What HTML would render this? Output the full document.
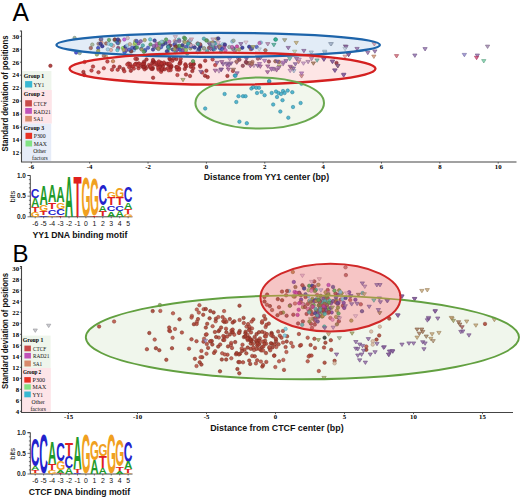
<!DOCTYPE html>
<html><head><meta charset="utf-8"><style>html,body{margin:0;padding:0;background:#fff;overflow:hidden}svg{display:block}</style></head>
<body><svg width="520" height="498" viewBox="0 0 520 498">
<rect x="0" y="0" width="520" height="498" fill="#fff"/>
<text transform="translate(12.6,20.6) scale(0.95,1)" font-family="'Liberation Sans', sans-serif" font-size="26" fill="#000">A</text>
<text x="12.4" y="262.2" font-family="'Liberation Sans', sans-serif" font-size="24" fill="#000">B</text>
<ellipse cx="218.15" cy="44.9" rx="161.75" ry="12.1" fill="#e2ecf7"/>
<ellipse cx="222.5" cy="68.7" rx="153" ry="16" fill="#fde0e0" fill-opacity="0.85"/>
<ellipse cx="259.7" cy="103" rx="64.3" ry="25.6" fill="#f0f6ea" fill-opacity="0.85"/>
<ellipse cx="302.4" cy="337.3" rx="216.6" ry="42" fill="#f0f6ec"/>
<ellipse cx="330.5" cy="297.6" rx="70" ry="33.8" fill="#f8cccc" fill-opacity="0.94"/>
<circle cx="84.6" cy="62.0" r="1.75" fill="#c03a3a" fill-opacity="0.85" stroke="#902b2b" stroke-width="0.5"/>
<circle cx="83.4" cy="72.0" r="1.75" fill="#a82a2a" fill-opacity="0.85" stroke="#7e1f1f" stroke-width="0.5"/>
<circle cx="84.3" cy="75.0" r="1.75" fill="#a42626" fill-opacity="0.85" stroke="#7b1c1c" stroke-width="0.5"/>
<circle cx="93.0" cy="66.6" r="1.75" fill="#b83232" fill-opacity="0.85" stroke="#8a2525" stroke-width="0.5"/>
<circle cx="91.5" cy="70.5" r="1.75" fill="#b83232" fill-opacity="0.85" stroke="#8a2525" stroke-width="0.5"/>
<circle cx="98.5" cy="72.3" r="1.75" fill="#b83232" fill-opacity="0.85" stroke="#8a2525" stroke-width="0.5"/>
<circle cx="103.8" cy="68.2" r="1.75" fill="#c03a3a" fill-opacity="0.85" stroke="#902b2b" stroke-width="0.5"/>
<circle cx="107.4" cy="61.5" r="1.75" fill="#b83232" fill-opacity="0.85" stroke="#8a2525" stroke-width="0.5"/>
<circle cx="113.8" cy="66.6" r="1.75" fill="#a82a2a" fill-opacity="0.85" stroke="#7e1f1f" stroke-width="0.5"/>
<circle cx="112.0" cy="69.7" r="1.75" fill="#b83232" fill-opacity="0.85" stroke="#8a2525" stroke-width="0.5"/>
<circle cx="117.7" cy="69.7" r="1.75" fill="#b83232" fill-opacity="0.85" stroke="#8a2525" stroke-width="0.5"/>
<circle cx="119.7" cy="67.0" r="1.75" fill="#a42626" fill-opacity="0.85" stroke="#7b1c1c" stroke-width="0.5"/>
<circle cx="123.4" cy="69.0" r="1.75" fill="#a42626" fill-opacity="0.85" stroke="#7b1c1c" stroke-width="0.5"/>
<circle cx="124.3" cy="71.2" r="1.75" fill="#b83232" fill-opacity="0.85" stroke="#8a2525" stroke-width="0.5"/>
<circle cx="128.5" cy="63.5" r="1.75" fill="#a82a2a" fill-opacity="0.85" stroke="#7e1f1f" stroke-width="0.5"/>
<circle cx="130.0" cy="64.0" r="1.75" fill="#b83232" fill-opacity="0.85" stroke="#8a2525" stroke-width="0.5"/>
<circle cx="130.8" cy="70.8" r="1.75" fill="#a42626" fill-opacity="0.85" stroke="#7b1c1c" stroke-width="0.5"/>
<circle cx="133.8" cy="68.6" r="1.75" fill="#b83232" fill-opacity="0.85" stroke="#8a2525" stroke-width="0.5"/>
<circle cx="135.4" cy="64.3" r="1.75" fill="#b83232" fill-opacity="0.85" stroke="#8a2525" stroke-width="0.5"/>
<circle cx="137.0" cy="59.0" r="1.75" fill="#a82a2a" fill-opacity="0.85" stroke="#7e1f1f" stroke-width="0.5"/>
<circle cx="138.5" cy="68.2" r="1.75" fill="#b83232" fill-opacity="0.85" stroke="#8a2525" stroke-width="0.5"/>
<circle cx="50.4" cy="65.8" r="1.75" fill="#a42626" fill-opacity="0.85" stroke="#7b1c1c" stroke-width="0.5"/>
<circle cx="135.4" cy="58.8" r="1.75" fill="#b83232" fill-opacity="0.85" stroke="#8a2525" stroke-width="0.5"/>
<circle cx="113.0" cy="61.2" r="1.75" fill="#c88050" fill-opacity="0.85" stroke="#96603c" stroke-width="0.5"/>
<circle cx="106.0" cy="56.6" r="1.75" fill="#c0a070" fill-opacity="0.85" stroke="#907854" stroke-width="0.5"/>
<circle cx="103.8" cy="55.7" r="1.75" fill="#a07060" fill-opacity="0.85" stroke="#785448" stroke-width="0.5"/>
<circle cx="169.4" cy="65.6" r="1.75" fill="#a82a2a" fill-opacity="0.85" stroke="#7e1f1f" stroke-width="0.5"/>
<circle cx="160.1" cy="67.9" r="1.75" fill="#b83232" fill-opacity="0.85" stroke="#8a2525" stroke-width="0.5"/>
<circle cx="138.7" cy="63.6" r="1.75" fill="#a82a2a" fill-opacity="0.85" stroke="#7e1f1f" stroke-width="0.5"/>
<circle cx="184.8" cy="68.9" r="1.75" fill="#a82a2a" fill-opacity="0.85" stroke="#7e1f1f" stroke-width="0.5"/>
<circle cx="144.6" cy="69.3" r="1.75" fill="#b83232" fill-opacity="0.85" stroke="#8a2525" stroke-width="0.5"/>
<circle cx="136.2" cy="63.7" r="1.75" fill="#a42626" fill-opacity="0.85" stroke="#7b1c1c" stroke-width="0.5"/>
<circle cx="153.6" cy="62.1" r="1.75" fill="#c03a3a" fill-opacity="0.85" stroke="#902b2b" stroke-width="0.5"/>
<circle cx="152.8" cy="68.1" r="1.75" fill="#a82a2a" fill-opacity="0.85" stroke="#7e1f1f" stroke-width="0.5"/>
<circle cx="158.1" cy="63.0" r="1.75" fill="#c03a3a" fill-opacity="0.85" stroke="#902b2b" stroke-width="0.5"/>
<circle cx="160.8" cy="62.6" r="1.75" fill="#b83232" fill-opacity="0.85" stroke="#8a2525" stroke-width="0.5"/>
<circle cx="179.1" cy="68.5" r="1.75" fill="#c03a3a" fill-opacity="0.85" stroke="#902b2b" stroke-width="0.5"/>
<circle cx="177.1" cy="69.5" r="1.75" fill="#b83232" fill-opacity="0.85" stroke="#8a2525" stroke-width="0.5"/>
<circle cx="171.2" cy="65.4" r="1.75" fill="#c03a3a" fill-opacity="0.85" stroke="#902b2b" stroke-width="0.5"/>
<circle cx="152.5" cy="68.9" r="1.75" fill="#a42626" fill-opacity="0.85" stroke="#7b1c1c" stroke-width="0.5"/>
<circle cx="142.7" cy="63.7" r="1.75" fill="#b83232" fill-opacity="0.85" stroke="#8a2525" stroke-width="0.5"/>
<circle cx="185.4" cy="64.3" r="1.75" fill="#b83232" fill-opacity="0.85" stroke="#8a2525" stroke-width="0.5"/>
<circle cx="193.3" cy="68.1" r="1.75" fill="#a42626" fill-opacity="0.85" stroke="#7b1c1c" stroke-width="0.5"/>
<circle cx="158.5" cy="69.6" r="1.75" fill="#c03a3a" fill-opacity="0.85" stroke="#902b2b" stroke-width="0.5"/>
<circle cx="186.1" cy="66.4" r="1.75" fill="#a82a2a" fill-opacity="0.85" stroke="#7e1f1f" stroke-width="0.5"/>
<circle cx="144.2" cy="62.9" r="1.75" fill="#a82a2a" fill-opacity="0.85" stroke="#7e1f1f" stroke-width="0.5"/>
<circle cx="164.3" cy="63.8" r="1.75" fill="#a82a2a" fill-opacity="0.85" stroke="#7e1f1f" stroke-width="0.5"/>
<circle cx="150.3" cy="65.9" r="1.75" fill="#a42626" fill-opacity="0.85" stroke="#7b1c1c" stroke-width="0.5"/>
<circle cx="180.7" cy="58.7" r="1.75" fill="#c03a3a" fill-opacity="0.85" stroke="#902b2b" stroke-width="0.5"/>
<circle cx="154.6" cy="62.3" r="1.75" fill="#a82a2a" fill-opacity="0.85" stroke="#7e1f1f" stroke-width="0.5"/>
<circle cx="170.6" cy="67.8" r="1.75" fill="#a82a2a" fill-opacity="0.85" stroke="#7e1f1f" stroke-width="0.5"/>
<circle cx="161.2" cy="65.3" r="1.75" fill="#a82a2a" fill-opacity="0.85" stroke="#7e1f1f" stroke-width="0.5"/>
<circle cx="162.8" cy="66.2" r="1.75" fill="#a42626" fill-opacity="0.85" stroke="#7b1c1c" stroke-width="0.5"/>
<circle cx="134.9" cy="64.6" r="1.75" fill="#c03a3a" fill-opacity="0.85" stroke="#902b2b" stroke-width="0.5"/>
<circle cx="193.8" cy="64.1" r="1.75" fill="#b83232" fill-opacity="0.85" stroke="#8a2525" stroke-width="0.5"/>
<circle cx="193.3" cy="64.0" r="1.75" fill="#a42626" fill-opacity="0.85" stroke="#7b1c1c" stroke-width="0.5"/>
<circle cx="146.1" cy="68.1" r="1.75" fill="#a42626" fill-opacity="0.85" stroke="#7b1c1c" stroke-width="0.5"/>
<circle cx="158.0" cy="64.8" r="1.75" fill="#b83232" fill-opacity="0.85" stroke="#8a2525" stroke-width="0.5"/>
<circle cx="185.5" cy="65.4" r="1.75" fill="#b83232" fill-opacity="0.85" stroke="#8a2525" stroke-width="0.5"/>
<circle cx="159.3" cy="66.9" r="1.75" fill="#b83232" fill-opacity="0.85" stroke="#8a2525" stroke-width="0.5"/>
<circle cx="139.2" cy="63.8" r="1.75" fill="#c03a3a" fill-opacity="0.85" stroke="#902b2b" stroke-width="0.5"/>
<circle cx="156.9" cy="64.8" r="1.75" fill="#a82a2a" fill-opacity="0.85" stroke="#7e1f1f" stroke-width="0.5"/>
<circle cx="154.0" cy="64.3" r="1.75" fill="#c03a3a" fill-opacity="0.85" stroke="#902b2b" stroke-width="0.5"/>
<circle cx="190.4" cy="64.3" r="1.75" fill="#a42626" fill-opacity="0.85" stroke="#7b1c1c" stroke-width="0.5"/>
<circle cx="192.3" cy="71.1" r="1.75" fill="#a42626" fill-opacity="0.85" stroke="#7b1c1c" stroke-width="0.5"/>
<circle cx="145.0" cy="66.2" r="1.75" fill="#a82a2a" fill-opacity="0.85" stroke="#7e1f1f" stroke-width="0.5"/>
<circle cx="178.4" cy="67.9" r="1.75" fill="#c03a3a" fill-opacity="0.85" stroke="#902b2b" stroke-width="0.5"/>
<circle cx="131.1" cy="66.6" r="1.75" fill="#b83232" fill-opacity="0.85" stroke="#8a2525" stroke-width="0.5"/>
<circle cx="177.4" cy="75.0" r="1.75" fill="#c03a3a" fill-opacity="0.85" stroke="#902b2b" stroke-width="0.5"/>
<circle cx="178.9" cy="69.7" r="1.75" fill="#b83232" fill-opacity="0.85" stroke="#8a2525" stroke-width="0.5"/>
<circle cx="163.9" cy="62.5" r="1.75" fill="#b83232" fill-opacity="0.85" stroke="#8a2525" stroke-width="0.5"/>
<circle cx="157.6" cy="62.9" r="1.75" fill="#c03a3a" fill-opacity="0.85" stroke="#902b2b" stroke-width="0.5"/>
<circle cx="179.5" cy="63.8" r="1.75" fill="#a82a2a" fill-opacity="0.85" stroke="#7e1f1f" stroke-width="0.5"/>
<circle cx="127.3" cy="64.4" r="1.75" fill="#c03a3a" fill-opacity="0.85" stroke="#902b2b" stroke-width="0.5"/>
<circle cx="144.1" cy="61.7" r="1.75" fill="#a82a2a" fill-opacity="0.85" stroke="#7e1f1f" stroke-width="0.5"/>
<circle cx="176.4" cy="59.0" r="1.75" fill="#a82a2a" fill-opacity="0.85" stroke="#7e1f1f" stroke-width="0.5"/>
<circle cx="170.6" cy="70.1" r="1.75" fill="#b83232" fill-opacity="0.85" stroke="#8a2525" stroke-width="0.5"/>
<circle cx="200.0" cy="65.4" r="1.75" fill="#a42626" fill-opacity="0.85" stroke="#7b1c1c" stroke-width="0.5"/>
<circle cx="161.1" cy="71.8" r="1.75" fill="#c03a3a" fill-opacity="0.85" stroke="#902b2b" stroke-width="0.5"/>
<circle cx="215.2" cy="65.1" r="1.75" fill="#c03a3a" fill-opacity="0.85" stroke="#902b2b" stroke-width="0.5"/>
<circle cx="171.5" cy="66.7" r="1.75" fill="#a42626" fill-opacity="0.85" stroke="#7b1c1c" stroke-width="0.5"/>
<circle cx="167.7" cy="68.3" r="1.75" fill="#b83232" fill-opacity="0.85" stroke="#8a2525" stroke-width="0.5"/>
<circle cx="132.7" cy="66.5" r="1.75" fill="#b83232" fill-opacity="0.85" stroke="#8a2525" stroke-width="0.5"/>
<circle cx="168.4" cy="64.1" r="1.75" fill="#a42626" fill-opacity="0.85" stroke="#7b1c1c" stroke-width="0.5"/>
<circle cx="170.0" cy="59.4" r="1.75" fill="#a42626" fill-opacity="0.85" stroke="#7b1c1c" stroke-width="0.5"/>
<circle cx="180.2" cy="63.1" r="1.75" fill="#c03a3a" fill-opacity="0.85" stroke="#902b2b" stroke-width="0.5"/>
<circle cx="206.4" cy="70.7" r="1.75" fill="#a42626" fill-opacity="0.85" stroke="#7b1c1c" stroke-width="0.5"/>
<circle cx="129.3" cy="67.3" r="1.75" fill="#b83232" fill-opacity="0.85" stroke="#8a2525" stroke-width="0.5"/>
<circle cx="161.0" cy="63.4" r="1.75" fill="#a82a2a" fill-opacity="0.85" stroke="#7e1f1f" stroke-width="0.5"/>
<circle cx="190.7" cy="66.7" r="1.75" fill="#a42626" fill-opacity="0.85" stroke="#7b1c1c" stroke-width="0.5"/>
<circle cx="167.1" cy="63.7" r="1.75" fill="#a42626" fill-opacity="0.85" stroke="#7b1c1c" stroke-width="0.5"/>
<circle cx="152.3" cy="62.8" r="1.75" fill="#a82a2a" fill-opacity="0.85" stroke="#7e1f1f" stroke-width="0.5"/>
<circle cx="200.3" cy="66.7" r="1.75" fill="#b83232" fill-opacity="0.85" stroke="#8a2525" stroke-width="0.5"/>
<circle cx="169.7" cy="63.4" r="1.75" fill="#c03a3a" fill-opacity="0.85" stroke="#902b2b" stroke-width="0.5"/>
<circle cx="168.7" cy="70.3" r="1.75" fill="#c03a3a" fill-opacity="0.85" stroke="#902b2b" stroke-width="0.5"/>
<circle cx="161.7" cy="69.9" r="1.75" fill="#a82a2a" fill-opacity="0.85" stroke="#7e1f1f" stroke-width="0.5"/>
<circle cx="176.3" cy="67.1" r="1.75" fill="#a42626" fill-opacity="0.85" stroke="#7b1c1c" stroke-width="0.5"/>
<circle cx="146.5" cy="59.5" r="1.75" fill="#a42626" fill-opacity="0.85" stroke="#7b1c1c" stroke-width="0.5"/>
<circle cx="169.5" cy="58.6" r="1.75" fill="#a82a2a" fill-opacity="0.85" stroke="#7e1f1f" stroke-width="0.5"/>
<circle cx="143.7" cy="64.2" r="1.75" fill="#b83232" fill-opacity="0.85" stroke="#8a2525" stroke-width="0.5"/>
<circle cx="172.5" cy="60.7" r="1.75" fill="#b83232" fill-opacity="0.85" stroke="#8a2525" stroke-width="0.5"/>
<circle cx="159.1" cy="63.0" r="1.75" fill="#a82a2a" fill-opacity="0.85" stroke="#7e1f1f" stroke-width="0.5"/>
<circle cx="139.0" cy="65.9" r="1.75" fill="#b83232" fill-opacity="0.85" stroke="#8a2525" stroke-width="0.5"/>
<circle cx="151.3" cy="68.8" r="1.75" fill="#a42626" fill-opacity="0.85" stroke="#7b1c1c" stroke-width="0.5"/>
<circle cx="159.2" cy="63.4" r="1.75" fill="#b83232" fill-opacity="0.85" stroke="#8a2525" stroke-width="0.5"/>
<circle cx="158.1" cy="67.8" r="1.75" fill="#b83232" fill-opacity="0.85" stroke="#8a2525" stroke-width="0.5"/>
<circle cx="142.6" cy="64.8" r="1.75" fill="#b83232" fill-opacity="0.85" stroke="#8a2525" stroke-width="0.5"/>
<circle cx="142.5" cy="66.7" r="1.75" fill="#a82a2a" fill-opacity="0.85" stroke="#7e1f1f" stroke-width="0.5"/>
<circle cx="153.4" cy="61.4" r="1.75" fill="#a42626" fill-opacity="0.85" stroke="#7b1c1c" stroke-width="0.5"/>
<circle cx="149.0" cy="64.9" r="1.75" fill="#c03a3a" fill-opacity="0.85" stroke="#902b2b" stroke-width="0.5"/>
<circle cx="180.4" cy="61.6" r="1.75" fill="#a82a2a" fill-opacity="0.85" stroke="#7e1f1f" stroke-width="0.5"/>
<circle cx="161.5" cy="63.4" r="1.75" fill="#b83232" fill-opacity="0.85" stroke="#8a2525" stroke-width="0.5"/>
<circle cx="149.8" cy="66.9" r="1.75" fill="#a82a2a" fill-opacity="0.85" stroke="#7e1f1f" stroke-width="0.5"/>
<circle cx="150.5" cy="66.1" r="1.75" fill="#c03a3a" fill-opacity="0.85" stroke="#902b2b" stroke-width="0.5"/>
<circle cx="227.4" cy="75.9" r="1.75" fill="#a82a2a" fill-opacity="0.85" stroke="#7e1f1f" stroke-width="0.5"/>
<circle cx="232.9" cy="70.9" r="1.75" fill="#c03a3a" fill-opacity="0.85" stroke="#902b2b" stroke-width="0.5"/>
<circle cx="205.0" cy="75.7" r="1.75" fill="#a42626" fill-opacity="0.85" stroke="#7b1c1c" stroke-width="0.5"/>
<circle cx="207.7" cy="77.1" r="1.75" fill="#a42626" fill-opacity="0.85" stroke="#7b1c1c" stroke-width="0.5"/>
<circle cx="205.2" cy="60.7" r="1.75" fill="#a82a2a" fill-opacity="0.85" stroke="#7e1f1f" stroke-width="0.5"/>
<circle cx="143.7" cy="66.9" r="1.75" fill="#a42626" fill-opacity="0.85" stroke="#7b1c1c" stroke-width="0.5"/>
<circle cx="158.8" cy="61.5" r="1.75" fill="#c03a3a" fill-opacity="0.85" stroke="#902b2b" stroke-width="0.5"/>
<circle cx="137.8" cy="65.4" r="1.75" fill="#c03a3a" fill-opacity="0.85" stroke="#902b2b" stroke-width="0.5"/>
<circle cx="177.1" cy="67.1" r="1.75" fill="#b83232" fill-opacity="0.85" stroke="#8a2525" stroke-width="0.5"/>
<circle cx="162.7" cy="68.9" r="1.75" fill="#c03a3a" fill-opacity="0.85" stroke="#902b2b" stroke-width="0.5"/>
<circle cx="173.5" cy="58.5" r="1.75" fill="#a82a2a" fill-opacity="0.85" stroke="#7e1f1f" stroke-width="0.5"/>
<circle cx="212.6" cy="59.4" r="1.75" fill="#c03a3a" fill-opacity="0.85" stroke="#902b2b" stroke-width="0.5"/>
<circle cx="153.1" cy="77.8" r="1.75" fill="#a82a2a" fill-opacity="0.85" stroke="#7e1f1f" stroke-width="0.5"/>
<circle cx="153.0" cy="60.0" r="1.75" fill="#a42626" fill-opacity="0.85" stroke="#7b1c1c" stroke-width="0.5"/>
<circle cx="202.2" cy="72.5" r="1.75" fill="#c03a3a" fill-opacity="0.85" stroke="#902b2b" stroke-width="0.5"/>
<circle cx="164.5" cy="69.3" r="1.75" fill="#a42626" fill-opacity="0.85" stroke="#7b1c1c" stroke-width="0.5"/>
<circle cx="193.0" cy="61.2" r="1.75" fill="#58a058" fill-opacity="0.85" stroke="#427842" stroke-width="0.5"/>
<circle cx="186.0" cy="74.6" r="1.75" fill="#b03030" fill-opacity="0.85" stroke="#842424" stroke-width="0.5"/>
<circle cx="190.0" cy="76.0" r="1.75" fill="#b03030" fill-opacity="0.85" stroke="#842424" stroke-width="0.5"/>
<circle cx="336.5" cy="63.0" r="1.75" fill="#902838" fill-opacity="0.85" stroke="#6c1e2a" stroke-width="0.5"/>
<circle cx="275.4" cy="61.2" r="1.75" fill="#a06050" fill-opacity="0.85" stroke="#78483c" stroke-width="0.5"/>
<circle cx="279.0" cy="62.0" r="1.75" fill="#a06050" fill-opacity="0.85" stroke="#78483c" stroke-width="0.5"/>
<path d="M180.8,78.4h4.3l-2.1,3.4z" fill="#a0a060" fill-opacity="0.75" stroke="#80804c" stroke-width="0.6"/>
<path d="M198.7,70.4h4.3l-2.1,3.4z" fill="#8a62a2" fill-opacity="0.75" stroke="#6e4e81" stroke-width="0.6"/>
<path d="M270.9,67.4h4.3l-2.1,3.4z" fill="#8a62a2" fill-opacity="0.75" stroke="#6e4e81" stroke-width="0.6"/>
<path d="M277.1,65.0h4.3l-2.1,3.4z" fill="#a0a060" fill-opacity="0.75" stroke="#80804c" stroke-width="0.6"/>
<path d="M280.9,62.7h4.3l-2.1,3.4z" fill="#b080b0" fill-opacity="0.75" stroke="#8c668c" stroke-width="0.6"/>
<path d="M283.9,59.6h4.3l-2.1,3.4z" fill="#8a62a2" fill-opacity="0.75" stroke="#6e4e81" stroke-width="0.6"/>
<path d="M287.6,57.4h4.3l-2.1,3.4z" fill="#60b0a0" fill-opacity="0.75" stroke="#4c8c80" stroke-width="0.6"/>
<path d="M289.4,66.6h4.3l-2.1,3.4z" fill="#c0a070" fill-opacity="0.75" stroke="#998059" stroke-width="0.6"/>
<path d="M291.7,69.6h4.3l-2.1,3.4z" fill="#a8bcd4" fill-opacity="0.75" stroke="#8696a9" stroke-width="0.6"/>
<path d="M293.2,62.7h4.3l-2.1,3.4z" fill="#8a62a2" fill-opacity="0.75" stroke="#6e4e81" stroke-width="0.6"/>
<path d="M296.4,60.4h4.3l-2.1,3.4z" fill="#d08080" fill-opacity="0.75" stroke="#a66666" stroke-width="0.6"/>
<path d="M294.4,57.4h4.3l-2.1,3.4z" fill="#8a62a2" fill-opacity="0.75" stroke="#6e4e81" stroke-width="0.6"/>
<path d="M299.4,74.7h4.3l-2.1,3.4z" fill="#d08080" fill-opacity="0.75" stroke="#a66666" stroke-width="0.6"/>
<path d="M305.9,60.4h4.3l-2.1,3.4z" fill="#b080b0" fill-opacity="0.75" stroke="#8c668c" stroke-width="0.6"/>
<path d="M309.4,57.4h4.3l-2.1,3.4z" fill="#b080b0" fill-opacity="0.75" stroke="#8c668c" stroke-width="0.6"/>
<path d="M311.2,61.9h4.3l-2.1,3.4z" fill="#a07050" fill-opacity="0.75" stroke="#805940" stroke-width="0.6"/>
<path d="M314.9,58.9h4.3l-2.1,3.4z" fill="#60b0a0" fill-opacity="0.75" stroke="#4c8c80" stroke-width="0.6"/>
<path d="M321.7,58.1h4.3l-2.1,3.4z" fill="#8a62a2" fill-opacity="0.75" stroke="#6e4e81" stroke-width="0.6"/>
<path d="M330.2,60.4h4.3l-2.1,3.4z" fill="#8a62a2" fill-opacity="0.75" stroke="#6e4e81" stroke-width="0.6"/>
<path d="M335.6,64.6h4.3l-2.1,3.4z" fill="#a07050" fill-opacity="0.75" stroke="#805940" stroke-width="0.6"/>
<path d="M332.5,68.9h4.3l-2.1,3.4z" fill="#8a62a2" fill-opacity="0.75" stroke="#6e4e81" stroke-width="0.6"/>
<path d="M341.7,73.2h4.3l-2.1,3.4z" fill="#8a62a2" fill-opacity="0.75" stroke="#6e4e81" stroke-width="0.6"/>
<path d="M321.7,57.6h4.3l-2.1,3.4z" fill="#8a62a2" fill-opacity="0.75" stroke="#6e4e81" stroke-width="0.6"/>
<path d="M330.4,59.9h4.3l-2.1,3.4z" fill="#8a62a2" fill-opacity="0.75" stroke="#6e4e81" stroke-width="0.6"/>
<path d="M335.6,64.4h4.3l-2.1,3.4z" fill="#8a62a2" fill-opacity="0.75" stroke="#6e4e81" stroke-width="0.6"/>
<path d="M332.9,69.0h4.3l-2.1,3.4z" fill="#8a62a2" fill-opacity="0.75" stroke="#6e4e81" stroke-width="0.6"/>
<path d="M341.4,73.8h4.3l-2.1,3.4z" fill="#8a62a2" fill-opacity="0.75" stroke="#6e4e81" stroke-width="0.6"/>
<path d="M281.2,61.0h4.3l-2.1,3.4z" fill="#b070b8" fill-opacity="0.75" stroke="#8c5993" stroke-width="0.6"/>
<path d="M228.9,61.9h4.3l-2.1,3.4z" fill="#8a62a2" fill-opacity="0.75" stroke="#6e4e81" stroke-width="0.6"/>
<path d="M235.4,56.6h4.3l-2.1,3.4z" fill="#a05a98" fill-opacity="0.75" stroke="#804879" stroke-width="0.6"/>
<path d="M262.4,59.4h4.3l-2.1,3.4z" fill="#b070b8" fill-opacity="0.75" stroke="#8c5993" stroke-width="0.6"/>
<path d="M297.0,58.1h4.3l-2.1,3.4z" fill="#c090c0" fill-opacity="0.75" stroke="#997399" stroke-width="0.6"/>
<path d="M251.7,64.3h4.3l-2.1,3.4z" fill="#c090c0" fill-opacity="0.75" stroke="#997399" stroke-width="0.6"/>
<path d="M248.2,64.5h4.3l-2.1,3.4z" fill="#a05a98" fill-opacity="0.75" stroke="#804879" stroke-width="0.6"/>
<path d="M301.3,61.9h4.3l-2.1,3.4z" fill="#c090c0" fill-opacity="0.75" stroke="#997399" stroke-width="0.6"/>
<path d="M276.5,66.6h4.3l-2.1,3.4z" fill="#b070b8" fill-opacity="0.75" stroke="#8c5993" stroke-width="0.6"/>
<path d="M244.1,57.3h4.3l-2.1,3.4z" fill="#8a62a2" fill-opacity="0.75" stroke="#6e4e81" stroke-width="0.6"/>
<path d="M219.2,68.2h4.3l-2.1,3.4z" fill="#8a62a2" fill-opacity="0.75" stroke="#6e4e81" stroke-width="0.6"/>
<path d="M227.5,57.7h4.3l-2.1,3.4z" fill="#c090c0" fill-opacity="0.75" stroke="#997399" stroke-width="0.6"/>
<path d="M291.2,67.1h4.3l-2.1,3.4z" fill="#8a62a2" fill-opacity="0.75" stroke="#6e4e81" stroke-width="0.6"/>
<path d="M234.6,61.1h4.3l-2.1,3.4z" fill="#b070b8" fill-opacity="0.75" stroke="#8c5993" stroke-width="0.6"/>
<path d="M227.0,63.5h4.3l-2.1,3.4z" fill="#8a62a2" fill-opacity="0.75" stroke="#6e4e81" stroke-width="0.6"/>
<path d="M299.4,71.9h4.3l-2.1,3.4z" fill="#b070b8" fill-opacity="0.75" stroke="#8c5993" stroke-width="0.6"/>
<path d="M234.9,71.8h4.3l-2.1,3.4z" fill="#8a62a2" fill-opacity="0.75" stroke="#6e4e81" stroke-width="0.6"/>
<path d="M244.9,56.4h4.3l-2.1,3.4z" fill="#8a62a2" fill-opacity="0.75" stroke="#6e4e81" stroke-width="0.6"/>
<path d="M255.6,64.4h4.3l-2.1,3.4z" fill="#8a62a2" fill-opacity="0.75" stroke="#6e4e81" stroke-width="0.6"/>
<path d="M258.3,56.5h4.3l-2.1,3.4z" fill="#8a62a2" fill-opacity="0.75" stroke="#6e4e81" stroke-width="0.6"/>
<path d="M220.9,62.8h4.3l-2.1,3.4z" fill="#8a62a2" fill-opacity="0.75" stroke="#6e4e81" stroke-width="0.6"/>
<path d="M214.9,61.3h4.3l-2.1,3.4z" fill="#8a62a2" fill-opacity="0.75" stroke="#6e4e81" stroke-width="0.6"/>
<path d="M265.6,64.9h4.3l-2.1,3.4z" fill="#a05a98" fill-opacity="0.75" stroke="#804879" stroke-width="0.6"/>
<path d="M272.0,67.8h4.3l-2.1,3.4z" fill="#c090c0" fill-opacity="0.75" stroke="#997399" stroke-width="0.6"/>
<path d="M247.9,61.6h4.3l-2.1,3.4z" fill="#a07060" fill-opacity="0.75" stroke="#80594c" stroke-width="0.6"/>
<path d="M226.3,68.0h4.3l-2.1,3.4z" fill="#a05a98" fill-opacity="0.75" stroke="#804879" stroke-width="0.6"/>
<path d="M216.8,69.8h4.3l-2.1,3.4z" fill="#c090c0" fill-opacity="0.75" stroke="#997399" stroke-width="0.6"/>
<path d="M269.3,68.1h4.3l-2.1,3.4z" fill="#c090c0" fill-opacity="0.75" stroke="#997399" stroke-width="0.6"/>
<path d="M225.4,64.8h4.3l-2.1,3.4z" fill="#b070b8" fill-opacity="0.75" stroke="#8c5993" stroke-width="0.6"/>
<path d="M288.0,69.3h4.3l-2.1,3.4z" fill="#c090c0" fill-opacity="0.75" stroke="#997399" stroke-width="0.6"/>
<path d="M265.4,70.7h4.3l-2.1,3.4z" fill="#a05a98" fill-opacity="0.75" stroke="#804879" stroke-width="0.6"/>
<path d="M275.2,60.1h4.3l-2.1,3.4z" fill="#8a62a2" fill-opacity="0.75" stroke="#6e4e81" stroke-width="0.6"/>
<path d="M224.8,62.2h4.3l-2.1,3.4z" fill="#8a62a2" fill-opacity="0.75" stroke="#6e4e81" stroke-width="0.6"/>
<path d="M288.1,65.3h4.3l-2.1,3.4z" fill="#a05a98" fill-opacity="0.75" stroke="#804879" stroke-width="0.6"/>
<path d="M269.2,67.3h4.3l-2.1,3.4z" fill="#b070b8" fill-opacity="0.75" stroke="#8c5993" stroke-width="0.6"/>
<path d="M213.1,69.2h4.3l-2.1,3.4z" fill="#a05a98" fill-opacity="0.75" stroke="#804879" stroke-width="0.6"/>
<path d="M258.1,65.0h4.3l-2.1,3.4z" fill="#a05a98" fill-opacity="0.75" stroke="#804879" stroke-width="0.6"/>
<path d="M218.8,68.2h4.3l-2.1,3.4z" fill="#8a62a2" fill-opacity="0.75" stroke="#6e4e81" stroke-width="0.6"/>
<path d="M219.6,60.6h4.3l-2.1,3.4z" fill="#a05a98" fill-opacity="0.75" stroke="#804879" stroke-width="0.6"/>
<path d="M231.3,68.2h4.3l-2.1,3.4z" fill="#a07060" fill-opacity="0.75" stroke="#80594c" stroke-width="0.6"/>
<path d="M257.3,62.5h4.3l-2.1,3.4z" fill="#b070b8" fill-opacity="0.75" stroke="#8c5993" stroke-width="0.6"/>
<path d="M274.4,68.7h4.3l-2.1,3.4z" fill="#a05a98" fill-opacity="0.75" stroke="#804879" stroke-width="0.6"/>
<circle cx="257.9" cy="58.6" r="1.75" fill="#a05060" fill-opacity="0.85" stroke="#783c48" stroke-width="0.5"/>
<circle cx="247.3" cy="63.2" r="1.75" fill="#b07060" fill-opacity="0.85" stroke="#845448" stroke-width="0.5"/>
<circle cx="246.4" cy="62.5" r="1.75" fill="#a05060" fill-opacity="0.85" stroke="#783c48" stroke-width="0.5"/>
<circle cx="252.4" cy="61.9" r="1.75" fill="#b07060" fill-opacity="0.85" stroke="#845448" stroke-width="0.5"/>
<circle cx="239.4" cy="59.7" r="1.75" fill="#904050" fill-opacity="0.85" stroke="#6c303c" stroke-width="0.5"/>
<circle cx="245.9" cy="62.1" r="1.75" fill="#904050" fill-opacity="0.85" stroke="#6c303c" stroke-width="0.5"/>
<circle cx="251.8" cy="64.1" r="1.75" fill="#b07060" fill-opacity="0.85" stroke="#845448" stroke-width="0.5"/>
<circle cx="242.8" cy="65.8" r="1.75" fill="#904050" fill-opacity="0.85" stroke="#6c303c" stroke-width="0.5"/>
<circle cx="236.6" cy="61.7" r="1.75" fill="#b07060" fill-opacity="0.85" stroke="#845448" stroke-width="0.5"/>
<circle cx="268.9" cy="61.6" r="1.75" fill="#904050" fill-opacity="0.85" stroke="#6c303c" stroke-width="0.5"/>
<circle cx="74.6" cy="38.0" r="1.75" fill="#90a890" fill-opacity="0.85" stroke="#6c7e6c" stroke-width="0.5"/>
<circle cx="76.2" cy="52.6" r="1.75" fill="#3038c8" fill-opacity="0.85" stroke="#242a96" stroke-width="0.5"/>
<circle cx="79.7" cy="53.0" r="1.75" fill="#90a890" fill-opacity="0.85" stroke="#6c7e6c" stroke-width="0.5"/>
<circle cx="90.8" cy="48.0" r="1.75" fill="#a05a50" fill-opacity="0.85" stroke="#78433c" stroke-width="0.5"/>
<circle cx="92.3" cy="44.6" r="1.75" fill="#a0b090" fill-opacity="0.85" stroke="#78846c" stroke-width="0.5"/>
<circle cx="98.2" cy="48.0" r="1.75" fill="#3040c0" fill-opacity="0.85" stroke="#243090" stroke-width="0.5"/>
<circle cx="98.2" cy="51.0" r="1.75" fill="#a0a050" fill-opacity="0.85" stroke="#78783c" stroke-width="0.5"/>
<circle cx="96.9" cy="54.5" r="1.75" fill="#90a060" fill-opacity="0.85" stroke="#6c7848" stroke-width="0.5"/>
<circle cx="98.5" cy="43.8" r="1.75" fill="#a08080" fill-opacity="0.85" stroke="#786060" stroke-width="0.5"/>
<circle cx="100.8" cy="39.5" r="1.75" fill="#a05050" fill-opacity="0.85" stroke="#783c3c" stroke-width="0.5"/>
<circle cx="101.5" cy="42.6" r="1.75" fill="#e0a090" fill-opacity="0.85" stroke="#a8786c" stroke-width="0.5"/>
<circle cx="102.3" cy="46.2" r="1.75" fill="#2a2a90" fill-opacity="0.85" stroke="#1f1f6c" stroke-width="0.5"/>
<circle cx="106.2" cy="43.4" r="1.75" fill="#a06050" fill-opacity="0.85" stroke="#78483c" stroke-width="0.5"/>
<circle cx="113.0" cy="45.7" r="1.75" fill="#e0a0a0" fill-opacity="0.85" stroke="#a87878" stroke-width="0.5"/>
<circle cx="114.6" cy="40.0" r="1.75" fill="#90a080" fill-opacity="0.85" stroke="#6c7860" stroke-width="0.5"/>
<circle cx="119.2" cy="41.0" r="1.75" fill="#a05050" fill-opacity="0.85" stroke="#783c3c" stroke-width="0.5"/>
<circle cx="118.2" cy="48.0" r="1.75" fill="#8a4070" fill-opacity="0.85" stroke="#673054" stroke-width="0.5"/>
<circle cx="124.3" cy="39.5" r="1.75" fill="#c050d8" fill-opacity="0.85" stroke="#903ca2" stroke-width="0.5"/>
<circle cx="127.7" cy="38.0" r="1.75" fill="#d0b0b8" fill-opacity="0.85" stroke="#9c848a" stroke-width="0.5"/>
<circle cx="123.0" cy="48.0" r="1.75" fill="#88e048" fill-opacity="0.85" stroke="#66a836" stroke-width="0.5"/>
<circle cx="125.4" cy="46.8" r="1.75" fill="#2a2a90" fill-opacity="0.85" stroke="#1f1f6c" stroke-width="0.5"/>
<circle cx="126.2" cy="50.3" r="1.75" fill="#8090b8" fill-opacity="0.85" stroke="#606c8a" stroke-width="0.5"/>
<circle cx="124.6" cy="52.3" r="1.75" fill="#3050d0" fill-opacity="0.85" stroke="#243c9c" stroke-width="0.5"/>
<circle cx="130.8" cy="51.0" r="1.75" fill="#40a8a8" fill-opacity="0.85" stroke="#307e7e" stroke-width="0.5"/>
<circle cx="135.4" cy="41.0" r="1.75" fill="#b0a060" fill-opacity="0.85" stroke="#847848" stroke-width="0.5"/>
<circle cx="134.6" cy="44.2" r="1.75" fill="#c8d060" fill-opacity="0.85" stroke="#969c48" stroke-width="0.5"/>
<circle cx="136.0" cy="47.2" r="1.75" fill="#40b0b0" fill-opacity="0.85" stroke="#308484" stroke-width="0.5"/>
<circle cx="138.5" cy="43.4" r="1.75" fill="#8a44a8" fill-opacity="0.85" stroke="#67337e" stroke-width="0.5"/>
<circle cx="133.8" cy="50.3" r="1.75" fill="#88c4e4" fill-opacity="0.85" stroke="#6693ab" stroke-width="0.5"/>
<circle cx="206.9" cy="40.3" r="1.75" fill="#90a890" fill-opacity="0.85" stroke="#6c7e6c" stroke-width="0.5"/>
<circle cx="217.0" cy="38.8" r="1.75" fill="#c0a070" fill-opacity="0.85" stroke="#907854" stroke-width="0.5"/>
<circle cx="232.3" cy="41.5" r="1.75" fill="#88c4e4" fill-opacity="0.85" stroke="#6693ab" stroke-width="0.5"/>
<circle cx="237.0" cy="46.5" r="1.75" fill="#c83898" fill-opacity="0.85" stroke="#962a72" stroke-width="0.5"/>
<circle cx="242.3" cy="47.7" r="1.75" fill="#2a2a90" fill-opacity="0.85" stroke="#1f1f6c" stroke-width="0.5"/>
<circle cx="249.2" cy="46.8" r="1.75" fill="#2a2a90" fill-opacity="0.85" stroke="#1f1f6c" stroke-width="0.5"/>
<circle cx="260.8" cy="42.6" r="1.75" fill="#88c4e4" fill-opacity="0.85" stroke="#6693ab" stroke-width="0.5"/>
<circle cx="275.4" cy="39.5" r="1.75" fill="#30b090" fill-opacity="0.85" stroke="#24846c" stroke-width="0.5"/>
<circle cx="275.8" cy="39.5" r="1.75" fill="#30b090" fill-opacity="0.85" stroke="#24846c" stroke-width="0.5"/>
<circle cx="265.4" cy="50.3" r="1.75" fill="#a06050" fill-opacity="0.85" stroke="#78483c" stroke-width="0.5"/>
<circle cx="131.3" cy="51.3" r="1.75" fill="#883838" fill-opacity="0.85" stroke="#662a2a" stroke-width="0.5"/>
<circle cx="193.6" cy="46.3" r="1.75" fill="#e0b0c0" fill-opacity="0.85" stroke="#a88490" stroke-width="0.5"/>
<circle cx="179.9" cy="49.3" r="1.75" fill="#58c0d0" fill-opacity="0.85" stroke="#42909c" stroke-width="0.5"/>
<circle cx="165.6" cy="43.1" r="1.75" fill="#3a3a90" fill-opacity="0.85" stroke="#2b2b6c" stroke-width="0.5"/>
<circle cx="158.7" cy="49.0" r="1.75" fill="#98a898" fill-opacity="0.85" stroke="#727e72" stroke-width="0.5"/>
<circle cx="168.1" cy="47.0" r="1.75" fill="#7a7ab0" fill-opacity="0.85" stroke="#5b5b84" stroke-width="0.5"/>
<circle cx="169.3" cy="41.8" r="1.75" fill="#c060b0" fill-opacity="0.85" stroke="#904884" stroke-width="0.5"/>
<circle cx="156.8" cy="47.5" r="1.75" fill="#3a3a90" fill-opacity="0.85" stroke="#2b2b6c" stroke-width="0.5"/>
<circle cx="169.0" cy="48.6" r="1.75" fill="#58a058" fill-opacity="0.85" stroke="#427842" stroke-width="0.5"/>
<circle cx="183.5" cy="46.1" r="1.75" fill="#e0b0c0" fill-opacity="0.85" stroke="#a88490" stroke-width="0.5"/>
<circle cx="181.8" cy="47.0" r="1.75" fill="#98d068" fill-opacity="0.85" stroke="#729c4e" stroke-width="0.5"/>
<circle cx="190.2" cy="44.3" r="1.75" fill="#883838" fill-opacity="0.85" stroke="#662a2a" stroke-width="0.5"/>
<circle cx="184.1" cy="37.7" r="1.75" fill="#58a058" fill-opacity="0.85" stroke="#427842" stroke-width="0.5"/>
<circle cx="223.9" cy="47.4" r="1.75" fill="#8a5aa8" fill-opacity="0.85" stroke="#67437e" stroke-width="0.5"/>
<circle cx="157.9" cy="46.9" r="1.75" fill="#e0a090" fill-opacity="0.85" stroke="#a8786c" stroke-width="0.5"/>
<circle cx="188.9" cy="41.4" r="1.75" fill="#a85a58" fill-opacity="0.85" stroke="#7e4342" stroke-width="0.5"/>
<circle cx="184.2" cy="41.5" r="1.75" fill="#98a898" fill-opacity="0.85" stroke="#727e72" stroke-width="0.5"/>
<circle cx="162.9" cy="44.6" r="1.75" fill="#3a3a90" fill-opacity="0.85" stroke="#2b2b6c" stroke-width="0.5"/>
<circle cx="210.2" cy="43.8" r="1.75" fill="#58c0d0" fill-opacity="0.85" stroke="#42909c" stroke-width="0.5"/>
<circle cx="221.0" cy="51.7" r="1.75" fill="#48a8a8" fill-opacity="0.85" stroke="#367e7e" stroke-width="0.5"/>
<circle cx="214.3" cy="42.8" r="1.75" fill="#4a58c0" fill-opacity="0.85" stroke="#374290" stroke-width="0.5"/>
<circle cx="161.0" cy="47.2" r="1.75" fill="#4a58c0" fill-opacity="0.85" stroke="#374290" stroke-width="0.5"/>
<circle cx="178.9" cy="39.7" r="1.75" fill="#48a8a8" fill-opacity="0.85" stroke="#367e7e" stroke-width="0.5"/>
<circle cx="184.5" cy="50.1" r="1.75" fill="#8a5aa8" fill-opacity="0.85" stroke="#67437e" stroke-width="0.5"/>
<circle cx="213.4" cy="49.4" r="1.75" fill="#3a3a90" fill-opacity="0.85" stroke="#2b2b6c" stroke-width="0.5"/>
<circle cx="127.2" cy="45.5" r="1.75" fill="#98c8e0" fill-opacity="0.85" stroke="#7296a8" stroke-width="0.5"/>
<circle cx="156.2" cy="46.5" r="1.75" fill="#e0b0c0" fill-opacity="0.85" stroke="#a88490" stroke-width="0.5"/>
<circle cx="148.1" cy="47.7" r="1.75" fill="#4a58c0" fill-opacity="0.85" stroke="#374290" stroke-width="0.5"/>
<circle cx="199.4" cy="50.0" r="1.75" fill="#58a058" fill-opacity="0.85" stroke="#427842" stroke-width="0.5"/>
<circle cx="145.0" cy="50.9" r="1.75" fill="#4a58c0" fill-opacity="0.85" stroke="#374290" stroke-width="0.5"/>
<circle cx="145.2" cy="49.9" r="1.75" fill="#4a58c0" fill-opacity="0.85" stroke="#374290" stroke-width="0.5"/>
<circle cx="175.6" cy="52.1" r="1.75" fill="#48a8a8" fill-opacity="0.85" stroke="#367e7e" stroke-width="0.5"/>
<circle cx="156.7" cy="43.8" r="1.75" fill="#c060b0" fill-opacity="0.85" stroke="#904884" stroke-width="0.5"/>
<circle cx="129.9" cy="44.2" r="1.75" fill="#c0a888" fill-opacity="0.85" stroke="#907e66" stroke-width="0.5"/>
<circle cx="235.4" cy="50.2" r="1.75" fill="#98d068" fill-opacity="0.85" stroke="#729c4e" stroke-width="0.5"/>
<circle cx="162.6" cy="42.1" r="1.75" fill="#58a058" fill-opacity="0.85" stroke="#427842" stroke-width="0.5"/>
<circle cx="204.0" cy="48.5" r="1.75" fill="#e0a090" fill-opacity="0.85" stroke="#a8786c" stroke-width="0.5"/>
<circle cx="170.3" cy="45.6" r="1.75" fill="#883838" fill-opacity="0.85" stroke="#662a2a" stroke-width="0.5"/>
<circle cx="215.1" cy="43.4" r="1.75" fill="#48a8a8" fill-opacity="0.85" stroke="#367e7e" stroke-width="0.5"/>
<circle cx="132.2" cy="47.7" r="1.75" fill="#4a58c0" fill-opacity="0.85" stroke="#374290" stroke-width="0.5"/>
<circle cx="225.4" cy="50.2" r="1.75" fill="#c060b0" fill-opacity="0.85" stroke="#904884" stroke-width="0.5"/>
<circle cx="218.3" cy="38.5" r="1.75" fill="#3a3a90" fill-opacity="0.85" stroke="#2b2b6c" stroke-width="0.5"/>
<circle cx="182.3" cy="45.3" r="1.75" fill="#3a3a90" fill-opacity="0.85" stroke="#2b2b6c" stroke-width="0.5"/>
<circle cx="174.5" cy="45.0" r="1.75" fill="#c060b0" fill-opacity="0.85" stroke="#904884" stroke-width="0.5"/>
<circle cx="222.9" cy="44.2" r="1.75" fill="#98c8e0" fill-opacity="0.85" stroke="#7296a8" stroke-width="0.5"/>
<circle cx="134.9" cy="48.1" r="1.75" fill="#3a3a90" fill-opacity="0.85" stroke="#2b2b6c" stroke-width="0.5"/>
<circle cx="190.4" cy="48.4" r="1.75" fill="#a8a060" fill-opacity="0.85" stroke="#7e7848" stroke-width="0.5"/>
<circle cx="219.3" cy="45.5" r="1.75" fill="#7a7ab0" fill-opacity="0.85" stroke="#5b5b84" stroke-width="0.5"/>
<circle cx="177.3" cy="48.9" r="1.75" fill="#a8a060" fill-opacity="0.85" stroke="#7e7848" stroke-width="0.5"/>
<circle cx="183.8" cy="50.4" r="1.75" fill="#98c8e0" fill-opacity="0.85" stroke="#7296a8" stroke-width="0.5"/>
<circle cx="212.4" cy="46.3" r="1.75" fill="#8a5aa8" fill-opacity="0.85" stroke="#67437e" stroke-width="0.5"/>
<circle cx="200.5" cy="46.4" r="1.75" fill="#98a898" fill-opacity="0.85" stroke="#727e72" stroke-width="0.5"/>
<circle cx="174.6" cy="44.2" r="1.75" fill="#4a58c0" fill-opacity="0.85" stroke="#374290" stroke-width="0.5"/>
<circle cx="156.4" cy="47.3" r="1.75" fill="#48a8a8" fill-opacity="0.85" stroke="#367e7e" stroke-width="0.5"/>
<circle cx="166.1" cy="39.5" r="1.75" fill="#58a058" fill-opacity="0.85" stroke="#427842" stroke-width="0.5"/>
<circle cx="179.2" cy="45.8" r="1.75" fill="#58a058" fill-opacity="0.85" stroke="#427842" stroke-width="0.5"/>
<circle cx="188.3" cy="44.3" r="1.75" fill="#48a8a8" fill-opacity="0.85" stroke="#367e7e" stroke-width="0.5"/>
<circle cx="197.7" cy="52.0" r="1.75" fill="#4a58c0" fill-opacity="0.85" stroke="#374290" stroke-width="0.5"/>
<circle cx="159.0" cy="46.2" r="1.75" fill="#98a898" fill-opacity="0.85" stroke="#727e72" stroke-width="0.5"/>
<circle cx="214.5" cy="49.0" r="1.75" fill="#58c0d0" fill-opacity="0.85" stroke="#42909c" stroke-width="0.5"/>
<circle cx="209.5" cy="42.7" r="1.75" fill="#98a898" fill-opacity="0.85" stroke="#727e72" stroke-width="0.5"/>
<circle cx="219.8" cy="47.4" r="1.75" fill="#883838" fill-opacity="0.85" stroke="#662a2a" stroke-width="0.5"/>
<circle cx="188.2" cy="45.8" r="1.75" fill="#58c0d0" fill-opacity="0.85" stroke="#42909c" stroke-width="0.5"/>
<circle cx="141.3" cy="48.7" r="1.75" fill="#4a58c0" fill-opacity="0.85" stroke="#374290" stroke-width="0.5"/>
<circle cx="137.0" cy="47.5" r="1.75" fill="#58a058" fill-opacity="0.85" stroke="#427842" stroke-width="0.5"/>
<circle cx="191.2" cy="46.6" r="1.75" fill="#4a58c0" fill-opacity="0.85" stroke="#374290" stroke-width="0.5"/>
<circle cx="197.9" cy="50.9" r="1.75" fill="#98c8e0" fill-opacity="0.85" stroke="#7296a8" stroke-width="0.5"/>
<circle cx="156.6" cy="46.2" r="1.75" fill="#c060b0" fill-opacity="0.85" stroke="#904884" stroke-width="0.5"/>
<circle cx="168.5" cy="46.2" r="1.75" fill="#3a3a90" fill-opacity="0.85" stroke="#2b2b6c" stroke-width="0.5"/>
<circle cx="209.4" cy="47.5" r="1.75" fill="#98a898" fill-opacity="0.85" stroke="#727e72" stroke-width="0.5"/>
<circle cx="135.1" cy="43.0" r="1.75" fill="#98d068" fill-opacity="0.85" stroke="#729c4e" stroke-width="0.5"/>
<circle cx="185.0" cy="42.1" r="1.75" fill="#a8a060" fill-opacity="0.85" stroke="#7e7848" stroke-width="0.5"/>
<circle cx="221.9" cy="48.8" r="1.75" fill="#4a58c0" fill-opacity="0.85" stroke="#374290" stroke-width="0.5"/>
<circle cx="150.5" cy="44.4" r="1.75" fill="#58a058" fill-opacity="0.85" stroke="#427842" stroke-width="0.5"/>
<circle cx="179.3" cy="41.0" r="1.75" fill="#8a5aa8" fill-opacity="0.85" stroke="#67437e" stroke-width="0.5"/>
<circle cx="182.5" cy="51.1" r="1.75" fill="#48a8a8" fill-opacity="0.85" stroke="#367e7e" stroke-width="0.5"/>
<circle cx="158.2" cy="48.6" r="1.75" fill="#a8a060" fill-opacity="0.85" stroke="#7e7848" stroke-width="0.5"/>
<circle cx="200.3" cy="46.5" r="1.75" fill="#3a3a90" fill-opacity="0.85" stroke="#2b2b6c" stroke-width="0.5"/>
<circle cx="159.6" cy="43.2" r="1.75" fill="#58a058" fill-opacity="0.85" stroke="#427842" stroke-width="0.5"/>
<circle cx="190.6" cy="45.2" r="1.75" fill="#e0b0c0" fill-opacity="0.85" stroke="#a88490" stroke-width="0.5"/>
<circle cx="167.9" cy="51.6" r="1.75" fill="#58c0d0" fill-opacity="0.85" stroke="#42909c" stroke-width="0.5"/>
<circle cx="233.4" cy="48.5" r="1.75" fill="#3a3a90" fill-opacity="0.85" stroke="#2b2b6c" stroke-width="0.5"/>
<circle cx="174.8" cy="41.1" r="1.75" fill="#e0a090" fill-opacity="0.85" stroke="#a8786c" stroke-width="0.5"/>
<circle cx="188.3" cy="43.5" r="1.75" fill="#48a8a8" fill-opacity="0.85" stroke="#367e7e" stroke-width="0.5"/>
<circle cx="166.9" cy="51.3" r="1.75" fill="#3a3a90" fill-opacity="0.85" stroke="#2b2b6c" stroke-width="0.5"/>
<circle cx="187.2" cy="53.4" r="1.75" fill="#48a8a8" fill-opacity="0.85" stroke="#367e7e" stroke-width="0.5"/>
<circle cx="190.5" cy="40.2" r="1.75" fill="#98c8e0" fill-opacity="0.85" stroke="#7296a8" stroke-width="0.5"/>
<circle cx="168.2" cy="47.0" r="1.75" fill="#48a8a8" fill-opacity="0.85" stroke="#367e7e" stroke-width="0.5"/>
<circle cx="161.7" cy="41.8" r="1.75" fill="#98c8e0" fill-opacity="0.85" stroke="#7296a8" stroke-width="0.5"/>
<circle cx="198.8" cy="49.1" r="1.75" fill="#3a3a90" fill-opacity="0.85" stroke="#2b2b6c" stroke-width="0.5"/>
<circle cx="219.8" cy="48.0" r="1.75" fill="#4a58c0" fill-opacity="0.85" stroke="#374290" stroke-width="0.5"/>
<circle cx="200.2" cy="45.1" r="1.75" fill="#3a3a90" fill-opacity="0.85" stroke="#2b2b6c" stroke-width="0.5"/>
<circle cx="185.5" cy="50.5" r="1.75" fill="#e0a090" fill-opacity="0.85" stroke="#a8786c" stroke-width="0.5"/>
<circle cx="185.1" cy="38.6" r="1.75" fill="#58a058" fill-opacity="0.85" stroke="#427842" stroke-width="0.5"/>
<circle cx="177.7" cy="48.6" r="1.75" fill="#4a58c0" fill-opacity="0.85" stroke="#374290" stroke-width="0.5"/>
<circle cx="179.9" cy="49.8" r="1.75" fill="#4a58c0" fill-opacity="0.85" stroke="#374290" stroke-width="0.5"/>
<circle cx="184.2" cy="48.7" r="1.75" fill="#98a898" fill-opacity="0.85" stroke="#727e72" stroke-width="0.5"/>
<circle cx="186.2" cy="46.9" r="1.75" fill="#4a58c0" fill-opacity="0.85" stroke="#374290" stroke-width="0.5"/>
<circle cx="182.9" cy="50.4" r="1.75" fill="#8a5aa8" fill-opacity="0.85" stroke="#67437e" stroke-width="0.5"/>
<circle cx="209.0" cy="48.1" r="1.75" fill="#a85a58" fill-opacity="0.85" stroke="#7e4342" stroke-width="0.5"/>
<circle cx="185.9" cy="49.8" r="1.75" fill="#98d068" fill-opacity="0.85" stroke="#729c4e" stroke-width="0.5"/>
<circle cx="197.6" cy="43.5" r="1.75" fill="#a85a58" fill-opacity="0.85" stroke="#7e4342" stroke-width="0.5"/>
<circle cx="136.6" cy="41.1" r="1.75" fill="#4a58c0" fill-opacity="0.85" stroke="#374290" stroke-width="0.5"/>
<circle cx="214.0" cy="47.7" r="1.75" fill="#4a58c0" fill-opacity="0.85" stroke="#374290" stroke-width="0.5"/>
<circle cx="140.7" cy="41.3" r="1.75" fill="#8a5aa8" fill-opacity="0.85" stroke="#67437e" stroke-width="0.5"/>
<circle cx="224.7" cy="45.7" r="1.75" fill="#c060b0" fill-opacity="0.85" stroke="#904884" stroke-width="0.5"/>
<circle cx="177.1" cy="46.4" r="1.75" fill="#58a058" fill-opacity="0.85" stroke="#427842" stroke-width="0.5"/>
<circle cx="229.3" cy="47.0" r="1.75" fill="#98a898" fill-opacity="0.85" stroke="#727e72" stroke-width="0.5"/>
<circle cx="203.9" cy="38.7" r="1.75" fill="#48a8a8" fill-opacity="0.85" stroke="#367e7e" stroke-width="0.5"/>
<circle cx="153.0" cy="49.5" r="1.75" fill="#3a3a90" fill-opacity="0.85" stroke="#2b2b6c" stroke-width="0.5"/>
<circle cx="142.8" cy="45.4" r="1.75" fill="#48a8a8" fill-opacity="0.85" stroke="#367e7e" stroke-width="0.5"/>
<circle cx="176.7" cy="49.9" r="1.75" fill="#8a5aa8" fill-opacity="0.85" stroke="#67437e" stroke-width="0.5"/>
<circle cx="153.9" cy="46.0" r="1.75" fill="#8a5aa8" fill-opacity="0.85" stroke="#67437e" stroke-width="0.5"/>
<circle cx="175.8" cy="42.1" r="1.75" fill="#7a7ab0" fill-opacity="0.85" stroke="#5b5b84" stroke-width="0.5"/>
<circle cx="200.1" cy="44.3" r="1.75" fill="#a85a58" fill-opacity="0.85" stroke="#7e4342" stroke-width="0.5"/>
<circle cx="207.1" cy="51.3" r="1.75" fill="#48a8a8" fill-opacity="0.85" stroke="#367e7e" stroke-width="0.5"/>
<circle cx="141.6" cy="49.5" r="1.75" fill="#a8a060" fill-opacity="0.85" stroke="#7e7848" stroke-width="0.5"/>
<circle cx="198.0" cy="43.9" r="1.75" fill="#48a8a8" fill-opacity="0.85" stroke="#367e7e" stroke-width="0.5"/>
<circle cx="224.8" cy="44.5" r="1.75" fill="#3a3a90" fill-opacity="0.85" stroke="#2b2b6c" stroke-width="0.5"/>
<circle cx="150.2" cy="39.4" r="1.75" fill="#58c0d0" fill-opacity="0.85" stroke="#42909c" stroke-width="0.5"/>
<circle cx="172.8" cy="49.6" r="1.75" fill="#3a3a90" fill-opacity="0.85" stroke="#2b2b6c" stroke-width="0.5"/>
<circle cx="144.7" cy="40.1" r="1.75" fill="#a8a060" fill-opacity="0.85" stroke="#7e7848" stroke-width="0.5"/>
<circle cx="175.7" cy="46.6" r="1.75" fill="#883838" fill-opacity="0.85" stroke="#662a2a" stroke-width="0.5"/>
<circle cx="206.4" cy="40.6" r="1.75" fill="#58a058" fill-opacity="0.85" stroke="#427842" stroke-width="0.5"/>
<circle cx="154.6" cy="40.6" r="1.75" fill="#3a3a90" fill-opacity="0.85" stroke="#2b2b6c" stroke-width="0.5"/>
<circle cx="174.5" cy="49.3" r="1.75" fill="#a8a060" fill-opacity="0.85" stroke="#7e7848" stroke-width="0.5"/>
<circle cx="212.4" cy="42.5" r="1.75" fill="#a8a060" fill-opacity="0.85" stroke="#7e7848" stroke-width="0.5"/>
<circle cx="143.9" cy="51.7" r="1.75" fill="#58a058" fill-opacity="0.85" stroke="#427842" stroke-width="0.5"/>
<circle cx="194.7" cy="47.5" r="1.75" fill="#3a3a90" fill-opacity="0.85" stroke="#2b2b6c" stroke-width="0.5"/>
<circle cx="204.1" cy="48.3" r="1.75" fill="#98a898" fill-opacity="0.85" stroke="#727e72" stroke-width="0.5"/>
<circle cx="117.4" cy="50.1" r="1.75" fill="#58c0d0" fill-opacity="0.85" stroke="#42909c" stroke-width="0.5"/>
<circle cx="116.5" cy="41.5" r="1.75" fill="#48a8a8" fill-opacity="0.85" stroke="#367e7e" stroke-width="0.5"/>
<circle cx="114.8" cy="39.5" r="1.75" fill="#883838" fill-opacity="0.85" stroke="#662a2a" stroke-width="0.5"/>
<circle cx="100.5" cy="43.7" r="1.75" fill="#3a3a90" fill-opacity="0.85" stroke="#2b2b6c" stroke-width="0.5"/>
<circle cx="129.0" cy="49.6" r="1.75" fill="#4a58c0" fill-opacity="0.85" stroke="#374290" stroke-width="0.5"/>
<circle cx="125.9" cy="50.0" r="1.75" fill="#8a5aa8" fill-opacity="0.85" stroke="#67437e" stroke-width="0.5"/>
<circle cx="118.4" cy="43.2" r="1.75" fill="#98d068" fill-opacity="0.85" stroke="#729c4e" stroke-width="0.5"/>
<circle cx="111.0" cy="50.0" r="1.75" fill="#e0a090" fill-opacity="0.85" stroke="#a8786c" stroke-width="0.5"/>
<circle cx="117.7" cy="43.0" r="1.75" fill="#4a58c0" fill-opacity="0.85" stroke="#374290" stroke-width="0.5"/>
<circle cx="108.6" cy="43.8" r="1.75" fill="#98c8e0" fill-opacity="0.85" stroke="#7296a8" stroke-width="0.5"/>
<circle cx="101.3" cy="39.0" r="1.75" fill="#7a7ab0" fill-opacity="0.85" stroke="#5b5b84" stroke-width="0.5"/>
<circle cx="111.3" cy="44.8" r="1.75" fill="#58c0d0" fill-opacity="0.85" stroke="#42909c" stroke-width="0.5"/>
<circle cx="123.7" cy="49.9" r="1.75" fill="#a8a060" fill-opacity="0.85" stroke="#7e7848" stroke-width="0.5"/>
<circle cx="109.0" cy="39.9" r="1.75" fill="#58a058" fill-opacity="0.85" stroke="#427842" stroke-width="0.5"/>
<circle cx="107.8" cy="49.4" r="1.75" fill="#98c8e0" fill-opacity="0.85" stroke="#7296a8" stroke-width="0.5"/>
<circle cx="118.0" cy="39.5" r="1.75" fill="#3a3a90" fill-opacity="0.85" stroke="#2b2b6c" stroke-width="0.5"/>
<circle cx="259.5" cy="43.1" r="1.75" fill="#c060b0" fill-opacity="0.85" stroke="#904884" stroke-width="0.5"/>
<circle cx="232.6" cy="48.8" r="1.75" fill="#98a898" fill-opacity="0.85" stroke="#727e72" stroke-width="0.5"/>
<circle cx="250.9" cy="49.2" r="1.75" fill="#a85a58" fill-opacity="0.85" stroke="#7e4342" stroke-width="0.5"/>
<circle cx="232.1" cy="47.0" r="1.75" fill="#c060b0" fill-opacity="0.85" stroke="#904884" stroke-width="0.5"/>
<circle cx="233.5" cy="40.7" r="1.75" fill="#98a898" fill-opacity="0.85" stroke="#727e72" stroke-width="0.5"/>
<circle cx="239.2" cy="49.5" r="1.75" fill="#a8a060" fill-opacity="0.85" stroke="#7e7848" stroke-width="0.5"/>
<circle cx="252.0" cy="48.4" r="1.75" fill="#4a58c0" fill-opacity="0.85" stroke="#374290" stroke-width="0.5"/>
<circle cx="256.7" cy="46.9" r="1.75" fill="#4a58c0" fill-opacity="0.85" stroke="#374290" stroke-width="0.5"/>
<path d="M173.2,35.6h4.3l-2.1,3.4z" fill="#d0b0c0" fill-opacity="0.75" stroke="#a68c99" stroke-width="0.6"/>
<path d="M189.3,37.9h4.3l-2.1,3.4z" fill="#e0a0b0" fill-opacity="0.75" stroke="#b3808c" stroke-width="0.6"/>
<path d="M210.8,37.9h4.3l-2.1,3.4z" fill="#d0a0b0" fill-opacity="0.75" stroke="#a6808c" stroke-width="0.6"/>
<path d="M238.7,42.6h4.3l-2.1,3.4z" fill="#8a62a2" fill-opacity="0.75" stroke="#6e4e81" stroke-width="0.6"/>
<path d="M243.8,41.0h4.3l-2.1,3.4z" fill="#e0c0d0" fill-opacity="0.75" stroke="#b399a6" stroke-width="0.6"/>
<path d="M250.8,45.6h4.3l-2.1,3.4z" fill="#a0a060" fill-opacity="0.75" stroke="#80804c" stroke-width="0.6"/>
<path d="M257.1,47.9h4.3l-2.1,3.4z" fill="#c8d8e0" fill-opacity="0.75" stroke="#a0acb3" stroke-width="0.6"/>
<path d="M265.6,42.6h4.3l-2.1,3.4z" fill="#b080a8" fill-opacity="0.75" stroke="#8c6686" stroke-width="0.6"/>
<path d="M271.7,43.4h4.3l-2.1,3.4z" fill="#40a890" fill-opacity="0.75" stroke="#338673" stroke-width="0.6"/>
<path d="M282.5,38.7h4.3l-2.1,3.4z" fill="#a0a080" fill-opacity="0.75" stroke="#808066" stroke-width="0.6"/>
<path d="M286.1,46.4h4.3l-2.1,3.4z" fill="#8a62a2" fill-opacity="0.75" stroke="#6e4e81" stroke-width="0.6"/>
<path d="M294.1,41.4h4.3l-2.1,3.4z" fill="#c0a870" fill-opacity="0.75" stroke="#998659" stroke-width="0.6"/>
<path d="M292.5,50.2h4.3l-2.1,3.4z" fill="#b8d0a8" fill-opacity="0.75" stroke="#93a686" stroke-width="0.6"/>
<path d="M301.7,49.4h4.3l-2.1,3.4z" fill="#8a62a2" fill-opacity="0.75" stroke="#6e4e81" stroke-width="0.6"/>
<path d="M309.1,51.0h4.3l-2.1,3.4z" fill="#a8c0d8" fill-opacity="0.75" stroke="#8699ac" stroke-width="0.6"/>
<path d="M322.5,50.2h4.3l-2.1,3.4z" fill="#a8c8d8" fill-opacity="0.75" stroke="#86a0ac" stroke-width="0.6"/>
<path d="M329.1,42.6h4.3l-2.1,3.4z" fill="#a8b8d0" fill-opacity="0.75" stroke="#8693a6" stroke-width="0.6"/>
<path d="M343.2,44.9h4.3l-2.1,3.4z" fill="#9a80a8" fill-opacity="0.75" stroke="#7b6686" stroke-width="0.6"/>
<path d="M346.4,53.4h4.3l-2.1,3.4z" fill="#8a62a2" fill-opacity="0.75" stroke="#6e4e81" stroke-width="0.6"/>
<path d="M328.5,42.6h4.3l-2.1,3.4z" fill="#a8b8d0" fill-opacity="0.75" stroke="#8693a6" stroke-width="0.6"/>
<path d="M343.9,45.5h4.3l-2.1,3.4z" fill="#8a62a2" fill-opacity="0.75" stroke="#6e4e81" stroke-width="0.6"/>
<path d="M342.9,47.4h4.3l-2.1,3.4z" fill="#c0d0e0" fill-opacity="0.75" stroke="#99a6b3" stroke-width="0.6"/>
<path d="M354.9,47.4h4.3l-2.1,3.4z" fill="#8a62a2" fill-opacity="0.75" stroke="#6e4e81" stroke-width="0.6"/>
<path d="M365.6,51.3h4.3l-2.1,3.4z" fill="#8a62a2" fill-opacity="0.75" stroke="#6e4e81" stroke-width="0.6"/>
<path d="M372.1,42.6h4.3l-2.1,3.4z" fill="#d090a0" fill-opacity="0.75" stroke="#a67380" stroke-width="0.6"/>
<path d="M372.7,49.9h4.3l-2.1,3.4z" fill="#8a62a2" fill-opacity="0.75" stroke="#6e4e81" stroke-width="0.6"/>
<path d="M371.7,55.1h4.3l-2.1,3.4z" fill="#d09070" fill-opacity="0.75" stroke="#a67359" stroke-width="0.6"/>
<path d="M346.4,53.2h4.3l-2.1,3.4z" fill="#8a62a2" fill-opacity="0.75" stroke="#6e4e81" stroke-width="0.6"/>
<path d="M342.9,55.1h4.3l-2.1,3.4z" fill="#e0a0a0" fill-opacity="0.75" stroke="#b38080" stroke-width="0.6"/>
<path d="M322.7,51.3h4.3l-2.1,3.4z" fill="#a8c8e0" fill-opacity="0.75" stroke="#86a0b3" stroke-width="0.6"/>
<path d="M394.4,54.6h4.3l-2.1,3.4z" fill="#d06070" fill-opacity="0.75" stroke="#a64c59" stroke-width="0.6"/>
<path d="M412.7,54.0h4.3l-2.1,3.4z" fill="#8a68a8" fill-opacity="0.75" stroke="#6e5386" stroke-width="0.6"/>
<path d="M422.9,47.6h4.3l-2.1,3.4z" fill="#8a68a8" fill-opacity="0.75" stroke="#6e5386" stroke-width="0.6"/>
<path d="M462.2,53.4h4.3l-2.1,3.4z" fill="#8a80c8" fill-opacity="0.75" stroke="#6e66a0" stroke-width="0.6"/>
<path d="M475.2,54.0h4.3l-2.1,3.4z" fill="#8a68a8" fill-opacity="0.75" stroke="#6e5386" stroke-width="0.6"/>
<path d="M474.4,56.3h4.3l-2.1,3.4z" fill="#d04070" fill-opacity="0.75" stroke="#a63359" stroke-width="0.6"/>
<path d="M481.6,59.6h4.3l-2.1,3.4z" fill="#70c8a0" fill-opacity="0.75" stroke="#59a080" stroke-width="0.6"/>
<path d="M485.4,45.1h4.3l-2.1,3.4z" fill="#9a80a8" fill-opacity="0.75" stroke="#7b6686" stroke-width="0.6"/>
<path d="M210.8,45.7h4.3l-2.1,3.4z" fill="#60b0a0" fill-opacity="0.75" stroke="#4c8c80" stroke-width="0.6"/>
<path d="M216.1,41.4h4.3l-2.1,3.4z" fill="#e0b0c8" fill-opacity="0.75" stroke="#b38ca0" stroke-width="0.6"/>
<path d="M217.1,45.5h4.3l-2.1,3.4z" fill="#c0a070" fill-opacity="0.75" stroke="#998059" stroke-width="0.6"/>
<path d="M207.3,42.9h4.3l-2.1,3.4z" fill="#8a62a2" fill-opacity="0.75" stroke="#6e4e81" stroke-width="0.6"/>
<path d="M214.0,46.0h4.3l-2.1,3.4z" fill="#8a62a2" fill-opacity="0.75" stroke="#6e4e81" stroke-width="0.6"/>
<path d="M211.0,42.9h4.3l-2.1,3.4z" fill="#a8bcd4" fill-opacity="0.75" stroke="#8696a9" stroke-width="0.6"/>
<path d="M208.4,47.6h4.3l-2.1,3.4z" fill="#8a62a2" fill-opacity="0.75" stroke="#6e4e81" stroke-width="0.6"/>
<path d="M232.2,50.0h4.3l-2.1,3.4z" fill="#b080b0" fill-opacity="0.75" stroke="#8c668c" stroke-width="0.6"/>
<circle cx="224.6" cy="94.0" r="1.75" fill="#38aac8" fill-opacity="0.85" stroke="#2a7f96" stroke-width="0.5"/>
<circle cx="238.5" cy="96.2" r="1.75" fill="#38aac8" fill-opacity="0.85" stroke="#2a7f96" stroke-width="0.5"/>
<circle cx="243.0" cy="96.2" r="1.75" fill="#38aac8" fill-opacity="0.85" stroke="#2a7f96" stroke-width="0.5"/>
<circle cx="245.5" cy="96.2" r="1.75" fill="#38aac8" fill-opacity="0.85" stroke="#2a7f96" stroke-width="0.5"/>
<circle cx="236.3" cy="102.0" r="1.75" fill="#38aac8" fill-opacity="0.85" stroke="#2a7f96" stroke-width="0.5"/>
<circle cx="205.2" cy="108.5" r="1.75" fill="#38aac8" fill-opacity="0.85" stroke="#2a7f96" stroke-width="0.5"/>
<circle cx="251.4" cy="88.5" r="1.75" fill="#38aac8" fill-opacity="0.85" stroke="#2a7f96" stroke-width="0.5"/>
<circle cx="253.2" cy="87.0" r="1.75" fill="#38aac8" fill-opacity="0.85" stroke="#2a7f96" stroke-width="0.5"/>
<circle cx="256.3" cy="87.8" r="1.75" fill="#38aac8" fill-opacity="0.85" stroke="#2a7f96" stroke-width="0.5"/>
<circle cx="259.0" cy="87.8" r="1.75" fill="#38aac8" fill-opacity="0.85" stroke="#2a7f96" stroke-width="0.5"/>
<circle cx="257.0" cy="93.0" r="1.75" fill="#38aac8" fill-opacity="0.85" stroke="#2a7f96" stroke-width="0.5"/>
<circle cx="261.5" cy="92.0" r="1.75" fill="#38aac8" fill-opacity="0.85" stroke="#2a7f96" stroke-width="0.5"/>
<circle cx="264.6" cy="95.2" r="1.75" fill="#38aac8" fill-opacity="0.85" stroke="#2a7f96" stroke-width="0.5"/>
<circle cx="269.2" cy="81.7" r="1.75" fill="#38aac8" fill-opacity="0.85" stroke="#2a7f96" stroke-width="0.5"/>
<circle cx="271.7" cy="93.0" r="1.75" fill="#38aac8" fill-opacity="0.85" stroke="#2a7f96" stroke-width="0.5"/>
<circle cx="276.0" cy="91.5" r="1.75" fill="#38aac8" fill-opacity="0.85" stroke="#2a7f96" stroke-width="0.5"/>
<circle cx="278.5" cy="93.0" r="1.75" fill="#38aac8" fill-opacity="0.85" stroke="#2a7f96" stroke-width="0.5"/>
<circle cx="281.0" cy="94.0" r="1.75" fill="#38aac8" fill-opacity="0.85" stroke="#2a7f96" stroke-width="0.5"/>
<circle cx="283.0" cy="91.0" r="1.75" fill="#38aac8" fill-opacity="0.85" stroke="#2a7f96" stroke-width="0.5"/>
<circle cx="284.6" cy="93.0" r="1.75" fill="#38aac8" fill-opacity="0.85" stroke="#2a7f96" stroke-width="0.5"/>
<circle cx="277.0" cy="97.0" r="1.75" fill="#38aac8" fill-opacity="0.85" stroke="#2a7f96" stroke-width="0.5"/>
<circle cx="287.7" cy="90.6" r="1.75" fill="#38aac8" fill-opacity="0.85" stroke="#2a7f96" stroke-width="0.5"/>
<circle cx="292.3" cy="92.2" r="1.75" fill="#38aac8" fill-opacity="0.85" stroke="#2a7f96" stroke-width="0.5"/>
<circle cx="282.5" cy="100.2" r="1.75" fill="#38aac8" fill-opacity="0.85" stroke="#2a7f96" stroke-width="0.5"/>
<circle cx="273.2" cy="104.5" r="1.75" fill="#38aac8" fill-opacity="0.85" stroke="#2a7f96" stroke-width="0.5"/>
<circle cx="300.6" cy="103.0" r="1.75" fill="#38aac8" fill-opacity="0.85" stroke="#2a7f96" stroke-width="0.5"/>
<circle cx="293.0" cy="107.0" r="1.75" fill="#38aac8" fill-opacity="0.85" stroke="#2a7f96" stroke-width="0.5"/>
<circle cx="280.3" cy="111.5" r="1.75" fill="#38aac8" fill-opacity="0.85" stroke="#2a7f96" stroke-width="0.5"/>
<circle cx="288.3" cy="117.7" r="1.75" fill="#38aac8" fill-opacity="0.85" stroke="#2a7f96" stroke-width="0.5"/>
<circle cx="239.4" cy="121.7" r="1.75" fill="#38aac8" fill-opacity="0.85" stroke="#2a7f96" stroke-width="0.5"/>
<circle cx="246.8" cy="123.2" r="1.75" fill="#38aac8" fill-opacity="0.85" stroke="#2a7f96" stroke-width="0.5"/>
<circle cx="301.5" cy="83.8" r="1.75" fill="#38aac8" fill-opacity="0.85" stroke="#2a7f96" stroke-width="0.5"/>
<circle cx="234.8" cy="75.5" r="1.75" fill="#38aac8" fill-opacity="0.85" stroke="#2a7f96" stroke-width="0.5"/>
<circle cx="235.4" cy="75.8" r="1.75" fill="#38aac8" fill-opacity="0.85" stroke="#2a7f96" stroke-width="0.5"/>
<circle cx="269.2" cy="81.0" r="1.75" fill="#38aac8" fill-opacity="0.85" stroke="#2a7f96" stroke-width="0.5"/>
<circle cx="99.1" cy="326.5" r="1.75" fill="#b04436" fill-opacity="0.85" stroke="#843328" stroke-width="0.5"/>
<circle cx="114.1" cy="321.5" r="1.75" fill="#b85042" fill-opacity="0.85" stroke="#8a3c31" stroke-width="0.5"/>
<circle cx="152.7" cy="311.1" r="1.75" fill="#a0382a" fill-opacity="0.85" stroke="#782a1f" stroke-width="0.5"/>
<circle cx="160.3" cy="310.9" r="1.75" fill="#b85042" fill-opacity="0.85" stroke="#8a3c31" stroke-width="0.5"/>
<circle cx="173.0" cy="313.3" r="1.75" fill="#b85042" fill-opacity="0.85" stroke="#8a3c31" stroke-width="0.5"/>
<circle cx="149.3" cy="333.0" r="1.75" fill="#a0382a" fill-opacity="0.85" stroke="#782a1f" stroke-width="0.5"/>
<circle cx="154.7" cy="339.6" r="1.75" fill="#b85042" fill-opacity="0.85" stroke="#8a3c31" stroke-width="0.5"/>
<circle cx="169.2" cy="327.5" r="1.75" fill="#a83e2e" fill-opacity="0.85" stroke="#7e2e22" stroke-width="0.5"/>
<circle cx="169.2" cy="330.6" r="1.75" fill="#b85042" fill-opacity="0.85" stroke="#8a3c31" stroke-width="0.5"/>
<circle cx="172.6" cy="337.8" r="1.75" fill="#b85042" fill-opacity="0.85" stroke="#8a3c31" stroke-width="0.5"/>
<circle cx="146.9" cy="349.2" r="1.75" fill="#b04436" fill-opacity="0.85" stroke="#843328" stroke-width="0.5"/>
<circle cx="155.9" cy="348.2" r="1.75" fill="#a0382a" fill-opacity="0.85" stroke="#782a1f" stroke-width="0.5"/>
<circle cx="159.3" cy="350.2" r="1.75" fill="#a83e2e" fill-opacity="0.85" stroke="#7e2e22" stroke-width="0.5"/>
<circle cx="172.0" cy="348.2" r="1.75" fill="#a83e2e" fill-opacity="0.85" stroke="#7e2e22" stroke-width="0.5"/>
<circle cx="281.5" cy="337.7" r="1.75" fill="#b04436" fill-opacity="0.85" stroke="#843328" stroke-width="0.5"/>
<circle cx="283.0" cy="342.5" r="1.75" fill="#b85042" fill-opacity="0.85" stroke="#8a3c31" stroke-width="0.5"/>
<circle cx="286.4" cy="352.0" r="1.75" fill="#b85042" fill-opacity="0.85" stroke="#8a3c31" stroke-width="0.5"/>
<circle cx="291.2" cy="343.0" r="1.75" fill="#b85042" fill-opacity="0.85" stroke="#8a3c31" stroke-width="0.5"/>
<circle cx="292.8" cy="346.5" r="1.75" fill="#b85042" fill-opacity="0.85" stroke="#8a3c31" stroke-width="0.5"/>
<circle cx="298.9" cy="334.0" r="1.75" fill="#b04436" fill-opacity="0.85" stroke="#843328" stroke-width="0.5"/>
<circle cx="300.0" cy="345.7" r="1.75" fill="#b04436" fill-opacity="0.85" stroke="#843328" stroke-width="0.5"/>
<circle cx="274.3" cy="355.4" r="1.75" fill="#a83e2e" fill-opacity="0.85" stroke="#7e2e22" stroke-width="0.5"/>
<circle cx="262.3" cy="366.6" r="1.75" fill="#a83e2e" fill-opacity="0.85" stroke="#7e2e22" stroke-width="0.5"/>
<circle cx="255.9" cy="363.4" r="1.75" fill="#b85042" fill-opacity="0.85" stroke="#8a3c31" stroke-width="0.5"/>
<circle cx="250.2" cy="363.9" r="1.75" fill="#a0382a" fill-opacity="0.85" stroke="#782a1f" stroke-width="0.5"/>
<circle cx="237.4" cy="369.0" r="1.75" fill="#a0382a" fill-opacity="0.85" stroke="#782a1f" stroke-width="0.5"/>
<circle cx="307.7" cy="337.7" r="1.75" fill="#b85042" fill-opacity="0.85" stroke="#8a3c31" stroke-width="0.5"/>
<circle cx="314.4" cy="338.8" r="1.75" fill="#b04436" fill-opacity="0.85" stroke="#843328" stroke-width="0.5"/>
<circle cx="330.8" cy="340.2" r="1.75" fill="#a83e2e" fill-opacity="0.85" stroke="#7e2e22" stroke-width="0.5"/>
<circle cx="325.4" cy="342.7" r="1.75" fill="#a0382a" fill-opacity="0.85" stroke="#782a1f" stroke-width="0.5"/>
<circle cx="310.6" cy="345.0" r="1.75" fill="#a83e2e" fill-opacity="0.85" stroke="#7e2e22" stroke-width="0.5"/>
<circle cx="315.0" cy="347.9" r="1.75" fill="#b04436" fill-opacity="0.85" stroke="#843328" stroke-width="0.5"/>
<circle cx="324.0" cy="347.5" r="1.75" fill="#b04436" fill-opacity="0.85" stroke="#843328" stroke-width="0.5"/>
<circle cx="331.2" cy="349.8" r="1.75" fill="#b04436" fill-opacity="0.85" stroke="#843328" stroke-width="0.5"/>
<circle cx="301.0" cy="345.0" r="1.75" fill="#b04436" fill-opacity="0.85" stroke="#843328" stroke-width="0.5"/>
<circle cx="309.6" cy="355.6" r="1.75" fill="#b85042" fill-opacity="0.85" stroke="#8a3c31" stroke-width="0.5"/>
<circle cx="308.7" cy="356.5" r="1.75" fill="#b85042" fill-opacity="0.85" stroke="#8a3c31" stroke-width="0.5"/>
<circle cx="311.5" cy="355.6" r="1.75" fill="#b04436" fill-opacity="0.85" stroke="#843328" stroke-width="0.5"/>
<circle cx="307.7" cy="361.3" r="1.75" fill="#b85042" fill-opacity="0.85" stroke="#8a3c31" stroke-width="0.5"/>
<circle cx="324.6" cy="362.7" r="1.75" fill="#a83e2e" fill-opacity="0.85" stroke="#7e2e22" stroke-width="0.5"/>
<circle cx="334.6" cy="360.8" r="1.75" fill="#a0382a" fill-opacity="0.85" stroke="#782a1f" stroke-width="0.5"/>
<circle cx="318.8" cy="371.0" r="1.75" fill="#b85042" fill-opacity="0.85" stroke="#8a3c31" stroke-width="0.5"/>
<circle cx="379.2" cy="335.4" r="1.75" fill="#a83e2e" fill-opacity="0.85" stroke="#7e2e22" stroke-width="0.5"/>
<circle cx="376.5" cy="339.6" r="1.75" fill="#a83e2e" fill-opacity="0.85" stroke="#7e2e22" stroke-width="0.5"/>
<circle cx="366.3" cy="346.5" r="1.75" fill="#b85042" fill-opacity="0.85" stroke="#8a3c31" stroke-width="0.5"/>
<circle cx="366.3" cy="349.8" r="1.75" fill="#a0382a" fill-opacity="0.85" stroke="#782a1f" stroke-width="0.5"/>
<circle cx="389.2" cy="318.6" r="1.75" fill="#a83e2e" fill-opacity="0.85" stroke="#7e2e22" stroke-width="0.5"/>
<circle cx="485.0" cy="323.9" r="1.75" fill="#a83e2e" fill-opacity="0.85" stroke="#7e2e22" stroke-width="0.5"/>
<circle cx="159.9" cy="305.0" r="1.75" fill="#90a060" fill-opacity="0.85" stroke="#6c7848" stroke-width="0.5"/>
<circle cx="324.6" cy="337.7" r="1.75" fill="#283028" fill-opacity="0.85" stroke="#1e241e" stroke-width="0.5"/>
<circle cx="371.2" cy="331.5" r="1.75" fill="#d8b8a0" fill-opacity="0.85" stroke="#a28a78" stroke-width="0.5"/>
<circle cx="379.8" cy="326.7" r="1.75" fill="#d8b8a0" fill-opacity="0.85" stroke="#a28a78" stroke-width="0.5"/>
<circle cx="372.7" cy="341.2" r="1.75" fill="#d8b8a0" fill-opacity="0.85" stroke="#a28a78" stroke-width="0.5"/>
<circle cx="372.7" cy="344.6" r="1.75" fill="#d8b8a0" fill-opacity="0.85" stroke="#a28a78" stroke-width="0.5"/>
<circle cx="334.6" cy="363.3" r="1.75" fill="#d8b8a0" fill-opacity="0.85" stroke="#a28a78" stroke-width="0.5"/>
<circle cx="278.5" cy="344.3" r="1.75" fill="#a83e2e" fill-opacity="0.85" stroke="#7e2e22" stroke-width="0.5"/>
<circle cx="252.9" cy="343.9" r="1.75" fill="#a83e2e" fill-opacity="0.85" stroke="#7e2e22" stroke-width="0.5"/>
<circle cx="271.5" cy="332.9" r="1.75" fill="#a0382a" fill-opacity="0.85" stroke="#782a1f" stroke-width="0.5"/>
<circle cx="268.8" cy="323.6" r="1.75" fill="#b04436" fill-opacity="0.85" stroke="#843328" stroke-width="0.5"/>
<circle cx="247.5" cy="334.9" r="1.75" fill="#b85042" fill-opacity="0.85" stroke="#8a3c31" stroke-width="0.5"/>
<circle cx="243.9" cy="337.1" r="1.75" fill="#a0382a" fill-opacity="0.85" stroke="#782a1f" stroke-width="0.5"/>
<circle cx="257.2" cy="360.3" r="1.75" fill="#b04436" fill-opacity="0.85" stroke="#843328" stroke-width="0.5"/>
<circle cx="259.5" cy="343.7" r="1.75" fill="#a83e2e" fill-opacity="0.85" stroke="#7e2e22" stroke-width="0.5"/>
<circle cx="257.3" cy="345.8" r="1.75" fill="#b04436" fill-opacity="0.85" stroke="#843328" stroke-width="0.5"/>
<circle cx="272.1" cy="343.8" r="1.75" fill="#a83e2e" fill-opacity="0.85" stroke="#7e2e22" stroke-width="0.5"/>
<circle cx="262.0" cy="347.2" r="1.75" fill="#a0382a" fill-opacity="0.85" stroke="#782a1f" stroke-width="0.5"/>
<circle cx="259.9" cy="338.4" r="1.75" fill="#b85042" fill-opacity="0.85" stroke="#8a3c31" stroke-width="0.5"/>
<circle cx="272.5" cy="347.4" r="1.75" fill="#a0382a" fill-opacity="0.85" stroke="#782a1f" stroke-width="0.5"/>
<circle cx="256.7" cy="342.1" r="1.75" fill="#a0382a" fill-opacity="0.85" stroke="#782a1f" stroke-width="0.5"/>
<circle cx="256.6" cy="334.1" r="1.75" fill="#a0382a" fill-opacity="0.85" stroke="#782a1f" stroke-width="0.5"/>
<circle cx="275.3" cy="367.1" r="1.75" fill="#b85042" fill-opacity="0.85" stroke="#8a3c31" stroke-width="0.5"/>
<circle cx="257.4" cy="345.2" r="1.75" fill="#b85042" fill-opacity="0.85" stroke="#8a3c31" stroke-width="0.5"/>
<circle cx="278.2" cy="331.5" r="1.75" fill="#b85042" fill-opacity="0.85" stroke="#8a3c31" stroke-width="0.5"/>
<circle cx="254.7" cy="336.9" r="1.75" fill="#a0382a" fill-opacity="0.85" stroke="#782a1f" stroke-width="0.5"/>
<circle cx="246.5" cy="326.6" r="1.75" fill="#b85042" fill-opacity="0.85" stroke="#8a3c31" stroke-width="0.5"/>
<circle cx="249.2" cy="360.6" r="1.75" fill="#a83e2e" fill-opacity="0.85" stroke="#7e2e22" stroke-width="0.5"/>
<circle cx="269.3" cy="347.9" r="1.75" fill="#a83e2e" fill-opacity="0.85" stroke="#7e2e22" stroke-width="0.5"/>
<circle cx="256.4" cy="348.9" r="1.75" fill="#a83e2e" fill-opacity="0.85" stroke="#7e2e22" stroke-width="0.5"/>
<circle cx="275.7" cy="338.5" r="1.75" fill="#b85042" fill-opacity="0.85" stroke="#8a3c31" stroke-width="0.5"/>
<circle cx="261.2" cy="350.4" r="1.75" fill="#a83e2e" fill-opacity="0.85" stroke="#7e2e22" stroke-width="0.5"/>
<circle cx="240.0" cy="353.7" r="1.75" fill="#a0382a" fill-opacity="0.85" stroke="#782a1f" stroke-width="0.5"/>
<circle cx="242.5" cy="344.7" r="1.75" fill="#b04436" fill-opacity="0.85" stroke="#843328" stroke-width="0.5"/>
<circle cx="265.0" cy="336.3" r="1.75" fill="#a83e2e" fill-opacity="0.85" stroke="#7e2e22" stroke-width="0.5"/>
<circle cx="247.7" cy="340.1" r="1.75" fill="#a83e2e" fill-opacity="0.85" stroke="#7e2e22" stroke-width="0.5"/>
<circle cx="244.6" cy="349.7" r="1.75" fill="#a83e2e" fill-opacity="0.85" stroke="#7e2e22" stroke-width="0.5"/>
<circle cx="258.7" cy="344.5" r="1.75" fill="#b04436" fill-opacity="0.85" stroke="#843328" stroke-width="0.5"/>
<circle cx="251.9" cy="339.7" r="1.75" fill="#a83e2e" fill-opacity="0.85" stroke="#7e2e22" stroke-width="0.5"/>
<circle cx="256.1" cy="341.1" r="1.75" fill="#a83e2e" fill-opacity="0.85" stroke="#7e2e22" stroke-width="0.5"/>
<circle cx="251.0" cy="332.4" r="1.75" fill="#b04436" fill-opacity="0.85" stroke="#843328" stroke-width="0.5"/>
<circle cx="256.6" cy="340.1" r="1.75" fill="#b85042" fill-opacity="0.85" stroke="#8a3c31" stroke-width="0.5"/>
<circle cx="266.3" cy="361.9" r="1.75" fill="#b04436" fill-opacity="0.85" stroke="#843328" stroke-width="0.5"/>
<circle cx="271.7" cy="333.8" r="1.75" fill="#a0382a" fill-opacity="0.85" stroke="#782a1f" stroke-width="0.5"/>
<circle cx="263.4" cy="346.4" r="1.75" fill="#b04436" fill-opacity="0.85" stroke="#843328" stroke-width="0.5"/>
<circle cx="285.6" cy="347.1" r="1.75" fill="#b04436" fill-opacity="0.85" stroke="#843328" stroke-width="0.5"/>
<circle cx="264.7" cy="332.9" r="1.75" fill="#b85042" fill-opacity="0.85" stroke="#8a3c31" stroke-width="0.5"/>
<circle cx="250.7" cy="343.6" r="1.75" fill="#a83e2e" fill-opacity="0.85" stroke="#7e2e22" stroke-width="0.5"/>
<circle cx="254.0" cy="350.0" r="1.75" fill="#b85042" fill-opacity="0.85" stroke="#8a3c31" stroke-width="0.5"/>
<circle cx="266.2" cy="343.8" r="1.75" fill="#b85042" fill-opacity="0.85" stroke="#8a3c31" stroke-width="0.5"/>
<circle cx="276.3" cy="347.0" r="1.75" fill="#b85042" fill-opacity="0.85" stroke="#8a3c31" stroke-width="0.5"/>
<circle cx="259.0" cy="332.2" r="1.75" fill="#a0382a" fill-opacity="0.85" stroke="#782a1f" stroke-width="0.5"/>
<circle cx="266.9" cy="334.1" r="1.75" fill="#b04436" fill-opacity="0.85" stroke="#843328" stroke-width="0.5"/>
<circle cx="257.7" cy="341.0" r="1.75" fill="#b04436" fill-opacity="0.85" stroke="#843328" stroke-width="0.5"/>
<circle cx="246.3" cy="353.3" r="1.75" fill="#a83e2e" fill-opacity="0.85" stroke="#7e2e22" stroke-width="0.5"/>
<circle cx="252.0" cy="328.4" r="1.75" fill="#b85042" fill-opacity="0.85" stroke="#8a3c31" stroke-width="0.5"/>
<circle cx="257.3" cy="343.4" r="1.75" fill="#a83e2e" fill-opacity="0.85" stroke="#7e2e22" stroke-width="0.5"/>
<circle cx="252.2" cy="355.9" r="1.75" fill="#b04436" fill-opacity="0.85" stroke="#843328" stroke-width="0.5"/>
<circle cx="270.9" cy="343.3" r="1.75" fill="#a0382a" fill-opacity="0.85" stroke="#782a1f" stroke-width="0.5"/>
<circle cx="249.4" cy="328.9" r="1.75" fill="#a0382a" fill-opacity="0.85" stroke="#782a1f" stroke-width="0.5"/>
<circle cx="231.8" cy="332.0" r="1.75" fill="#b85042" fill-opacity="0.85" stroke="#8a3c31" stroke-width="0.5"/>
<circle cx="250.8" cy="340.8" r="1.75" fill="#a83e2e" fill-opacity="0.85" stroke="#7e2e22" stroke-width="0.5"/>
<circle cx="265.1" cy="340.8" r="1.75" fill="#a83e2e" fill-opacity="0.85" stroke="#7e2e22" stroke-width="0.5"/>
<circle cx="270.2" cy="350.3" r="1.75" fill="#b04436" fill-opacity="0.85" stroke="#843328" stroke-width="0.5"/>
<circle cx="220.2" cy="344.5" r="1.75" fill="#b04436" fill-opacity="0.85" stroke="#843328" stroke-width="0.5"/>
<circle cx="249.2" cy="337.6" r="1.75" fill="#a0382a" fill-opacity="0.85" stroke="#782a1f" stroke-width="0.5"/>
<circle cx="279.8" cy="335.7" r="1.75" fill="#b04436" fill-opacity="0.85" stroke="#843328" stroke-width="0.5"/>
<circle cx="241.7" cy="348.4" r="1.75" fill="#b85042" fill-opacity="0.85" stroke="#8a3c31" stroke-width="0.5"/>
<circle cx="259.6" cy="349.0" r="1.75" fill="#a83e2e" fill-opacity="0.85" stroke="#7e2e22" stroke-width="0.5"/>
<circle cx="238.9" cy="354.4" r="1.75" fill="#a83e2e" fill-opacity="0.85" stroke="#7e2e22" stroke-width="0.5"/>
<circle cx="262.9" cy="341.6" r="1.75" fill="#b04436" fill-opacity="0.85" stroke="#843328" stroke-width="0.5"/>
<circle cx="250.8" cy="348.8" r="1.75" fill="#a83e2e" fill-opacity="0.85" stroke="#7e2e22" stroke-width="0.5"/>
<circle cx="265.9" cy="336.5" r="1.75" fill="#b85042" fill-opacity="0.85" stroke="#8a3c31" stroke-width="0.5"/>
<circle cx="263.2" cy="350.5" r="1.75" fill="#b85042" fill-opacity="0.85" stroke="#8a3c31" stroke-width="0.5"/>
<circle cx="251.5" cy="341.0" r="1.75" fill="#a0382a" fill-opacity="0.85" stroke="#782a1f" stroke-width="0.5"/>
<circle cx="245.4" cy="333.3" r="1.75" fill="#a83e2e" fill-opacity="0.85" stroke="#7e2e22" stroke-width="0.5"/>
<circle cx="254.8" cy="356.3" r="1.75" fill="#a83e2e" fill-opacity="0.85" stroke="#7e2e22" stroke-width="0.5"/>
<circle cx="251.6" cy="321.6" r="1.75" fill="#b85042" fill-opacity="0.85" stroke="#8a3c31" stroke-width="0.5"/>
<circle cx="248.1" cy="338.5" r="1.75" fill="#a83e2e" fill-opacity="0.85" stroke="#7e2e22" stroke-width="0.5"/>
<circle cx="253.3" cy="347.6" r="1.75" fill="#b04436" fill-opacity="0.85" stroke="#843328" stroke-width="0.5"/>
<circle cx="266.0" cy="353.1" r="1.75" fill="#a83e2e" fill-opacity="0.85" stroke="#7e2e22" stroke-width="0.5"/>
<circle cx="231.3" cy="358.3" r="1.75" fill="#b85042" fill-opacity="0.85" stroke="#8a3c31" stroke-width="0.5"/>
<circle cx="224.6" cy="322.0" r="1.75" fill="#a83e2e" fill-opacity="0.85" stroke="#7e2e22" stroke-width="0.5"/>
<circle cx="279.1" cy="361.3" r="1.75" fill="#b85042" fill-opacity="0.85" stroke="#8a3c31" stroke-width="0.5"/>
<circle cx="236.0" cy="354.3" r="1.75" fill="#b04436" fill-opacity="0.85" stroke="#843328" stroke-width="0.5"/>
<circle cx="286.7" cy="341.5" r="1.75" fill="#a0382a" fill-opacity="0.85" stroke="#782a1f" stroke-width="0.5"/>
<circle cx="215.7" cy="321.3" r="1.75" fill="#b85042" fill-opacity="0.85" stroke="#8a3c31" stroke-width="0.5"/>
<circle cx="211.8" cy="341.0" r="1.75" fill="#a0382a" fill-opacity="0.85" stroke="#782a1f" stroke-width="0.5"/>
<circle cx="250.3" cy="339.4" r="1.75" fill="#a0382a" fill-opacity="0.85" stroke="#782a1f" stroke-width="0.5"/>
<circle cx="215.9" cy="318.7" r="1.75" fill="#a0382a" fill-opacity="0.85" stroke="#782a1f" stroke-width="0.5"/>
<circle cx="253.3" cy="319.4" r="1.75" fill="#a83e2e" fill-opacity="0.85" stroke="#7e2e22" stroke-width="0.5"/>
<circle cx="209.6" cy="318.3" r="1.75" fill="#a0382a" fill-opacity="0.85" stroke="#782a1f" stroke-width="0.5"/>
<circle cx="206.8" cy="344.1" r="1.75" fill="#b04436" fill-opacity="0.85" stroke="#843328" stroke-width="0.5"/>
<circle cx="245.6" cy="331.7" r="1.75" fill="#a0382a" fill-opacity="0.85" stroke="#782a1f" stroke-width="0.5"/>
<circle cx="218.3" cy="317.1" r="1.75" fill="#b85042" fill-opacity="0.85" stroke="#8a3c31" stroke-width="0.5"/>
<circle cx="248.1" cy="324.1" r="1.75" fill="#b04436" fill-opacity="0.85" stroke="#843328" stroke-width="0.5"/>
<circle cx="205.8" cy="327.6" r="1.75" fill="#a83e2e" fill-opacity="0.85" stroke="#7e2e22" stroke-width="0.5"/>
<circle cx="249.1" cy="330.2" r="1.75" fill="#b04436" fill-opacity="0.85" stroke="#843328" stroke-width="0.5"/>
<circle cx="201.4" cy="350.9" r="1.75" fill="#b04436" fill-opacity="0.85" stroke="#843328" stroke-width="0.5"/>
<circle cx="264.5" cy="343.8" r="1.75" fill="#a83e2e" fill-opacity="0.85" stroke="#7e2e22" stroke-width="0.5"/>
<circle cx="236.6" cy="353.1" r="1.75" fill="#a0382a" fill-opacity="0.85" stroke="#782a1f" stroke-width="0.5"/>
<circle cx="181.9" cy="332.5" r="1.75" fill="#b04436" fill-opacity="0.85" stroke="#843328" stroke-width="0.5"/>
<circle cx="191.9" cy="315.9" r="1.75" fill="#b85042" fill-opacity="0.85" stroke="#8a3c31" stroke-width="0.5"/>
<circle cx="166.3" cy="359.8" r="1.75" fill="#a83e2e" fill-opacity="0.85" stroke="#7e2e22" stroke-width="0.5"/>
<circle cx="247.1" cy="338.4" r="1.75" fill="#b04436" fill-opacity="0.85" stroke="#843328" stroke-width="0.5"/>
<circle cx="222.6" cy="317.1" r="1.75" fill="#b04436" fill-opacity="0.85" stroke="#843328" stroke-width="0.5"/>
<circle cx="227.5" cy="354.7" r="1.75" fill="#b04436" fill-opacity="0.85" stroke="#843328" stroke-width="0.5"/>
<circle cx="259.1" cy="340.4" r="1.75" fill="#a0382a" fill-opacity="0.85" stroke="#782a1f" stroke-width="0.5"/>
<circle cx="196.9" cy="321.7" r="1.75" fill="#b85042" fill-opacity="0.85" stroke="#8a3c31" stroke-width="0.5"/>
<circle cx="247.7" cy="347.6" r="1.75" fill="#a0382a" fill-opacity="0.85" stroke="#782a1f" stroke-width="0.5"/>
<circle cx="262.1" cy="331.8" r="1.75" fill="#a83e2e" fill-opacity="0.85" stroke="#7e2e22" stroke-width="0.5"/>
<circle cx="210.5" cy="341.3" r="1.75" fill="#b04436" fill-opacity="0.85" stroke="#843328" stroke-width="0.5"/>
<circle cx="243.6" cy="317.9" r="1.75" fill="#a0382a" fill-opacity="0.85" stroke="#782a1f" stroke-width="0.5"/>
<circle cx="198.0" cy="319.1" r="1.75" fill="#a83e2e" fill-opacity="0.85" stroke="#7e2e22" stroke-width="0.5"/>
<circle cx="202.2" cy="357.2" r="1.75" fill="#a0382a" fill-opacity="0.85" stroke="#782a1f" stroke-width="0.5"/>
<circle cx="203.5" cy="341.7" r="1.75" fill="#a83e2e" fill-opacity="0.85" stroke="#7e2e22" stroke-width="0.5"/>
<circle cx="234.3" cy="321.3" r="1.75" fill="#a83e2e" fill-opacity="0.85" stroke="#7e2e22" stroke-width="0.5"/>
<circle cx="224.8" cy="354.4" r="1.75" fill="#b85042" fill-opacity="0.85" stroke="#8a3c31" stroke-width="0.5"/>
<circle cx="273.0" cy="336.4" r="1.75" fill="#a0382a" fill-opacity="0.85" stroke="#782a1f" stroke-width="0.5"/>
<circle cx="276.0" cy="339.4" r="1.75" fill="#b85042" fill-opacity="0.85" stroke="#8a3c31" stroke-width="0.5"/>
<circle cx="200.6" cy="357.2" r="1.75" fill="#b85042" fill-opacity="0.85" stroke="#8a3c31" stroke-width="0.5"/>
<circle cx="196.5" cy="341.2" r="1.75" fill="#b04436" fill-opacity="0.85" stroke="#843328" stroke-width="0.5"/>
<circle cx="212.6" cy="326.2" r="1.75" fill="#b85042" fill-opacity="0.85" stroke="#8a3c31" stroke-width="0.5"/>
<circle cx="234.3" cy="334.7" r="1.75" fill="#b85042" fill-opacity="0.85" stroke="#8a3c31" stroke-width="0.5"/>
<circle cx="231.5" cy="330.4" r="1.75" fill="#b85042" fill-opacity="0.85" stroke="#8a3c31" stroke-width="0.5"/>
<circle cx="224.5" cy="336.9" r="1.75" fill="#b04436" fill-opacity="0.85" stroke="#843328" stroke-width="0.5"/>
<circle cx="230.9" cy="345.0" r="1.75" fill="#b85042" fill-opacity="0.85" stroke="#8a3c31" stroke-width="0.5"/>
<circle cx="228.0" cy="346.4" r="1.75" fill="#a83e2e" fill-opacity="0.85" stroke="#7e2e22" stroke-width="0.5"/>
<circle cx="239.7" cy="330.9" r="1.75" fill="#a0382a" fill-opacity="0.85" stroke="#782a1f" stroke-width="0.5"/>
<circle cx="218.2" cy="346.6" r="1.75" fill="#a0382a" fill-opacity="0.85" stroke="#782a1f" stroke-width="0.5"/>
<circle cx="232.7" cy="329.6" r="1.75" fill="#b04436" fill-opacity="0.85" stroke="#843328" stroke-width="0.5"/>
<circle cx="196.8" cy="309.5" r="1.75" fill="#b85042" fill-opacity="0.85" stroke="#8a3c31" stroke-width="0.5"/>
<circle cx="243.0" cy="362.3" r="1.75" fill="#b04436" fill-opacity="0.85" stroke="#843328" stroke-width="0.5"/>
<circle cx="226.4" cy="321.8" r="1.75" fill="#b04436" fill-opacity="0.85" stroke="#843328" stroke-width="0.5"/>
<circle cx="205.9" cy="334.7" r="1.75" fill="#a83e2e" fill-opacity="0.85" stroke="#7e2e22" stroke-width="0.5"/>
<circle cx="243.8" cy="323.0" r="1.75" fill="#b04436" fill-opacity="0.85" stroke="#843328" stroke-width="0.5"/>
<circle cx="221.1" cy="327.5" r="1.75" fill="#a83e2e" fill-opacity="0.85" stroke="#7e2e22" stroke-width="0.5"/>
<circle cx="170.0" cy="331.2" r="1.75" fill="#b04436" fill-opacity="0.85" stroke="#843328" stroke-width="0.5"/>
<circle cx="242.1" cy="350.9" r="1.75" fill="#a0382a" fill-opacity="0.85" stroke="#782a1f" stroke-width="0.5"/>
<circle cx="198.8" cy="312.6" r="1.75" fill="#b85042" fill-opacity="0.85" stroke="#8a3c31" stroke-width="0.5"/>
<circle cx="219.5" cy="330.0" r="1.75" fill="#b85042" fill-opacity="0.85" stroke="#8a3c31" stroke-width="0.5"/>
<circle cx="223.3" cy="336.1" r="1.75" fill="#b04436" fill-opacity="0.85" stroke="#843328" stroke-width="0.5"/>
<circle cx="199.4" cy="305.2" r="1.75" fill="#b85042" fill-opacity="0.85" stroke="#8a3c31" stroke-width="0.5"/>
<circle cx="232.8" cy="332.4" r="1.75" fill="#a0382a" fill-opacity="0.85" stroke="#782a1f" stroke-width="0.5"/>
<circle cx="274.7" cy="344.4" r="1.75" fill="#a83e2e" fill-opacity="0.85" stroke="#7e2e22" stroke-width="0.5"/>
<circle cx="196.5" cy="366.0" r="1.75" fill="#b85042" fill-opacity="0.85" stroke="#8a3c31" stroke-width="0.5"/>
<circle cx="199.7" cy="362.3" r="1.75" fill="#a83e2e" fill-opacity="0.85" stroke="#7e2e22" stroke-width="0.5"/>
<circle cx="222.2" cy="353.3" r="1.75" fill="#b85042" fill-opacity="0.85" stroke="#8a3c31" stroke-width="0.5"/>
<circle cx="175.0" cy="329.0" r="1.75" fill="#b85042" fill-opacity="0.85" stroke="#8a3c31" stroke-width="0.5"/>
<circle cx="206.5" cy="353.7" r="1.75" fill="#b85042" fill-opacity="0.85" stroke="#8a3c31" stroke-width="0.5"/>
<circle cx="204.1" cy="338.7" r="1.75" fill="#b85042" fill-opacity="0.85" stroke="#8a3c31" stroke-width="0.5"/>
<circle cx="271.2" cy="335.3" r="1.75" fill="#b04436" fill-opacity="0.85" stroke="#843328" stroke-width="0.5"/>
<circle cx="215.2" cy="351.2" r="1.75" fill="#b85042" fill-opacity="0.85" stroke="#8a3c31" stroke-width="0.5"/>
<circle cx="284.0" cy="369.9" r="1.75" fill="#b04436" fill-opacity="0.85" stroke="#843328" stroke-width="0.5"/>
<circle cx="229.8" cy="334.5" r="1.75" fill="#a0382a" fill-opacity="0.85" stroke="#782a1f" stroke-width="0.5"/>
<circle cx="218.8" cy="337.6" r="1.75" fill="#b85042" fill-opacity="0.85" stroke="#8a3c31" stroke-width="0.5"/>
<circle cx="235.2" cy="342.1" r="1.75" fill="#a0382a" fill-opacity="0.85" stroke="#782a1f" stroke-width="0.5"/>
<circle cx="193.9" cy="324.2" r="1.75" fill="#a0382a" fill-opacity="0.85" stroke="#782a1f" stroke-width="0.5"/>
<circle cx="196.7" cy="324.0" r="1.75" fill="#b04436" fill-opacity="0.85" stroke="#843328" stroke-width="0.5"/>
<circle cx="238.4" cy="362.1" r="1.75" fill="#a0382a" fill-opacity="0.85" stroke="#782a1f" stroke-width="0.5"/>
<circle cx="214.9" cy="332.0" r="1.75" fill="#a83e2e" fill-opacity="0.85" stroke="#7e2e22" stroke-width="0.5"/>
<circle cx="249.4" cy="326.7" r="1.75" fill="#b04436" fill-opacity="0.85" stroke="#843328" stroke-width="0.5"/>
<circle cx="265.6" cy="327.0" r="1.75" fill="#b85042" fill-opacity="0.85" stroke="#8a3c31" stroke-width="0.5"/>
<circle cx="239.4" cy="332.7" r="1.75" fill="#b85042" fill-opacity="0.85" stroke="#8a3c31" stroke-width="0.5"/>
<circle cx="206.6" cy="334.3" r="1.75" fill="#b85042" fill-opacity="0.85" stroke="#8a3c31" stroke-width="0.5"/>
<circle cx="231.2" cy="342.9" r="1.75" fill="#b04436" fill-opacity="0.85" stroke="#843328" stroke-width="0.5"/>
<circle cx="189.0" cy="348.7" r="1.75" fill="#b04436" fill-opacity="0.85" stroke="#843328" stroke-width="0.5"/>
<circle cx="191.5" cy="339.3" r="1.75" fill="#b04436" fill-opacity="0.85" stroke="#843328" stroke-width="0.5"/>
<circle cx="232.7" cy="322.5" r="1.75" fill="#a0382a" fill-opacity="0.85" stroke="#782a1f" stroke-width="0.5"/>
<circle cx="223.2" cy="339.9" r="1.75" fill="#a0382a" fill-opacity="0.85" stroke="#782a1f" stroke-width="0.5"/>
<circle cx="218.6" cy="331.2" r="1.75" fill="#a0382a" fill-opacity="0.85" stroke="#782a1f" stroke-width="0.5"/>
<circle cx="216.1" cy="337.0" r="1.75" fill="#a0382a" fill-opacity="0.85" stroke="#782a1f" stroke-width="0.5"/>
<circle cx="232.0" cy="347.9" r="1.75" fill="#b04436" fill-opacity="0.85" stroke="#843328" stroke-width="0.5"/>
<circle cx="224.3" cy="340.0" r="1.75" fill="#b04436" fill-opacity="0.85" stroke="#843328" stroke-width="0.5"/>
<circle cx="287.1" cy="336.3" r="1.75" fill="#a83e2e" fill-opacity="0.85" stroke="#7e2e22" stroke-width="0.5"/>
<circle cx="238.8" cy="332.9" r="1.75" fill="#b04436" fill-opacity="0.85" stroke="#843328" stroke-width="0.5"/>
<circle cx="221.8" cy="359.5" r="1.75" fill="#a0382a" fill-opacity="0.85" stroke="#782a1f" stroke-width="0.5"/>
<circle cx="226.0" cy="328.7" r="1.75" fill="#b04436" fill-opacity="0.85" stroke="#843328" stroke-width="0.5"/>
<circle cx="194.9" cy="358.8" r="1.75" fill="#a83e2e" fill-opacity="0.85" stroke="#7e2e22" stroke-width="0.5"/>
<circle cx="226.4" cy="332.3" r="1.75" fill="#a0382a" fill-opacity="0.85" stroke="#782a1f" stroke-width="0.5"/>
<circle cx="227.1" cy="336.6" r="1.75" fill="#b04436" fill-opacity="0.85" stroke="#843328" stroke-width="0.5"/>
<circle cx="262.0" cy="322.7" r="1.75" fill="#b04436" fill-opacity="0.85" stroke="#843328" stroke-width="0.5"/>
<circle cx="208.1" cy="347.9" r="1.75" fill="#a83e2e" fill-opacity="0.85" stroke="#7e2e22" stroke-width="0.5"/>
<circle cx="282.9" cy="331.0" r="1.75" fill="#b04436" fill-opacity="0.85" stroke="#843328" stroke-width="0.5"/>
<circle cx="223.3" cy="321.2" r="1.75" fill="#a83e2e" fill-opacity="0.85" stroke="#7e2e22" stroke-width="0.5"/>
<circle cx="260.9" cy="361.6" r="1.75" fill="#b85042" fill-opacity="0.85" stroke="#8a3c31" stroke-width="0.5"/>
<circle cx="245.2" cy="336.3" r="1.75" fill="#a0382a" fill-opacity="0.85" stroke="#782a1f" stroke-width="0.5"/>
<circle cx="226.2" cy="359.5" r="1.75" fill="#a0382a" fill-opacity="0.85" stroke="#782a1f" stroke-width="0.5"/>
<circle cx="283.3" cy="359.9" r="1.75" fill="#b85042" fill-opacity="0.85" stroke="#8a3c31" stroke-width="0.5"/>
<circle cx="203.7" cy="309.2" r="1.75" fill="#b85042" fill-opacity="0.85" stroke="#8a3c31" stroke-width="0.5"/>
<circle cx="274.1" cy="355.8" r="1.75" fill="#b04436" fill-opacity="0.85" stroke="#843328" stroke-width="0.5"/>
<circle cx="269.4" cy="347.1" r="1.75" fill="#b85042" fill-opacity="0.85" stroke="#8a3c31" stroke-width="0.5"/>
<circle cx="239.3" cy="373.3" r="1.75" fill="#a83e2e" fill-opacity="0.85" stroke="#7e2e22" stroke-width="0.5"/>
<circle cx="214.0" cy="352.9" r="1.75" fill="#a83e2e" fill-opacity="0.85" stroke="#7e2e22" stroke-width="0.5"/>
<circle cx="266.5" cy="324.8" r="1.75" fill="#b04436" fill-opacity="0.85" stroke="#843328" stroke-width="0.5"/>
<circle cx="207.2" cy="323.8" r="1.75" fill="#a83e2e" fill-opacity="0.85" stroke="#7e2e22" stroke-width="0.5"/>
<circle cx="239.6" cy="362.1" r="1.75" fill="#b04436" fill-opacity="0.85" stroke="#843328" stroke-width="0.5"/>
<circle cx="203.2" cy="314.8" r="1.75" fill="#a83e2e" fill-opacity="0.85" stroke="#7e2e22" stroke-width="0.5"/>
<circle cx="201.4" cy="364.6" r="1.75" fill="#a0382a" fill-opacity="0.85" stroke="#782a1f" stroke-width="0.5"/>
<circle cx="210.3" cy="311.0" r="1.75" fill="#a0382a" fill-opacity="0.85" stroke="#782a1f" stroke-width="0.5"/>
<circle cx="265.3" cy="319.0" r="1.75" fill="#a83e2e" fill-opacity="0.85" stroke="#7e2e22" stroke-width="0.5"/>
<circle cx="205.8" cy="309.0" r="1.75" fill="#a0382a" fill-opacity="0.85" stroke="#782a1f" stroke-width="0.5"/>
<circle cx="224.8" cy="319.5" r="1.75" fill="#b85042" fill-opacity="0.85" stroke="#8a3c31" stroke-width="0.5"/>
<circle cx="239.5" cy="305.7" r="1.75" fill="#a0382a" fill-opacity="0.85" stroke="#782a1f" stroke-width="0.5"/>
<circle cx="224.1" cy="311.1" r="1.75" fill="#b85042" fill-opacity="0.85" stroke="#8a3c31" stroke-width="0.5"/>
<circle cx="262.2" cy="321.3" r="1.75" fill="#b85042" fill-opacity="0.85" stroke="#8a3c31" stroke-width="0.5"/>
<circle cx="276.0" cy="341.5" r="1.75" fill="#a0382a" fill-opacity="0.85" stroke="#782a1f" stroke-width="0.5"/>
<circle cx="229.8" cy="319.1" r="1.75" fill="#a83e2e" fill-opacity="0.85" stroke="#7e2e22" stroke-width="0.5"/>
<circle cx="191.5" cy="317.6" r="1.75" fill="#b85042" fill-opacity="0.85" stroke="#8a3c31" stroke-width="0.5"/>
<circle cx="212.3" cy="344.5" r="1.75" fill="#a0382a" fill-opacity="0.85" stroke="#782a1f" stroke-width="0.5"/>
<circle cx="263.1" cy="365.0" r="1.75" fill="#a83e2e" fill-opacity="0.85" stroke="#7e2e22" stroke-width="0.5"/>
<circle cx="213.6" cy="312.4" r="1.75" fill="#a0382a" fill-opacity="0.85" stroke="#782a1f" stroke-width="0.5"/>
<circle cx="264.1" cy="315.9" r="1.75" fill="#b04436" fill-opacity="0.85" stroke="#843328" stroke-width="0.5"/>
<circle cx="210.1" cy="341.4" r="1.75" fill="#b04436" fill-opacity="0.85" stroke="#843328" stroke-width="0.5"/>
<circle cx="179.5" cy="319.3" r="1.75" fill="#a0382a" fill-opacity="0.85" stroke="#782a1f" stroke-width="0.5"/>
<circle cx="239.6" cy="320.0" r="1.75" fill="#b85042" fill-opacity="0.85" stroke="#8a3c31" stroke-width="0.5"/>
<circle cx="220.0" cy="371.3" r="1.75" fill="#a83e2e" fill-opacity="0.85" stroke="#7e2e22" stroke-width="0.5"/>
<circle cx="285.6" cy="328.9" r="1.75" fill="#78c8e0" fill-opacity="0.85" stroke="#5a96a8" stroke-width="0.5"/>
<circle cx="284.8" cy="335.6" r="1.75" fill="#78c8e0" fill-opacity="0.85" stroke="#5a96a8" stroke-width="0.5"/>
<circle cx="292.8" cy="272.0" r="1.75" fill="#c07040" fill-opacity="0.85" stroke="#905430" stroke-width="0.5"/>
<circle cx="293.8" cy="282.0" r="1.75" fill="#8040a0" fill-opacity="0.85" stroke="#603078" stroke-width="0.5"/>
<circle cx="295.4" cy="287.0" r="1.75" fill="#a06040" fill-opacity="0.85" stroke="#784830" stroke-width="0.5"/>
<circle cx="303.8" cy="287.3" r="1.75" fill="#b09070" fill-opacity="0.85" stroke="#846c54" stroke-width="0.5"/>
<circle cx="309.2" cy="285.8" r="1.75" fill="#40a040" fill-opacity="0.85" stroke="#307830" stroke-width="0.5"/>
<circle cx="312.3" cy="285.8" r="1.75" fill="#2a2a90" fill-opacity="0.85" stroke="#1f1f6c" stroke-width="0.5"/>
<circle cx="317.7" cy="285.0" r="1.75" fill="#e0a0c0" fill-opacity="0.85" stroke="#a87890" stroke-width="0.5"/>
<circle cx="294.6" cy="292.0" r="1.75" fill="#c040b0" fill-opacity="0.85" stroke="#903084" stroke-width="0.5"/>
<circle cx="299.2" cy="292.7" r="1.75" fill="#8a44a8" fill-opacity="0.85" stroke="#67337e" stroke-width="0.5"/>
<circle cx="328.5" cy="285.0" r="1.75" fill="#c040b0" fill-opacity="0.85" stroke="#903084" stroke-width="0.5"/>
<circle cx="319.9" cy="308.5" r="1.75" fill="#b85050" fill-opacity="0.85" stroke="#8a3c3c" stroke-width="0.5"/>
<circle cx="321.8" cy="309.4" r="1.75" fill="#a84040" fill-opacity="0.85" stroke="#7e3030" stroke-width="0.5"/>
<circle cx="301.1" cy="299.6" r="1.75" fill="#7a3a9a" fill-opacity="0.85" stroke="#5b2b73" stroke-width="0.5"/>
<circle cx="340.7" cy="299.6" r="1.75" fill="#a84040" fill-opacity="0.85" stroke="#7e3030" stroke-width="0.5"/>
<circle cx="311.8" cy="300.8" r="1.75" fill="#a84040" fill-opacity="0.85" stroke="#7e3030" stroke-width="0.5"/>
<circle cx="327.5" cy="304.2" r="1.75" fill="#50aaaa" fill-opacity="0.85" stroke="#3c7f7f" stroke-width="0.5"/>
<circle cx="304.1" cy="288.6" r="1.75" fill="#383890" fill-opacity="0.85" stroke="#2a2a6c" stroke-width="0.5"/>
<circle cx="311.5" cy="312.1" r="1.75" fill="#b85050" fill-opacity="0.85" stroke="#8a3c3c" stroke-width="0.5"/>
<circle cx="350.2" cy="300.1" r="1.75" fill="#b85050" fill-opacity="0.85" stroke="#8a3c3c" stroke-width="0.5"/>
<circle cx="327.5" cy="307.7" r="1.75" fill="#8a8a38" fill-opacity="0.85" stroke="#67672a" stroke-width="0.5"/>
<circle cx="337.8" cy="294.8" r="1.75" fill="#6a4a8a" fill-opacity="0.85" stroke="#4f3767" stroke-width="0.5"/>
<circle cx="336.8" cy="310.6" r="1.75" fill="#b08a48" fill-opacity="0.85" stroke="#846736" stroke-width="0.5"/>
<circle cx="302.4" cy="285.2" r="1.75" fill="#a84040" fill-opacity="0.85" stroke="#7e3030" stroke-width="0.5"/>
<circle cx="330.3" cy="317.9" r="1.75" fill="#c86060" fill-opacity="0.85" stroke="#964848" stroke-width="0.5"/>
<circle cx="316.3" cy="299.2" r="1.75" fill="#50aaaa" fill-opacity="0.85" stroke="#3c7f7f" stroke-width="0.5"/>
<circle cx="320.2" cy="301.8" r="1.75" fill="#8a8a38" fill-opacity="0.85" stroke="#67672a" stroke-width="0.5"/>
<circle cx="319.8" cy="310.6" r="1.75" fill="#7a3a9a" fill-opacity="0.85" stroke="#5b2b73" stroke-width="0.5"/>
<circle cx="323.6" cy="311.8" r="1.75" fill="#b85050" fill-opacity="0.85" stroke="#8a3c3c" stroke-width="0.5"/>
<circle cx="319.3" cy="304.7" r="1.75" fill="#b08a48" fill-opacity="0.85" stroke="#846736" stroke-width="0.5"/>
<circle cx="320.9" cy="308.3" r="1.75" fill="#c86060" fill-opacity="0.85" stroke="#964848" stroke-width="0.5"/>
<circle cx="324.3" cy="326.6" r="1.75" fill="#40b8a8" fill-opacity="0.85" stroke="#308a7e" stroke-width="0.5"/>
<circle cx="324.2" cy="302.8" r="1.75" fill="#50a850" fill-opacity="0.85" stroke="#3c7e3c" stroke-width="0.5"/>
<circle cx="338.8" cy="317.8" r="1.75" fill="#6a4a8a" fill-opacity="0.85" stroke="#4f3767" stroke-width="0.5"/>
<circle cx="312.4" cy="298.9" r="1.75" fill="#8a8a38" fill-opacity="0.85" stroke="#67672a" stroke-width="0.5"/>
<circle cx="325.0" cy="296.8" r="1.75" fill="#e080b0" fill-opacity="0.85" stroke="#a86084" stroke-width="0.5"/>
<circle cx="324.4" cy="311.0" r="1.75" fill="#a84040" fill-opacity="0.85" stroke="#7e3030" stroke-width="0.5"/>
<circle cx="317.1" cy="294.9" r="1.75" fill="#b85050" fill-opacity="0.85" stroke="#8a3c3c" stroke-width="0.5"/>
<circle cx="325.4" cy="300.9" r="1.75" fill="#50a850" fill-opacity="0.85" stroke="#3c7e3c" stroke-width="0.5"/>
<circle cx="324.4" cy="311.9" r="1.75" fill="#6a4a8a" fill-opacity="0.85" stroke="#4f3767" stroke-width="0.5"/>
<circle cx="316.9" cy="310.7" r="1.75" fill="#7a3a9a" fill-opacity="0.85" stroke="#5b2b73" stroke-width="0.5"/>
<circle cx="311.0" cy="323.7" r="1.75" fill="#a84040" fill-opacity="0.85" stroke="#7e3030" stroke-width="0.5"/>
<circle cx="323.4" cy="305.6" r="1.75" fill="#c86060" fill-opacity="0.85" stroke="#964848" stroke-width="0.5"/>
<circle cx="316.6" cy="300.6" r="1.75" fill="#7a3a9a" fill-opacity="0.85" stroke="#5b2b73" stroke-width="0.5"/>
<circle cx="318.3" cy="312.8" r="1.75" fill="#b85050" fill-opacity="0.85" stroke="#8a3c3c" stroke-width="0.5"/>
<circle cx="342.8" cy="305.8" r="1.75" fill="#a84040" fill-opacity="0.85" stroke="#7e3030" stroke-width="0.5"/>
<circle cx="314.8" cy="324.6" r="1.75" fill="#a84040" fill-opacity="0.85" stroke="#7e3030" stroke-width="0.5"/>
<circle cx="318.8" cy="298.6" r="1.75" fill="#a0c060" fill-opacity="0.85" stroke="#789048" stroke-width="0.5"/>
<circle cx="338.0" cy="307.6" r="1.75" fill="#8a8a38" fill-opacity="0.85" stroke="#67672a" stroke-width="0.5"/>
<circle cx="320.4" cy="306.4" r="1.75" fill="#6a4a8a" fill-opacity="0.85" stroke="#4f3767" stroke-width="0.5"/>
<circle cx="313.7" cy="305.0" r="1.75" fill="#50a850" fill-opacity="0.85" stroke="#3c7e3c" stroke-width="0.5"/>
<circle cx="326.0" cy="302.7" r="1.75" fill="#50aaaa" fill-opacity="0.85" stroke="#3c7f7f" stroke-width="0.5"/>
<circle cx="324.1" cy="310.3" r="1.75" fill="#907040" fill-opacity="0.85" stroke="#6c5430" stroke-width="0.5"/>
<circle cx="318.4" cy="300.2" r="1.75" fill="#a84040" fill-opacity="0.85" stroke="#7e3030" stroke-width="0.5"/>
<circle cx="331.7" cy="312.4" r="1.75" fill="#7a3a9a" fill-opacity="0.85" stroke="#5b2b73" stroke-width="0.5"/>
<circle cx="319.0" cy="312.0" r="1.75" fill="#e080b0" fill-opacity="0.85" stroke="#a86084" stroke-width="0.5"/>
<circle cx="315.2" cy="290.1" r="1.75" fill="#50aaaa" fill-opacity="0.85" stroke="#3c7f7f" stroke-width="0.5"/>
<circle cx="321.1" cy="309.2" r="1.75" fill="#b08a48" fill-opacity="0.85" stroke="#846736" stroke-width="0.5"/>
<circle cx="306.6" cy="313.9" r="1.75" fill="#a84040" fill-opacity="0.85" stroke="#7e3030" stroke-width="0.5"/>
<circle cx="323.4" cy="298.5" r="1.75" fill="#6a4a8a" fill-opacity="0.85" stroke="#4f3767" stroke-width="0.5"/>
<circle cx="327.7" cy="298.1" r="1.75" fill="#a84040" fill-opacity="0.85" stroke="#7e3030" stroke-width="0.5"/>
<circle cx="329.6" cy="300.5" r="1.75" fill="#40b8a8" fill-opacity="0.85" stroke="#308a7e" stroke-width="0.5"/>
<circle cx="319.3" cy="311.7" r="1.75" fill="#6a4a8a" fill-opacity="0.85" stroke="#4f3767" stroke-width="0.5"/>
<circle cx="316.0" cy="310.0" r="1.75" fill="#8a8a38" fill-opacity="0.85" stroke="#67672a" stroke-width="0.5"/>
<circle cx="319.2" cy="305.5" r="1.75" fill="#7a3a9a" fill-opacity="0.85" stroke="#5b2b73" stroke-width="0.5"/>
<circle cx="308.7" cy="309.6" r="1.75" fill="#a84040" fill-opacity="0.85" stroke="#7e3030" stroke-width="0.5"/>
<circle cx="315.9" cy="289.8" r="1.75" fill="#40b8a8" fill-opacity="0.85" stroke="#308a7e" stroke-width="0.5"/>
<circle cx="313.2" cy="318.8" r="1.75" fill="#8a8a38" fill-opacity="0.85" stroke="#67672a" stroke-width="0.5"/>
<circle cx="320.0" cy="302.8" r="1.75" fill="#40b8a8" fill-opacity="0.85" stroke="#308a7e" stroke-width="0.5"/>
<circle cx="331.2" cy="303.0" r="1.75" fill="#7a3a9a" fill-opacity="0.85" stroke="#5b2b73" stroke-width="0.5"/>
<circle cx="307.8" cy="303.9" r="1.75" fill="#a84040" fill-opacity="0.85" stroke="#7e3030" stroke-width="0.5"/>
<circle cx="327.0" cy="304.7" r="1.75" fill="#b85050" fill-opacity="0.85" stroke="#8a3c3c" stroke-width="0.5"/>
<circle cx="326.1" cy="310.1" r="1.75" fill="#6a4a8a" fill-opacity="0.85" stroke="#4f3767" stroke-width="0.5"/>
<circle cx="324.4" cy="306.8" r="1.75" fill="#b08a48" fill-opacity="0.85" stroke="#846736" stroke-width="0.5"/>
<circle cx="320.6" cy="307.6" r="1.75" fill="#50aaaa" fill-opacity="0.85" stroke="#3c7f7f" stroke-width="0.5"/>
<circle cx="309.2" cy="300.9" r="1.75" fill="#b08a48" fill-opacity="0.85" stroke="#846736" stroke-width="0.5"/>
<circle cx="336.1" cy="316.9" r="1.75" fill="#b08a48" fill-opacity="0.85" stroke="#846736" stroke-width="0.5"/>
<circle cx="324.9" cy="307.3" r="1.75" fill="#7a3a9a" fill-opacity="0.85" stroke="#5b2b73" stroke-width="0.5"/>
<circle cx="311.9" cy="306.0" r="1.75" fill="#a84040" fill-opacity="0.85" stroke="#7e3030" stroke-width="0.5"/>
<circle cx="315.5" cy="308.7" r="1.75" fill="#50aaaa" fill-opacity="0.85" stroke="#3c7f7f" stroke-width="0.5"/>
<circle cx="323.6" cy="302.1" r="1.75" fill="#50aaaa" fill-opacity="0.85" stroke="#3c7f7f" stroke-width="0.5"/>
<circle cx="319.9" cy="300.6" r="1.75" fill="#6a4a8a" fill-opacity="0.85" stroke="#4f3767" stroke-width="0.5"/>
<circle cx="329.2" cy="302.6" r="1.75" fill="#50a850" fill-opacity="0.85" stroke="#3c7e3c" stroke-width="0.5"/>
<circle cx="326.5" cy="296.7" r="1.75" fill="#8a8a38" fill-opacity="0.85" stroke="#67672a" stroke-width="0.5"/>
<circle cx="336.2" cy="300.4" r="1.75" fill="#8a8a38" fill-opacity="0.85" stroke="#67672a" stroke-width="0.5"/>
<circle cx="320.5" cy="314.1" r="1.75" fill="#50a850" fill-opacity="0.85" stroke="#3c7e3c" stroke-width="0.5"/>
<circle cx="337.9" cy="304.1" r="1.75" fill="#c86060" fill-opacity="0.85" stroke="#964848" stroke-width="0.5"/>
<circle cx="327.7" cy="290.0" r="1.75" fill="#a84040" fill-opacity="0.85" stroke="#7e3030" stroke-width="0.5"/>
<circle cx="295.0" cy="303.5" r="1.75" fill="#c86060" fill-opacity="0.85" stroke="#964848" stroke-width="0.5"/>
<circle cx="320.0" cy="315.4" r="1.75" fill="#e080b0" fill-opacity="0.85" stroke="#a86084" stroke-width="0.5"/>
<circle cx="311.9" cy="314.3" r="1.75" fill="#a84040" fill-opacity="0.85" stroke="#7e3030" stroke-width="0.5"/>
<circle cx="309.2" cy="310.4" r="1.75" fill="#a84040" fill-opacity="0.85" stroke="#7e3030" stroke-width="0.5"/>
<circle cx="336.9" cy="324.3" r="1.75" fill="#907040" fill-opacity="0.85" stroke="#6c5430" stroke-width="0.5"/>
<circle cx="333.1" cy="301.1" r="1.75" fill="#6a4a8a" fill-opacity="0.85" stroke="#4f3767" stroke-width="0.5"/>
<circle cx="335.5" cy="293.6" r="1.75" fill="#a84040" fill-opacity="0.85" stroke="#7e3030" stroke-width="0.5"/>
<circle cx="315.0" cy="300.5" r="1.75" fill="#383890" fill-opacity="0.85" stroke="#2a2a6c" stroke-width="0.5"/>
<circle cx="318.2" cy="317.1" r="1.75" fill="#c86060" fill-opacity="0.85" stroke="#964848" stroke-width="0.5"/>
<circle cx="314.5" cy="301.3" r="1.75" fill="#7a3a9a" fill-opacity="0.85" stroke="#5b2b73" stroke-width="0.5"/>
<circle cx="297.6" cy="314.9" r="1.75" fill="#c83898" fill-opacity="0.85" stroke="#962a72" stroke-width="0.5"/>
<circle cx="315.1" cy="318.2" r="1.75" fill="#a84040" fill-opacity="0.85" stroke="#7e3030" stroke-width="0.5"/>
<circle cx="299.3" cy="293.4" r="1.75" fill="#7a3a9a" fill-opacity="0.85" stroke="#5b2b73" stroke-width="0.5"/>
<circle cx="318.7" cy="316.0" r="1.75" fill="#7a3a9a" fill-opacity="0.85" stroke="#5b2b73" stroke-width="0.5"/>
<circle cx="323.1" cy="309.7" r="1.75" fill="#a84040" fill-opacity="0.85" stroke="#7e3030" stroke-width="0.5"/>
<circle cx="317.2" cy="314.9" r="1.75" fill="#c83898" fill-opacity="0.85" stroke="#962a72" stroke-width="0.5"/>
<circle cx="320.2" cy="309.9" r="1.75" fill="#50aaaa" fill-opacity="0.85" stroke="#3c7f7f" stroke-width="0.5"/>
<circle cx="327.3" cy="295.6" r="1.75" fill="#50aaaa" fill-opacity="0.85" stroke="#3c7f7f" stroke-width="0.5"/>
<circle cx="316.1" cy="301.1" r="1.75" fill="#b08a48" fill-opacity="0.85" stroke="#846736" stroke-width="0.5"/>
<circle cx="307.8" cy="308.8" r="1.75" fill="#e080b0" fill-opacity="0.85" stroke="#a86084" stroke-width="0.5"/>
<circle cx="311.5" cy="307.5" r="1.75" fill="#c83898" fill-opacity="0.85" stroke="#962a72" stroke-width="0.5"/>
<circle cx="322.1" cy="316.6" r="1.75" fill="#8a8a38" fill-opacity="0.85" stroke="#67672a" stroke-width="0.5"/>
<circle cx="318.7" cy="305.3" r="1.75" fill="#8a8a38" fill-opacity="0.85" stroke="#67672a" stroke-width="0.5"/>
<circle cx="324.8" cy="300.9" r="1.75" fill="#50aaaa" fill-opacity="0.85" stroke="#3c7f7f" stroke-width="0.5"/>
<circle cx="311.8" cy="306.4" r="1.75" fill="#a0c060" fill-opacity="0.85" stroke="#789048" stroke-width="0.5"/>
<circle cx="315.1" cy="320.9" r="1.75" fill="#b85050" fill-opacity="0.85" stroke="#8a3c3c" stroke-width="0.5"/>
<circle cx="338.5" cy="313.4" r="1.75" fill="#50a850" fill-opacity="0.85" stroke="#3c7e3c" stroke-width="0.5"/>
<circle cx="329.2" cy="309.4" r="1.75" fill="#50a850" fill-opacity="0.85" stroke="#3c7e3c" stroke-width="0.5"/>
<circle cx="319.6" cy="301.7" r="1.75" fill="#b85050" fill-opacity="0.85" stroke="#8a3c3c" stroke-width="0.5"/>
<circle cx="335.8" cy="302.3" r="1.75" fill="#b85050" fill-opacity="0.85" stroke="#8a3c3c" stroke-width="0.5"/>
<circle cx="315.2" cy="313.2" r="1.75" fill="#383890" fill-opacity="0.85" stroke="#2a2a6c" stroke-width="0.5"/>
<circle cx="305.5" cy="294.3" r="1.75" fill="#6a4a8a" fill-opacity="0.85" stroke="#4f3767" stroke-width="0.5"/>
<circle cx="303.7" cy="304.4" r="1.75" fill="#907040" fill-opacity="0.85" stroke="#6c5430" stroke-width="0.5"/>
<circle cx="320.7" cy="295.8" r="1.75" fill="#907040" fill-opacity="0.85" stroke="#6c5430" stroke-width="0.5"/>
<circle cx="314.3" cy="286.7" r="1.75" fill="#a84040" fill-opacity="0.85" stroke="#7e3030" stroke-width="0.5"/>
<circle cx="320.6" cy="305.4" r="1.75" fill="#907040" fill-opacity="0.85" stroke="#6c5430" stroke-width="0.5"/>
<circle cx="309.9" cy="300.6" r="1.75" fill="#80c0e0" fill-opacity="0.85" stroke="#6090a8" stroke-width="0.5"/>
<circle cx="310.6" cy="301.9" r="1.75" fill="#907040" fill-opacity="0.85" stroke="#6c5430" stroke-width="0.5"/>
<circle cx="339.2" cy="290.3" r="1.75" fill="#8a8a38" fill-opacity="0.85" stroke="#67672a" stroke-width="0.5"/>
<circle cx="303.0" cy="307.2" r="1.75" fill="#b08a48" fill-opacity="0.85" stroke="#846736" stroke-width="0.5"/>
<circle cx="317.2" cy="315.5" r="1.75" fill="#50aaaa" fill-opacity="0.85" stroke="#3c7f7f" stroke-width="0.5"/>
<circle cx="310.1" cy="310.6" r="1.75" fill="#907040" fill-opacity="0.85" stroke="#6c5430" stroke-width="0.5"/>
<circle cx="334.4" cy="290.6" r="1.75" fill="#50a850" fill-opacity="0.85" stroke="#3c7e3c" stroke-width="0.5"/>
<circle cx="328.2" cy="313.1" r="1.75" fill="#b85050" fill-opacity="0.85" stroke="#8a3c3c" stroke-width="0.5"/>
<circle cx="300.9" cy="295.2" r="1.75" fill="#a84040" fill-opacity="0.85" stroke="#7e3030" stroke-width="0.5"/>
<circle cx="336.0" cy="297.5" r="1.75" fill="#6a4a8a" fill-opacity="0.85" stroke="#4f3767" stroke-width="0.5"/>
<circle cx="345.9" cy="275.1" r="1.75" fill="#b85050" fill-opacity="0.85" stroke="#8a3c3c" stroke-width="0.5"/>
<circle cx="286.6" cy="315.7" r="1.75" fill="#a84040" fill-opacity="0.85" stroke="#7e3030" stroke-width="0.5"/>
<circle cx="344.2" cy="307.9" r="1.75" fill="#7a3a9a" fill-opacity="0.85" stroke="#5b2b73" stroke-width="0.5"/>
<circle cx="349.2" cy="292.2" r="1.75" fill="#7a3a9a" fill-opacity="0.85" stroke="#5b2b73" stroke-width="0.5"/>
<circle cx="343.7" cy="302.8" r="1.75" fill="#7a3a9a" fill-opacity="0.85" stroke="#5b2b73" stroke-width="0.5"/>
<circle cx="314.9" cy="291.1" r="1.75" fill="#8a8a38" fill-opacity="0.85" stroke="#67672a" stroke-width="0.5"/>
<circle cx="308.1" cy="296.2" r="1.75" fill="#80c0e0" fill-opacity="0.85" stroke="#6090a8" stroke-width="0.5"/>
<circle cx="312.2" cy="288.8" r="1.75" fill="#a84040" fill-opacity="0.85" stroke="#7e3030" stroke-width="0.5"/>
<circle cx="309.2" cy="312.3" r="1.75" fill="#50aaaa" fill-opacity="0.85" stroke="#3c7f7f" stroke-width="0.5"/>
<circle cx="288.9" cy="291.0" r="1.75" fill="#80c0e0" fill-opacity="0.85" stroke="#6090a8" stroke-width="0.5"/>
<circle cx="302.7" cy="304.2" r="1.75" fill="#e080b0" fill-opacity="0.85" stroke="#a86084" stroke-width="0.5"/>
<circle cx="338.5" cy="302.7" r="1.75" fill="#7a3a9a" fill-opacity="0.85" stroke="#5b2b73" stroke-width="0.5"/>
<circle cx="326.4" cy="295.7" r="1.75" fill="#8a8a38" fill-opacity="0.85" stroke="#67672a" stroke-width="0.5"/>
<circle cx="355.4" cy="299.7" r="1.75" fill="#7a3a9a" fill-opacity="0.85" stroke="#5b2b73" stroke-width="0.5"/>
<circle cx="351.3" cy="320.6" r="1.75" fill="#b08a48" fill-opacity="0.85" stroke="#846736" stroke-width="0.5"/>
<circle cx="345.5" cy="267.3" r="1.75" fill="#c86060" fill-opacity="0.85" stroke="#964848" stroke-width="0.5"/>
<circle cx="312.8" cy="306.6" r="1.75" fill="#c83898" fill-opacity="0.85" stroke="#962a72" stroke-width="0.5"/>
<circle cx="300.7" cy="301.9" r="1.75" fill="#b85050" fill-opacity="0.85" stroke="#8a3c3c" stroke-width="0.5"/>
<circle cx="332.5" cy="319.7" r="1.75" fill="#e080b0" fill-opacity="0.85" stroke="#a86084" stroke-width="0.5"/>
<circle cx="318.5" cy="300.1" r="1.75" fill="#50a850" fill-opacity="0.85" stroke="#3c7e3c" stroke-width="0.5"/>
<circle cx="325.6" cy="292.2" r="1.75" fill="#b08a48" fill-opacity="0.85" stroke="#846736" stroke-width="0.5"/>
<circle cx="337.3" cy="303.3" r="1.75" fill="#6a4a8a" fill-opacity="0.85" stroke="#4f3767" stroke-width="0.5"/>
<circle cx="299.1" cy="293.0" r="1.75" fill="#b85050" fill-opacity="0.85" stroke="#8a3c3c" stroke-width="0.5"/>
<circle cx="299.2" cy="303.2" r="1.75" fill="#c83898" fill-opacity="0.85" stroke="#962a72" stroke-width="0.5"/>
<circle cx="308.6" cy="290.2" r="1.75" fill="#a0c060" fill-opacity="0.85" stroke="#789048" stroke-width="0.5"/>
<circle cx="305.5" cy="297.0" r="1.75" fill="#a84040" fill-opacity="0.85" stroke="#7e3030" stroke-width="0.5"/>
<circle cx="338.8" cy="321.3" r="1.75" fill="#a84040" fill-opacity="0.85" stroke="#7e3030" stroke-width="0.5"/>
<circle cx="330.9" cy="307.7" r="1.75" fill="#7a3a9a" fill-opacity="0.85" stroke="#5b2b73" stroke-width="0.5"/>
<circle cx="333.0" cy="286.9" r="1.75" fill="#6a4a8a" fill-opacity="0.85" stroke="#4f3767" stroke-width="0.5"/>
<circle cx="324.6" cy="303.8" r="1.75" fill="#907040" fill-opacity="0.85" stroke="#6c5430" stroke-width="0.5"/>
<circle cx="309.4" cy="321.5" r="1.75" fill="#8a8a38" fill-opacity="0.85" stroke="#67672a" stroke-width="0.5"/>
<circle cx="328.9" cy="312.0" r="1.75" fill="#a84040" fill-opacity="0.85" stroke="#7e3030" stroke-width="0.5"/>
<circle cx="341.6" cy="293.2" r="1.75" fill="#8a8a38" fill-opacity="0.85" stroke="#67672a" stroke-width="0.5"/>
<circle cx="305.1" cy="307.0" r="1.75" fill="#a84040" fill-opacity="0.85" stroke="#7e3030" stroke-width="0.5"/>
<circle cx="340.4" cy="292.1" r="1.75" fill="#80c0e0" fill-opacity="0.85" stroke="#6090a8" stroke-width="0.5"/>
<circle cx="298.7" cy="309.7" r="1.75" fill="#c83898" fill-opacity="0.85" stroke="#962a72" stroke-width="0.5"/>
<circle cx="362.0" cy="311.2" r="1.75" fill="#6a4a8a" fill-opacity="0.85" stroke="#4f3767" stroke-width="0.5"/>
<circle cx="328.2" cy="292.9" r="1.75" fill="#e080b0" fill-opacity="0.85" stroke="#a86084" stroke-width="0.5"/>
<circle cx="342.4" cy="299.2" r="1.75" fill="#80c0e0" fill-opacity="0.85" stroke="#6090a8" stroke-width="0.5"/>
<circle cx="322.8" cy="315.9" r="1.75" fill="#b08a48" fill-opacity="0.85" stroke="#846736" stroke-width="0.5"/>
<circle cx="324.8" cy="314.0" r="1.75" fill="#40b8a8" fill-opacity="0.85" stroke="#308a7e" stroke-width="0.5"/>
<circle cx="290.2" cy="305.3" r="1.75" fill="#c83898" fill-opacity="0.85" stroke="#962a72" stroke-width="0.5"/>
<circle cx="294.7" cy="296.6" r="1.75" fill="#b85050" fill-opacity="0.85" stroke="#8a3c3c" stroke-width="0.5"/>
<circle cx="362.6" cy="293.1" r="1.75" fill="#50aaaa" fill-opacity="0.85" stroke="#3c7f7f" stroke-width="0.5"/>
<circle cx="289.8" cy="305.8" r="1.75" fill="#8a8a38" fill-opacity="0.85" stroke="#67672a" stroke-width="0.5"/>
<circle cx="314.3" cy="281.4" r="1.75" fill="#a84040" fill-opacity="0.85" stroke="#7e3030" stroke-width="0.5"/>
<circle cx="350.2" cy="296.3" r="1.75" fill="#c83898" fill-opacity="0.85" stroke="#962a72" stroke-width="0.5"/>
<circle cx="296.3" cy="292.7" r="1.75" fill="#c83898" fill-opacity="0.85" stroke="#962a72" stroke-width="0.5"/>
<circle cx="283.0" cy="312.5" r="1.75" fill="#8a8a38" fill-opacity="0.85" stroke="#67672a" stroke-width="0.5"/>
<circle cx="293.3" cy="314.7" r="1.75" fill="#a84040" fill-opacity="0.85" stroke="#7e3030" stroke-width="0.5"/>
<circle cx="302.9" cy="321.4" r="1.75" fill="#a84040" fill-opacity="0.85" stroke="#7e3030" stroke-width="0.5"/>
<circle cx="317.7" cy="321.5" r="1.75" fill="#6a4a8a" fill-opacity="0.85" stroke="#4f3767" stroke-width="0.5"/>
<circle cx="293.5" cy="296.4" r="1.75" fill="#b08a48" fill-opacity="0.85" stroke="#846736" stroke-width="0.5"/>
<circle cx="312.0" cy="327.8" r="1.75" fill="#b85050" fill-opacity="0.85" stroke="#8a3c3c" stroke-width="0.5"/>
<circle cx="360.8" cy="304.3" r="1.75" fill="#b85050" fill-opacity="0.85" stroke="#8a3c3c" stroke-width="0.5"/>
<circle cx="318.5" cy="284.8" r="1.75" fill="#b08a48" fill-opacity="0.85" stroke="#846736" stroke-width="0.5"/>
<circle cx="302.2" cy="324.8" r="1.75" fill="#50aaaa" fill-opacity="0.85" stroke="#3c7f7f" stroke-width="0.5"/>
<circle cx="311.3" cy="290.8" r="1.75" fill="#e080b0" fill-opacity="0.85" stroke="#a86084" stroke-width="0.5"/>
<circle cx="298.1" cy="323.4" r="1.75" fill="#a84040" fill-opacity="0.85" stroke="#7e3030" stroke-width="0.5"/>
<circle cx="323.6" cy="306.2" r="1.75" fill="#c83898" fill-opacity="0.85" stroke="#962a72" stroke-width="0.5"/>
<circle cx="345.6" cy="298.0" r="1.75" fill="#383890" fill-opacity="0.85" stroke="#2a2a6c" stroke-width="0.5"/>
<circle cx="328.3" cy="294.2" r="1.75" fill="#8a8a38" fill-opacity="0.85" stroke="#67672a" stroke-width="0.5"/>
<circle cx="264.4" cy="297.1" r="1.75" fill="#a83e2e" fill-opacity="0.85" stroke="#7e2e22" stroke-width="0.5"/>
<circle cx="272.1" cy="310.0" r="1.75" fill="#b85042" fill-opacity="0.85" stroke="#8a3c31" stroke-width="0.5"/>
<circle cx="264.5" cy="301.5" r="1.75" fill="#a0382a" fill-opacity="0.85" stroke="#782a1f" stroke-width="0.5"/>
<circle cx="269.9" cy="306.1" r="1.75" fill="#a0382a" fill-opacity="0.85" stroke="#782a1f" stroke-width="0.5"/>
<circle cx="286.1" cy="295.3" r="1.75" fill="#b85042" fill-opacity="0.85" stroke="#8a3c31" stroke-width="0.5"/>
<circle cx="266.9" cy="304.7" r="1.75" fill="#b85042" fill-opacity="0.85" stroke="#8a3c31" stroke-width="0.5"/>
<circle cx="287.1" cy="291.0" r="1.75" fill="#a0382a" fill-opacity="0.85" stroke="#782a1f" stroke-width="0.5"/>
<circle cx="267.1" cy="294.6" r="1.75" fill="#a83e2e" fill-opacity="0.85" stroke="#7e2e22" stroke-width="0.5"/>
<circle cx="282.0" cy="291.6" r="1.75" fill="#b04436" fill-opacity="0.85" stroke="#843328" stroke-width="0.5"/>
<circle cx="279.0" cy="307.2" r="1.75" fill="#b85042" fill-opacity="0.85" stroke="#8a3c31" stroke-width="0.5"/>
<circle cx="277.5" cy="315.2" r="1.75" fill="#a83e2e" fill-opacity="0.85" stroke="#7e2e22" stroke-width="0.5"/>
<circle cx="277.8" cy="299.1" r="1.75" fill="#a0382a" fill-opacity="0.85" stroke="#782a1f" stroke-width="0.5"/>
<circle cx="282.1" cy="300.2" r="1.75" fill="#a0382a" fill-opacity="0.85" stroke="#782a1f" stroke-width="0.5"/>
<circle cx="280.8" cy="313.0" r="1.75" fill="#b04436" fill-opacity="0.85" stroke="#843328" stroke-width="0.5"/>
<path d="M300.2,274.2h4.3l-2.1,3.4z" fill="#e0a0c0" fill-opacity="0.75" stroke="#b38099" stroke-width="0.6"/>
<path d="M309.4,280.4h4.3l-2.1,3.4z" fill="#e0a0c0" fill-opacity="0.75" stroke="#b38099" stroke-width="0.6"/>
<path d="M317.1,277.7h4.3l-2.1,3.4z" fill="#e0a0b0" fill-opacity="0.75" stroke="#b3808c" stroke-width="0.6"/>
<path d="M318.7,288.8h4.3l-2.1,3.4z" fill="#c0a0d0" fill-opacity="0.75" stroke="#9980a6" stroke-width="0.6"/>
<path d="M384.8,299.2h4.3l-2.1,3.4z" fill="#8a62a2" fill-opacity="0.75" stroke="#6e4e81" stroke-width="0.6"/>
<path d="M399.8,295.2h4.3l-2.1,3.4z" fill="#8a62a2" fill-opacity="0.75" stroke="#6e4e81" stroke-width="0.6"/>
<path d="M412.5,297.6h4.3l-2.1,3.4z" fill="#8a62a2" fill-opacity="0.75" stroke="#6e4e81" stroke-width="0.6"/>
<path d="M432.9,310.0h4.3l-2.1,3.4z" fill="#8a62a2" fill-opacity="0.75" stroke="#6e4e81" stroke-width="0.6"/>
<path d="M395.9,314.2h4.3l-2.1,3.4z" fill="#8a62a2" fill-opacity="0.75" stroke="#6e4e81" stroke-width="0.6"/>
<path d="M426.4,317.6h4.3l-2.1,3.4z" fill="#8a62a2" fill-opacity="0.75" stroke="#6e4e81" stroke-width="0.6"/>
<path d="M425.2,318.8h4.3l-2.1,3.4z" fill="#8a62a2" fill-opacity="0.75" stroke="#6e4e81" stroke-width="0.6"/>
<path d="M435.6,317.0h4.3l-2.1,3.4z" fill="#8a62a2" fill-opacity="0.75" stroke="#6e4e81" stroke-width="0.6"/>
<path d="M449.9,317.0h4.3l-2.1,3.4z" fill="#c0a070" fill-opacity="0.75" stroke="#998059" stroke-width="0.6"/>
<path d="M451.2,319.3h4.3l-2.1,3.4z" fill="#a0a060" fill-opacity="0.75" stroke="#80804c" stroke-width="0.6"/>
<path d="M456.4,320.7h4.3l-2.1,3.4z" fill="#a07050" fill-opacity="0.75" stroke="#805940" stroke-width="0.6"/>
<path d="M457.6,323.0h4.3l-2.1,3.4z" fill="#a07050" fill-opacity="0.75" stroke="#805940" stroke-width="0.6"/>
<path d="M464.5,320.0h4.3l-2.1,3.4z" fill="#c0a070" fill-opacity="0.75" stroke="#998059" stroke-width="0.6"/>
<path d="M459.9,325.7h4.3l-2.1,3.4z" fill="#a05050" fill-opacity="0.75" stroke="#804040" stroke-width="0.6"/>
<path d="M458.7,330.4h4.3l-2.1,3.4z" fill="#8a62a2" fill-opacity="0.75" stroke="#6e4e81" stroke-width="0.6"/>
<path d="M460.6,329.9h4.3l-2.1,3.4z" fill="#8a62a2" fill-opacity="0.75" stroke="#6e4e81" stroke-width="0.6"/>
<path d="M466.8,333.8h4.3l-2.1,3.4z" fill="#8a62a2" fill-opacity="0.75" stroke="#6e4e81" stroke-width="0.6"/>
<path d="M473.7,323.9h4.3l-2.1,3.4z" fill="#c0a070" fill-opacity="0.75" stroke="#998059" stroke-width="0.6"/>
<path d="M492.2,318.4h4.3l-2.1,3.4z" fill="#c0a070" fill-opacity="0.75" stroke="#998059" stroke-width="0.6"/>
<path d="M414.9,328.0h4.3l-2.1,3.4z" fill="#a07050" fill-opacity="0.75" stroke="#805940" stroke-width="0.6"/>
<path d="M419.5,328.0h4.3l-2.1,3.4z" fill="#a07050" fill-opacity="0.75" stroke="#805940" stroke-width="0.6"/>
<path d="M417.2,332.2h4.3l-2.1,3.4z" fill="#a07050" fill-opacity="0.75" stroke="#805940" stroke-width="0.6"/>
<path d="M420.6,330.4h4.3l-2.1,3.4z" fill="#a07050" fill-opacity="0.75" stroke="#805940" stroke-width="0.6"/>
<path d="M414.9,336.1h4.3l-2.1,3.4z" fill="#c0a070" fill-opacity="0.75" stroke="#998059" stroke-width="0.6"/>
<path d="M424.1,335.0h4.3l-2.1,3.4z" fill="#a08060" fill-opacity="0.75" stroke="#80664c" stroke-width="0.6"/>
<path d="M429.9,332.7h4.3l-2.1,3.4z" fill="#c0a070" fill-opacity="0.75" stroke="#998059" stroke-width="0.6"/>
<path d="M436.8,331.4h4.3l-2.1,3.4z" fill="#c0a070" fill-opacity="0.75" stroke="#998059" stroke-width="0.6"/>
<path d="M428.7,337.3h4.3l-2.1,3.4z" fill="#c0a070" fill-opacity="0.75" stroke="#998059" stroke-width="0.6"/>
<path d="M431.0,339.6h4.3l-2.1,3.4z" fill="#b09070" fill-opacity="0.75" stroke="#8c7359" stroke-width="0.6"/>
<path d="M420.6,340.7h4.3l-2.1,3.4z" fill="#8a62a2" fill-opacity="0.75" stroke="#6e4e81" stroke-width="0.6"/>
<path d="M422.9,341.9h4.3l-2.1,3.4z" fill="#8a62a2" fill-opacity="0.75" stroke="#6e4e81" stroke-width="0.6"/>
<path d="M411.4,341.9h4.3l-2.1,3.4z" fill="#8a62a2" fill-opacity="0.75" stroke="#6e4e81" stroke-width="0.6"/>
<path d="M406.8,341.9h4.3l-2.1,3.4z" fill="#8a62a2" fill-opacity="0.75" stroke="#6e4e81" stroke-width="0.6"/>
<path d="M399.8,343.1h4.3l-2.1,3.4z" fill="#8a62a2" fill-opacity="0.75" stroke="#6e4e81" stroke-width="0.6"/>
<path d="M421.8,347.7h4.3l-2.1,3.4z" fill="#8a62a2" fill-opacity="0.75" stroke="#6e4e81" stroke-width="0.6"/>
<path d="M381.4,346.1h4.3l-2.1,3.4z" fill="#8a62a2" fill-opacity="0.75" stroke="#6e4e81" stroke-width="0.6"/>
<path d="M388.2,350.0h4.3l-2.1,3.4z" fill="#8a62a2" fill-opacity="0.75" stroke="#6e4e81" stroke-width="0.6"/>
<path d="M390.6,350.0h4.3l-2.1,3.4z" fill="#8a62a2" fill-opacity="0.75" stroke="#6e4e81" stroke-width="0.6"/>
<path d="M386.7,353.4h4.3l-2.1,3.4z" fill="#8a62a2" fill-opacity="0.75" stroke="#6e4e81" stroke-width="0.6"/>
<path d="M419.7,289.4h4.3l-2.1,3.4z" fill="#c0a070" fill-opacity="0.75" stroke="#998059" stroke-width="0.6"/>
<path d="M425.1,288.6h4.3l-2.1,3.4z" fill="#c0a070" fill-opacity="0.75" stroke="#998059" stroke-width="0.6"/>
<path d="M399.5,294.8h4.3l-2.1,3.4z" fill="#8a62a2" fill-opacity="0.75" stroke="#6e4e81" stroke-width="0.6"/>
<path d="M412.4,297.4h4.3l-2.1,3.4z" fill="#8a62a2" fill-opacity="0.75" stroke="#6e4e81" stroke-width="0.6"/>
<path d="M385.4,299.4h4.3l-2.1,3.4z" fill="#8a62a2" fill-opacity="0.75" stroke="#6e4e81" stroke-width="0.6"/>
<path d="M433.2,309.6h4.3l-2.1,3.4z" fill="#8a62a2" fill-opacity="0.75" stroke="#6e4e81" stroke-width="0.6"/>
<path d="M395.4,313.7h4.3l-2.1,3.4z" fill="#8a62a2" fill-opacity="0.75" stroke="#6e4e81" stroke-width="0.6"/>
<path d="M426.4,316.4h4.3l-2.1,3.4z" fill="#8a62a2" fill-opacity="0.75" stroke="#6e4e81" stroke-width="0.6"/>
<path d="M449.2,316.4h4.3l-2.1,3.4z" fill="#c0a070" fill-opacity="0.75" stroke="#998059" stroke-width="0.6"/>
<path d="M316.2,338.6h4.3l-2.1,3.4z" fill="#a0a060" fill-opacity="0.75" stroke="#80804c" stroke-width="0.6"/>
<path d="M326.4,332.8h4.3l-2.1,3.4z" fill="#c0a070" fill-opacity="0.75" stroke="#998059" stroke-width="0.6"/>
<path d="M337.2,336.7h4.3l-2.1,3.4z" fill="#a0b090" fill-opacity="0.75" stroke="#808c73" stroke-width="0.6"/>
<path d="M349.9,331.9h4.3l-2.1,3.4z" fill="#a0a060" fill-opacity="0.75" stroke="#80804c" stroke-width="0.6"/>
<path d="M334.4,353.0h4.3l-2.1,3.4z" fill="#8a62a2" fill-opacity="0.75" stroke="#6e4e81" stroke-width="0.6"/>
<path d="M353.7,340.5h4.3l-2.1,3.4z" fill="#8a62a2" fill-opacity="0.75" stroke="#6e4e81" stroke-width="0.6"/>
<path d="M357.5,343.0h4.3l-2.1,3.4z" fill="#8a62a2" fill-opacity="0.75" stroke="#6e4e81" stroke-width="0.6"/>
<path d="M353.7,347.2h4.3l-2.1,3.4z" fill="#8a62a2" fill-opacity="0.75" stroke="#6e4e81" stroke-width="0.6"/>
<path d="M355.6,347.6h4.3l-2.1,3.4z" fill="#8a62a2" fill-opacity="0.75" stroke="#6e4e81" stroke-width="0.6"/>
<path d="M360.4,344.4h4.3l-2.1,3.4z" fill="#8a62a2" fill-opacity="0.75" stroke="#6e4e81" stroke-width="0.6"/>
<path d="M361.4,349.2h4.3l-2.1,3.4z" fill="#8a62a2" fill-opacity="0.75" stroke="#6e4e81" stroke-width="0.6"/>
<path d="M366.2,337.6h4.3l-2.1,3.4z" fill="#8a62a2" fill-opacity="0.75" stroke="#6e4e81" stroke-width="0.6"/>
<path d="M355.6,354.0h4.3l-2.1,3.4z" fill="#8a62a2" fill-opacity="0.75" stroke="#6e4e81" stroke-width="0.6"/>
<path d="M359.4,353.0h4.3l-2.1,3.4z" fill="#8a62a2" fill-opacity="0.75" stroke="#6e4e81" stroke-width="0.6"/>
<path d="M357.5,358.8h4.3l-2.1,3.4z" fill="#8a62a2" fill-opacity="0.75" stroke="#6e4e81" stroke-width="0.6"/>
<path d="M363.2,361.1h4.3l-2.1,3.4z" fill="#8a62a2" fill-opacity="0.75" stroke="#6e4e81" stroke-width="0.6"/>
<path d="M368.1,353.0h4.3l-2.1,3.4z" fill="#8a62a2" fill-opacity="0.75" stroke="#6e4e81" stroke-width="0.6"/>
<path d="M372.9,350.7h4.3l-2.1,3.4z" fill="#8a62a2" fill-opacity="0.75" stroke="#6e4e81" stroke-width="0.6"/>
<path d="M374.8,342.4h4.3l-2.1,3.4z" fill="#8a62a2" fill-opacity="0.75" stroke="#6e4e81" stroke-width="0.6"/>
<path d="M382.1,345.7h4.3l-2.1,3.4z" fill="#8a62a2" fill-opacity="0.75" stroke="#6e4e81" stroke-width="0.6"/>
<path d="M387.2,350.1h4.3l-2.1,3.4z" fill="#8a62a2" fill-opacity="0.75" stroke="#6e4e81" stroke-width="0.6"/>
<path d="M390.2,349.6h4.3l-2.1,3.4z" fill="#8a62a2" fill-opacity="0.75" stroke="#6e4e81" stroke-width="0.6"/>
<path d="M386.4,353.0h4.3l-2.1,3.4z" fill="#8a62a2" fill-opacity="0.75" stroke="#6e4e81" stroke-width="0.6"/>
<path d="M321.9,376.4h4.3l-2.1,3.4z" fill="#a0a060" fill-opacity="0.75" stroke="#80804c" stroke-width="0.6"/>
<path d="M203.3,339.4h4.3l-2.1,3.4z" fill="#a090c8" fill-opacity="0.75" stroke="#8073a0" stroke-width="0.6"/>
<path d="M33.1,329.0h4.3l-2.1,3.4z" fill="#b8b8c0" fill-opacity="0.75" stroke="#939399" stroke-width="0.6"/>
<path d="M46.5,324.2h4.3l-2.1,3.4z" fill="#b8b8c0" fill-opacity="0.75" stroke="#939399" stroke-width="0.6"/>
<path d="M308.5,317.8h4.3l-2.1,3.4z" fill="#c0a070" fill-opacity="0.75" stroke="#998059" stroke-width="0.6"/>
<path d="M353.4,314.7h4.3l-2.1,3.4z" fill="#e0b0c8" fill-opacity="0.75" stroke="#b38ca0" stroke-width="0.6"/>
<path d="M362.6,285.1h4.3l-2.1,3.4z" fill="#b080b0" fill-opacity="0.75" stroke="#8c668c" stroke-width="0.6"/>
<path d="M371.7,298.9h4.3l-2.1,3.4z" fill="#60b0a0" fill-opacity="0.75" stroke="#4c8c80" stroke-width="0.6"/>
<path d="M337.5,316.9h4.3l-2.1,3.4z" fill="#e0b0c8" fill-opacity="0.75" stroke="#b38ca0" stroke-width="0.6"/>
<path d="M356.3,293.3h4.3l-2.1,3.4z" fill="#a07050" fill-opacity="0.75" stroke="#805940" stroke-width="0.6"/>
<path d="M331.0,326.1h4.3l-2.1,3.4z" fill="#b080b0" fill-opacity="0.75" stroke="#8c668c" stroke-width="0.6"/>
<path d="M330.2,306.0h4.3l-2.1,3.4z" fill="#a0a060" fill-opacity="0.75" stroke="#80804c" stroke-width="0.6"/>
<path d="M377.5,311.6h4.3l-2.1,3.4z" fill="#a07050" fill-opacity="0.75" stroke="#805940" stroke-width="0.6"/>
<path d="M362.1,292.7h4.3l-2.1,3.4z" fill="#c0a070" fill-opacity="0.75" stroke="#998059" stroke-width="0.6"/>
<path d="M344.4,291.9h4.3l-2.1,3.4z" fill="#e0b0c8" fill-opacity="0.75" stroke="#b38ca0" stroke-width="0.6"/>
<path d="M376.2,308.5h4.3l-2.1,3.4z" fill="#8a62a2" fill-opacity="0.75" stroke="#6e4e81" stroke-width="0.6"/>
<path d="M313.4,318.5h4.3l-2.1,3.4z" fill="#8a62a2" fill-opacity="0.75" stroke="#6e4e81" stroke-width="0.6"/>
<path d="M322.6,326.7h4.3l-2.1,3.4z" fill="#8a62a2" fill-opacity="0.75" stroke="#6e4e81" stroke-width="0.6"/>
<path d="M360.2,281.9h4.3l-2.1,3.4z" fill="#8a62a2" fill-opacity="0.75" stroke="#6e4e81" stroke-width="0.6"/>
<path d="M374.7,283.6h4.3l-2.1,3.4z" fill="#8a62a2" fill-opacity="0.75" stroke="#6e4e81" stroke-width="0.6"/>
<path d="M377.2,296.9h4.3l-2.1,3.4z" fill="#8a62a2" fill-opacity="0.75" stroke="#6e4e81" stroke-width="0.6"/>
<path d="M367.0,305.2h4.3l-2.1,3.4z" fill="#8a62a2" fill-opacity="0.75" stroke="#6e4e81" stroke-width="0.6"/>
<path d="M343.1,304.7h4.3l-2.1,3.4z" fill="#8a62a2" fill-opacity="0.75" stroke="#6e4e81" stroke-width="0.6"/>
<path d="M349.5,302.7h4.3l-2.1,3.4z" fill="#8a62a2" fill-opacity="0.75" stroke="#6e4e81" stroke-width="0.6"/>
<path d="M377.8,283.5h4.3l-2.1,3.4z" fill="#8a62a2" fill-opacity="0.75" stroke="#6e4e81" stroke-width="0.6"/>
<path d="M378.2,300.7h4.3l-2.1,3.4z" fill="#8a62a2" fill-opacity="0.75" stroke="#6e4e81" stroke-width="0.6"/>
<path d="M354.9,302.3h4.3l-2.1,3.4z" fill="#8a62a2" fill-opacity="0.75" stroke="#6e4e81" stroke-width="0.6"/>
<path d="M348.7,294.5h4.3l-2.1,3.4z" fill="#8a62a2" fill-opacity="0.75" stroke="#6e4e81" stroke-width="0.6"/>
<ellipse cx="218.15" cy="44.9" rx="161.75" ry="12.1" fill="none" stroke="#1d64aa" stroke-width="2.3"/>
<ellipse cx="222.5" cy="68.7" rx="153" ry="16" fill="none" stroke="#d42020" stroke-width="2.3"/>
<ellipse cx="259.7" cy="103" rx="64.3" ry="25.6" fill="none" stroke="#6aa84f" stroke-width="2"/>
<mask id="notRedB"><rect x="0" y="0" width="520" height="498" fill="#fff"/><ellipse cx="330.5" cy="297.6" rx="70" ry="33.8" fill="#000"/></mask>
<ellipse cx="302.4" cy="337.3" rx="216.6" ry="42" fill="none" stroke="#62a040" stroke-width="1.9" mask="url(#notRedB)"/>
<clipPath id="redB"><ellipse cx="330.5" cy="297.6" rx="70" ry="33.8"/></clipPath>
<ellipse cx="302.4" cy="337.3" rx="216.6" ry="42" fill="none" stroke="#96a040" stroke-width="1.7" clip-path="url(#redB)"/>
<ellipse cx="330.5" cy="297.6" rx="70" ry="33.8" fill="#e88080" fill-opacity="0.13" stroke="none"/>
<ellipse cx="330.5" cy="297.6" rx="70" ry="33.8" fill="none" stroke="#d02828" stroke-width="2"/>
<rect x="22.2" y="71" width="29.2" height="19" fill="#eef5ec"/>
<rect x="22.2" y="90" width="29.6" height="33.6" fill="#fde4e8"/>
<rect x="22.2" y="123.6" width="29" height="37.6" fill="#e6ecf8"/>
<text x="23.8" y="77.8" font-family="'Liberation Serif', serif" font-weight="bold" font-size="6.4" fill="#000" textLength="20.4" lengthAdjust="spacingAndGlyphs">Group 1</text>
<rect x="25.1" y="81.1" width="7.10" height="6.40" fill="#38b8d2"/>
<text x="33.4" y="87.0" font-family="'Liberation Serif', serif" font-size="6.6" fill="#111" textLength="10.8" lengthAdjust="spacingAndGlyphs">YY1</text>
<text x="23.8" y="96.4" font-family="'Liberation Serif', serif" font-weight="bold" font-size="6.4" fill="#000" textLength="20.5" lengthAdjust="spacingAndGlyphs">Group 2</text>
<rect x="25.2" y="100.2" width="6.70" height="6.30" fill="#c84a48"/>
<text x="33.4" y="105.6" font-family="'Liberation Serif', serif" font-size="6.3" fill="#111" textLength="13.4" lengthAdjust="spacingAndGlyphs">CTCF</text>
<rect x="25.2" y="108.0" width="6.70" height="5.80" fill="#c052b8"/>
<text x="33.4" y="113.6" font-family="'Liberation Serif', serif" font-size="6.3" fill="#111" textLength="17.3" lengthAdjust="spacingAndGlyphs">RAD21</text>
<rect x="25.2" y="115.9" width="6.70" height="5.60" fill="#d88a6c"/>
<text x="33.4" y="121.2" font-family="'Liberation Serif', serif" font-size="6.3" fill="#111" textLength="9.8" lengthAdjust="spacingAndGlyphs">SA1</text>
<text x="23.6" y="129.6" font-family="'Liberation Serif', serif" font-weight="bold" font-size="6.4" fill="#000" textLength="20.5" lengthAdjust="spacingAndGlyphs">Group 3</text>
<rect x="25.5" y="132.8" width="6.60" height="6.10" fill="#e83224"/>
<text x="33.7" y="137.8" font-family="'Liberation Serif', serif" font-size="6.3" fill="#111" textLength="12.0" lengthAdjust="spacingAndGlyphs">P300</text>
<rect x="25.5" y="140.5" width="6.60" height="6.00" fill="#82e284"/>
<text x="33.7" y="145.7" font-family="'Liberation Serif', serif" font-size="6.3" fill="#111" textLength="13.2" lengthAdjust="spacingAndGlyphs">MAX</text>
<text x="33.3" y="153.3" font-family="'Liberation Serif', serif" font-size="6.3" fill="#111" textLength="12.8" lengthAdjust="spacingAndGlyphs">Other</text>
<text x="32.0" y="159.8" font-family="'Liberation Serif', serif" font-size="6.3" fill="#111" textLength="15.7" lengthAdjust="spacingAndGlyphs">factors</text>
<rect x="21.8" y="335.6" width="28.8" height="32.4" fill="#eef5ec"/>
<rect x="21.8" y="368" width="29" height="44.2" fill="#fde4e8"/>
<text x="22.8" y="342.0" font-family="'Liberation Serif', serif" font-weight="bold" font-size="6.2" fill="#000" textLength="20.5" lengthAdjust="spacingAndGlyphs">Group 1</text>
<rect x="24.4" y="345.6" width="6.50" height="5.70" fill="#c84a48"/>
<text x="32.9" y="350.8" font-family="'Liberation Serif', serif" font-size="6.0" fill="#111" textLength="13.2" lengthAdjust="spacingAndGlyphs">CTCF</text>
<rect x="24.4" y="352.9" width="6.50" height="5.60" fill="#c052b8"/>
<text x="32.9" y="358.2" font-family="'Liberation Serif', serif" font-size="6.0" fill="#111" textLength="16.5" lengthAdjust="spacingAndGlyphs">RAD21</text>
<rect x="24.4" y="360.5" width="6.50" height="6.00" fill="#d88a6c"/>
<text x="32.9" y="366.0" font-family="'Liberation Serif', serif" font-size="6.0" fill="#111" textLength="9.3" lengthAdjust="spacingAndGlyphs">SA1</text>
<text x="22.9" y="373.7" font-family="'Liberation Serif', serif" font-weight="bold" font-size="6.2" fill="#000" textLength="18.3" lengthAdjust="spacingAndGlyphs">Group 2</text>
<rect x="24.3" y="377.1" width="6.50" height="5.50" fill="#e83224"/>
<text x="32.5" y="381.9" font-family="'Liberation Serif', serif" font-size="6.0" fill="#111" textLength="12.5" lengthAdjust="spacingAndGlyphs">P300</text>
<rect x="24.3" y="384.3" width="6.50" height="5.30" fill="#82e284"/>
<text x="32.5" y="389.4" font-family="'Liberation Serif', serif" font-size="6.0" fill="#111" textLength="13.7" lengthAdjust="spacingAndGlyphs">MAX</text>
<rect x="24.3" y="391.5" width="6.50" height="5.80" fill="#38b8d2"/>
<text x="32.5" y="396.8" font-family="'Liberation Serif', serif" font-size="6.0" fill="#111" textLength="10.6" lengthAdjust="spacingAndGlyphs">YY1</text>
<text x="31.6" y="404.0" font-family="'Liberation Serif', serif" font-size="6.0" fill="#111" textLength="13.0" lengthAdjust="spacingAndGlyphs">Other</text>
<text x="30.4" y="410.8" font-family="'Liberation Serif', serif" font-size="6.0" fill="#111" textLength="15.6" lengthAdjust="spacingAndGlyphs">factors</text>
<path d="M19.9,31.0 H21.5 V162.0 H516.5" fill="none" stroke="#444" stroke-width="1.1"/>
<line x1="19.9" y1="152.94" x2="21.5" y2="152.94" stroke="#3a3a3a" stroke-width="0.8"/>
<text x="19.1" y="155.24" font-family="'Liberation Serif', serif" font-weight="bold" font-size="6.8" text-anchor="end" fill="#000">12</text>
<line x1="19.9" y1="139.98" x2="21.5" y2="139.98" stroke="#3a3a3a" stroke-width="0.8"/>
<text x="19.1" y="142.28" font-family="'Liberation Serif', serif" font-weight="bold" font-size="6.8" text-anchor="end" fill="#000">14</text>
<line x1="19.9" y1="127.02" x2="21.5" y2="127.02" stroke="#3a3a3a" stroke-width="0.8"/>
<text x="19.1" y="129.32" font-family="'Liberation Serif', serif" font-weight="bold" font-size="6.8" text-anchor="end" fill="#000">16</text>
<line x1="19.9" y1="114.06" x2="21.5" y2="114.06" stroke="#3a3a3a" stroke-width="0.8"/>
<text x="19.1" y="116.36" font-family="'Liberation Serif', serif" font-weight="bold" font-size="6.8" text-anchor="end" fill="#000">18</text>
<line x1="19.9" y1="101.10" x2="21.5" y2="101.10" stroke="#3a3a3a" stroke-width="0.8"/>
<text x="19.1" y="103.40" font-family="'Liberation Serif', serif" font-weight="bold" font-size="6.8" text-anchor="end" fill="#000">20</text>
<line x1="19.9" y1="88.14" x2="21.5" y2="88.14" stroke="#3a3a3a" stroke-width="0.8"/>
<text x="19.1" y="90.44" font-family="'Liberation Serif', serif" font-weight="bold" font-size="6.8" text-anchor="end" fill="#000">22</text>
<line x1="19.9" y1="75.18" x2="21.5" y2="75.18" stroke="#3a3a3a" stroke-width="0.8"/>
<text x="19.1" y="77.48" font-family="'Liberation Serif', serif" font-weight="bold" font-size="6.8" text-anchor="end" fill="#000">24</text>
<line x1="19.9" y1="62.22" x2="21.5" y2="62.22" stroke="#3a3a3a" stroke-width="0.8"/>
<text x="19.1" y="64.52" font-family="'Liberation Serif', serif" font-weight="bold" font-size="6.8" text-anchor="end" fill="#000">26</text>
<line x1="19.9" y1="49.26" x2="21.5" y2="49.26" stroke="#3a3a3a" stroke-width="0.8"/>
<text x="19.1" y="51.56" font-family="'Liberation Serif', serif" font-weight="bold" font-size="6.8" text-anchor="end" fill="#000">28</text>
<line x1="19.9" y1="36.30" x2="21.5" y2="36.30" stroke="#3a3a3a" stroke-width="0.8"/>
<text x="19.1" y="38.60" font-family="'Liberation Serif', serif" font-weight="bold" font-size="6.8" text-anchor="end" fill="#000">30</text>
<line x1="31.32" y1="162.0" x2="31.32" y2="163.6" stroke="#3a3a3a" stroke-width="0.8"/>
<text x="31.32" y="168.80" font-family="'Liberation Serif', serif" font-weight="bold" font-size="6.8" text-anchor="middle" fill="#000">-6</text>
<line x1="89.68" y1="162.0" x2="89.68" y2="163.6" stroke="#3a3a3a" stroke-width="0.8"/>
<text x="89.68" y="168.80" font-family="'Liberation Serif', serif" font-weight="bold" font-size="6.8" text-anchor="middle" fill="#000">-4</text>
<line x1="148.04" y1="162.0" x2="148.04" y2="163.6" stroke="#3a3a3a" stroke-width="0.8"/>
<text x="148.04" y="168.80" font-family="'Liberation Serif', serif" font-weight="bold" font-size="6.8" text-anchor="middle" fill="#000">-2</text>
<line x1="206.40" y1="162.0" x2="206.40" y2="163.6" stroke="#3a3a3a" stroke-width="0.8"/>
<text x="206.40" y="168.80" font-family="'Liberation Serif', serif" font-weight="bold" font-size="6.8" text-anchor="middle" fill="#000">0</text>
<line x1="264.76" y1="162.0" x2="264.76" y2="163.6" stroke="#3a3a3a" stroke-width="0.8"/>
<text x="264.76" y="168.80" font-family="'Liberation Serif', serif" font-weight="bold" font-size="6.8" text-anchor="middle" fill="#000">2</text>
<line x1="323.12" y1="162.0" x2="323.12" y2="163.6" stroke="#3a3a3a" stroke-width="0.8"/>
<text x="323.12" y="168.80" font-family="'Liberation Serif', serif" font-weight="bold" font-size="6.8" text-anchor="middle" fill="#000">4</text>
<line x1="381.48" y1="162.0" x2="381.48" y2="163.6" stroke="#3a3a3a" stroke-width="0.8"/>
<text x="381.48" y="168.80" font-family="'Liberation Serif', serif" font-weight="bold" font-size="6.8" text-anchor="middle" fill="#000">6</text>
<line x1="439.84" y1="162.0" x2="439.84" y2="163.6" stroke="#3a3a3a" stroke-width="0.8"/>
<text x="439.84" y="168.80" font-family="'Liberation Serif', serif" font-weight="bold" font-size="6.8" text-anchor="middle" fill="#000">8</text>
<line x1="498.20" y1="162.0" x2="498.20" y2="163.6" stroke="#3a3a3a" stroke-width="0.8"/>
<text x="498.20" y="168.80" font-family="'Liberation Serif', serif" font-weight="bold" font-size="6.8" text-anchor="middle" fill="#000">10</text>
<path d="M19.9,266.6 H21.5 V412.5 H513" fill="none" stroke="#444" stroke-width="1.1"/>
<line x1="19.9" y1="411.30" x2="21.5" y2="411.30" stroke="#3a3a3a" stroke-width="0.8"/>
<text x="19.1" y="413.60" font-family="'Liberation Serif', serif" font-weight="bold" font-size="6.8" text-anchor="end" fill="#000">4</text>
<line x1="19.9" y1="400.30" x2="21.5" y2="400.30" stroke="#3a3a3a" stroke-width="0.8"/>
<text x="19.1" y="402.60" font-family="'Liberation Serif', serif" font-weight="bold" font-size="6.8" text-anchor="end" fill="#000">6</text>
<line x1="19.9" y1="389.30" x2="21.5" y2="389.30" stroke="#3a3a3a" stroke-width="0.8"/>
<text x="19.1" y="391.60" font-family="'Liberation Serif', serif" font-weight="bold" font-size="6.8" text-anchor="end" fill="#000">8</text>
<line x1="19.9" y1="378.30" x2="21.5" y2="378.30" stroke="#3a3a3a" stroke-width="0.8"/>
<text x="19.1" y="380.60" font-family="'Liberation Serif', serif" font-weight="bold" font-size="6.8" text-anchor="end" fill="#000">10</text>
<line x1="19.9" y1="367.30" x2="21.5" y2="367.30" stroke="#3a3a3a" stroke-width="0.8"/>
<text x="19.1" y="369.60" font-family="'Liberation Serif', serif" font-weight="bold" font-size="6.8" text-anchor="end" fill="#000">12</text>
<line x1="19.9" y1="356.30" x2="21.5" y2="356.30" stroke="#3a3a3a" stroke-width="0.8"/>
<text x="19.1" y="358.60" font-family="'Liberation Serif', serif" font-weight="bold" font-size="6.8" text-anchor="end" fill="#000">14</text>
<line x1="19.9" y1="345.30" x2="21.5" y2="345.30" stroke="#3a3a3a" stroke-width="0.8"/>
<text x="19.1" y="347.60" font-family="'Liberation Serif', serif" font-weight="bold" font-size="6.8" text-anchor="end" fill="#000">16</text>
<line x1="19.9" y1="334.30" x2="21.5" y2="334.30" stroke="#3a3a3a" stroke-width="0.8"/>
<text x="19.1" y="336.60" font-family="'Liberation Serif', serif" font-weight="bold" font-size="6.8" text-anchor="end" fill="#000">18</text>
<line x1="19.9" y1="323.30" x2="21.5" y2="323.30" stroke="#3a3a3a" stroke-width="0.8"/>
<text x="19.1" y="325.60" font-family="'Liberation Serif', serif" font-weight="bold" font-size="6.8" text-anchor="end" fill="#000">20</text>
<line x1="19.9" y1="312.30" x2="21.5" y2="312.30" stroke="#3a3a3a" stroke-width="0.8"/>
<text x="19.1" y="314.60" font-family="'Liberation Serif', serif" font-weight="bold" font-size="6.8" text-anchor="end" fill="#000">22</text>
<line x1="19.9" y1="301.30" x2="21.5" y2="301.30" stroke="#3a3a3a" stroke-width="0.8"/>
<text x="19.1" y="303.60" font-family="'Liberation Serif', serif" font-weight="bold" font-size="6.8" text-anchor="end" fill="#000">24</text>
<line x1="19.9" y1="290.30" x2="21.5" y2="290.30" stroke="#3a3a3a" stroke-width="0.8"/>
<text x="19.1" y="292.60" font-family="'Liberation Serif', serif" font-weight="bold" font-size="6.8" text-anchor="end" fill="#000">26</text>
<line x1="19.9" y1="279.30" x2="21.5" y2="279.30" stroke="#3a3a3a" stroke-width="0.8"/>
<text x="19.1" y="281.60" font-family="'Liberation Serif', serif" font-weight="bold" font-size="6.8" text-anchor="end" fill="#000">28</text>
<line x1="19.9" y1="268.30" x2="21.5" y2="268.30" stroke="#3a3a3a" stroke-width="0.8"/>
<text x="19.1" y="270.60" font-family="'Liberation Serif', serif" font-weight="bold" font-size="6.8" text-anchor="end" fill="#000">30</text>
<line x1="68.50" y1="412.5" x2="68.50" y2="414.1" stroke="#3a3a3a" stroke-width="0.8"/>
<text x="68.50" y="419.30" font-family="'Liberation Serif', serif" font-weight="bold" font-size="6.8" text-anchor="middle" fill="#000">-15</text>
<line x1="137.50" y1="412.5" x2="137.50" y2="414.1" stroke="#3a3a3a" stroke-width="0.8"/>
<text x="137.50" y="419.30" font-family="'Liberation Serif', serif" font-weight="bold" font-size="6.8" text-anchor="middle" fill="#000">-10</text>
<line x1="206.50" y1="412.5" x2="206.50" y2="414.1" stroke="#3a3a3a" stroke-width="0.8"/>
<text x="206.50" y="419.30" font-family="'Liberation Serif', serif" font-weight="bold" font-size="6.8" text-anchor="middle" fill="#000">-5</text>
<line x1="275.50" y1="412.5" x2="275.50" y2="414.1" stroke="#3a3a3a" stroke-width="0.8"/>
<text x="275.50" y="419.30" font-family="'Liberation Serif', serif" font-weight="bold" font-size="6.8" text-anchor="middle" fill="#000">0</text>
<line x1="344.50" y1="412.5" x2="344.50" y2="414.1" stroke="#3a3a3a" stroke-width="0.8"/>
<text x="344.50" y="419.30" font-family="'Liberation Serif', serif" font-weight="bold" font-size="6.8" text-anchor="middle" fill="#000">5</text>
<line x1="413.50" y1="412.5" x2="413.50" y2="414.1" stroke="#3a3a3a" stroke-width="0.8"/>
<text x="413.50" y="419.30" font-family="'Liberation Serif', serif" font-weight="bold" font-size="6.8" text-anchor="middle" fill="#000">10</text>
<line x1="482.50" y1="412.5" x2="482.50" y2="414.1" stroke="#3a3a3a" stroke-width="0.8"/>
<text x="482.50" y="419.30" font-family="'Liberation Serif', serif" font-weight="bold" font-size="6.8" text-anchor="middle" fill="#000">15</text>
<text transform="translate(8.0,93.5) rotate(-90)" font-family="'Liberation Sans', sans-serif" font-weight="bold" font-size="8.2" text-anchor="middle" fill="#111" textLength="116" lengthAdjust="spacingAndGlyphs">Standard deviation of positions</text>
<text transform="translate(8.0,331.0) rotate(-90)" font-family="'Liberation Sans', sans-serif" font-weight="bold" font-size="8.2" text-anchor="middle" fill="#111" textLength="116" lengthAdjust="spacingAndGlyphs">Standard deviation of positions</text>
<text x="203.7" y="180.0" font-family="'Liberation Sans', sans-serif" font-weight="bold" font-size="8.8" fill="#111">Distance from YY1 center (bp)</text>
<text x="210.2" y="430.8" font-family="'Liberation Sans', sans-serif" font-weight="bold" font-size="8.87" fill="#111">Distance from CTCF center (bp)</text>
<path d="M27.5,175.5 H30.3 V216.8 H132.5" fill="none" stroke="#333" stroke-width="0.9"/>
<line x1="27.5" y1="216.80" x2="30.3" y2="216.80" stroke="#333" stroke-width="0.7"/>
<line x1="28.900000000000002" y1="212.67" x2="30.3" y2="212.67" stroke="#333" stroke-width="0.7"/>
<line x1="28.900000000000002" y1="208.54" x2="30.3" y2="208.54" stroke="#333" stroke-width="0.7"/>
<line x1="28.900000000000002" y1="204.41" x2="30.3" y2="204.41" stroke="#333" stroke-width="0.7"/>
<line x1="28.900000000000002" y1="200.28" x2="30.3" y2="200.28" stroke="#333" stroke-width="0.7"/>
<line x1="27.5" y1="196.15" x2="30.3" y2="196.15" stroke="#333" stroke-width="0.7"/>
<line x1="28.900000000000002" y1="192.02" x2="30.3" y2="192.02" stroke="#333" stroke-width="0.7"/>
<line x1="28.900000000000002" y1="187.89" x2="30.3" y2="187.89" stroke="#333" stroke-width="0.7"/>
<line x1="28.900000000000002" y1="183.76" x2="30.3" y2="183.76" stroke="#333" stroke-width="0.7"/>
<line x1="28.900000000000002" y1="179.63" x2="30.3" y2="179.63" stroke="#333" stroke-width="0.7"/>
<line x1="27.5" y1="175.50" x2="30.3" y2="175.50" stroke="#333" stroke-width="0.7"/>
<text x="25.9" y="219.10" font-family="'Liberation Sans', sans-serif" font-weight="bold" font-size="6.4" text-anchor="end" fill="#1a1a1a">0.0</text>
<text x="25.9" y="198.45" font-family="'Liberation Sans', sans-serif" font-weight="bold" font-size="6.4" text-anchor="end" fill="#1a1a1a">0.5</text>
<text x="25.9" y="177.80" font-family="'Liberation Sans', sans-serif" font-weight="bold" font-size="6.4" text-anchor="end" fill="#1a1a1a">1.0</text>
<text transform="translate(15.0,196.7) rotate(-90)" font-family="'Liberation Sans', sans-serif" font-size="7.5" text-anchor="middle" fill="#111">bits</text>
<text transform="translate(30.81,198.17) scale(0.1193,0.1356)" font-family="'Liberation Sans', sans-serif" font-weight="bold" font-size="100" fill="#2222cc">C</text>
<text transform="translate(31.01,207.00) scale(0.1163,0.1221)" font-family="'Liberation Sans', sans-serif" font-weight="bold" font-size="100" fill="#1f9a2a">A</text>
<text transform="translate(31.15,211.60) scale(0.1325,0.0640)" font-family="'Liberation Sans', sans-serif" font-weight="bold" font-size="100" fill="#e02020">T</text>
<text transform="translate(30.83,216.63) scale(0.1156,0.0692)" font-family="'Liberation Sans', sans-serif" font-weight="bold" font-size="100" fill="#f0a020">G</text>
<line x1="35.20" y1="216.8" x2="35.20" y2="218.3" stroke="#333" stroke-width="0.6"/>
<text x="35.20" y="225.80" font-family="'Liberation Sans', sans-serif" font-size="6.9" text-anchor="middle" fill="#111">-6</text>
<text transform="translate(39.46,205.00) scale(0.1163,0.2791)" font-family="'Liberation Sans', sans-serif" font-weight="bold" font-size="100" fill="#1f9a2a">A</text>
<text transform="translate(39.28,211.22) scale(0.1156,0.0847)" font-family="'Liberation Sans', sans-serif" font-weight="bold" font-size="100" fill="#f0a020">G</text>
<text transform="translate(39.60,215.30) scale(0.1325,0.0552)" font-family="'Liberation Sans', sans-serif" font-weight="bold" font-size="100" fill="#e02020">T</text>
<text transform="translate(39.26,216.68) scale(0.1193,0.0169)" font-family="'Liberation Sans', sans-serif" font-weight="bold" font-size="100" fill="#2222cc">C</text>
<line x1="43.65" y1="216.8" x2="43.65" y2="218.3" stroke="#333" stroke-width="0.6"/>
<text x="43.65" y="225.80" font-family="'Liberation Sans', sans-serif" font-size="6.9" text-anchor="middle" fill="#111">-5</text>
<text transform="translate(47.91,202.40) scale(0.1163,0.2442)" font-family="'Liberation Sans', sans-serif" font-weight="bold" font-size="100" fill="#1f9a2a">A</text>
<text transform="translate(48.05,209.30) scale(0.1325,0.0974)" font-family="'Liberation Sans', sans-serif" font-weight="bold" font-size="100" fill="#e02020">T</text>
<text transform="translate(47.71,214.83) scale(0.1193,0.0763)" font-family="'Liberation Sans', sans-serif" font-weight="bold" font-size="100" fill="#2222cc">C</text>
<text transform="translate(47.73,216.68) scale(0.1156,0.0226)" font-family="'Liberation Sans', sans-serif" font-weight="bold" font-size="100" fill="#f0a020">G</text>
<line x1="52.10" y1="216.8" x2="52.10" y2="218.3" stroke="#333" stroke-width="0.6"/>
<text x="52.10" y="225.80" font-family="'Liberation Sans', sans-serif" font-size="6.9" text-anchor="middle" fill="#111">-4</text>
<text transform="translate(56.36,202.40) scale(0.1163,0.2151)" font-family="'Liberation Sans', sans-serif" font-weight="bold" font-size="100" fill="#1f9a2a">A</text>
<text transform="translate(56.18,208.71) scale(0.1156,0.0876)" font-family="'Liberation Sans', sans-serif" font-weight="bold" font-size="100" fill="#f0a020">G</text>
<text transform="translate(56.16,214.82) scale(0.1193,0.0833)" font-family="'Liberation Sans', sans-serif" font-weight="bold" font-size="100" fill="#2222cc">C</text>
<text transform="translate(56.50,216.70) scale(0.1325,0.0233)" font-family="'Liberation Sans', sans-serif" font-weight="bold" font-size="100" fill="#e02020">T</text>
<line x1="60.55" y1="216.8" x2="60.55" y2="218.3" stroke="#333" stroke-width="0.6"/>
<text x="60.55" y="225.80" font-family="'Liberation Sans', sans-serif" font-size="6.9" text-anchor="middle" fill="#111">-3</text>
<text transform="translate(64.81,216.70) scale(0.1163,0.5828)" font-family="'Liberation Sans', sans-serif" font-weight="bold" font-size="100" fill="#1f9a2a">A</text>
<line x1="69.00" y1="216.8" x2="69.00" y2="218.3" stroke="#333" stroke-width="0.6"/>
<text x="69.00" y="225.80" font-family="'Liberation Sans', sans-serif" font-size="6.9" text-anchor="middle" fill="#111">-2</text>
<text transform="translate(73.40,216.70) scale(0.1325,0.5799)" font-family="'Liberation Sans', sans-serif" font-weight="bold" font-size="100" fill="#e02020">T</text>
<line x1="77.45" y1="216.8" x2="77.45" y2="218.3" stroke="#333" stroke-width="0.6"/>
<text x="77.45" y="225.80" font-family="'Liberation Sans', sans-serif" font-size="6.9" text-anchor="middle" fill="#111">-1</text>
<text transform="translate(81.53,216.15) scale(0.1156,0.5579)" font-family="'Liberation Sans', sans-serif" font-weight="bold" font-size="100" fill="#f0a020">G</text>
<line x1="85.90" y1="216.8" x2="85.90" y2="218.3" stroke="#333" stroke-width="0.6"/>
<text x="85.90" y="225.80" font-family="'Liberation Sans', sans-serif" font-size="6.9" text-anchor="middle" fill="#111">0</text>
<text transform="translate(89.98,215.49) scale(0.1156,0.5240)" font-family="'Liberation Sans', sans-serif" font-weight="bold" font-size="100" fill="#f0a020">G</text>
<text transform="translate(90.30,216.70) scale(0.1325,0.0087)" font-family="'Liberation Sans', sans-serif" font-weight="bold" font-size="100" fill="#e02020">T</text>
<line x1="94.35" y1="216.8" x2="94.35" y2="218.3" stroke="#333" stroke-width="0.6"/>
<text x="94.35" y="225.80" font-family="'Liberation Sans', sans-serif" font-size="6.9" text-anchor="middle" fill="#111">1</text>
<text transform="translate(98.41,204.92) scale(0.1193,0.2895)" font-family="'Liberation Sans', sans-serif" font-weight="bold" font-size="100" fill="#2222cc">C</text>
<text transform="translate(98.61,211.60) scale(0.1163,0.0901)" font-family="'Liberation Sans', sans-serif" font-weight="bold" font-size="100" fill="#1f9a2a">A</text>
<text transform="translate(98.75,216.40) scale(0.1325,0.0669)" font-family="'Liberation Sans', sans-serif" font-weight="bold" font-size="100" fill="#e02020">T</text>
<line x1="102.80" y1="216.8" x2="102.80" y2="218.3" stroke="#333" stroke-width="0.6"/>
<text x="102.80" y="225.80" font-family="'Liberation Sans', sans-serif" font-size="6.9" text-anchor="middle" fill="#111">2</text>
<text transform="translate(106.88,197.71) scale(0.1156,0.0960)" font-family="'Liberation Sans', sans-serif" font-weight="bold" font-size="100" fill="#f0a020">G</text>
<text transform="translate(107.20,205.20) scale(0.1325,0.1047)" font-family="'Liberation Sans', sans-serif" font-weight="bold" font-size="100" fill="#e02020">T</text>
<text transform="translate(106.86,210.92) scale(0.1193,0.0791)" font-family="'Liberation Sans', sans-serif" font-weight="bold" font-size="100" fill="#2222cc">C</text>
<text transform="translate(107.06,216.70) scale(0.1163,0.0799)" font-family="'Liberation Sans', sans-serif" font-weight="bold" font-size="100" fill="#1f9a2a">A</text>
<line x1="111.25" y1="216.8" x2="111.25" y2="218.3" stroke="#333" stroke-width="0.6"/>
<text x="111.25" y="225.80" font-family="'Liberation Sans', sans-serif" font-size="6.9" text-anchor="middle" fill="#111">3</text>
<text transform="translate(115.33,197.65) scale(0.1156,0.1525)" font-family="'Liberation Sans', sans-serif" font-weight="bold" font-size="100" fill="#f0a020">G</text>
<text transform="translate(115.65,205.20) scale(0.1325,0.1047)" font-family="'Liberation Sans', sans-serif" font-weight="bold" font-size="100" fill="#e02020">T</text>
<text transform="translate(115.31,210.73) scale(0.1193,0.0763)" font-family="'Liberation Sans', sans-serif" font-weight="bold" font-size="100" fill="#2222cc">C</text>
<text transform="translate(115.51,216.70) scale(0.1163,0.0828)" font-family="'Liberation Sans', sans-serif" font-weight="bold" font-size="100" fill="#1f9a2a">A</text>
<line x1="119.70" y1="216.8" x2="119.70" y2="218.3" stroke="#333" stroke-width="0.6"/>
<text x="119.70" y="225.80" font-family="'Liberation Sans', sans-serif" font-size="6.9" text-anchor="middle" fill="#111">4</text>
<text transform="translate(123.76,202.18) scale(0.1193,0.2260)" font-family="'Liberation Sans', sans-serif" font-weight="bold" font-size="100" fill="#2222cc">C</text>
<text transform="translate(123.96,208.80) scale(0.1163,0.0901)" font-family="'Liberation Sans', sans-serif" font-weight="bold" font-size="100" fill="#1f9a2a">A</text>
<text transform="translate(124.10,214.30) scale(0.1325,0.0770)" font-family="'Liberation Sans', sans-serif" font-weight="bold" font-size="100" fill="#e02020">T</text>
<text transform="translate(123.78,216.67) scale(0.1156,0.0311)" font-family="'Liberation Sans', sans-serif" font-weight="bold" font-size="100" fill="#f0a020">G</text>
<line x1="128.15" y1="216.8" x2="128.15" y2="218.3" stroke="#333" stroke-width="0.6"/>
<text x="128.15" y="225.80" font-family="'Liberation Sans', sans-serif" font-size="6.9" text-anchor="middle" fill="#111">5</text>
<text x="32.4" y="237.6" font-family="'Liberation Sans', sans-serif" font-weight="bold" font-size="8.7" fill="#111" textLength="95.0" lengthAdjust="spacingAndGlyphs">YY1 DNA binding motif</text>
<path d="M27.5,432.7 H30.3 V474.0 H132.5" fill="none" stroke="#333" stroke-width="0.9"/>
<line x1="27.5" y1="474.00" x2="30.3" y2="474.00" stroke="#333" stroke-width="0.7"/>
<line x1="28.900000000000002" y1="469.87" x2="30.3" y2="469.87" stroke="#333" stroke-width="0.7"/>
<line x1="28.900000000000002" y1="465.74" x2="30.3" y2="465.74" stroke="#333" stroke-width="0.7"/>
<line x1="28.900000000000002" y1="461.61" x2="30.3" y2="461.61" stroke="#333" stroke-width="0.7"/>
<line x1="28.900000000000002" y1="457.48" x2="30.3" y2="457.48" stroke="#333" stroke-width="0.7"/>
<line x1="27.5" y1="453.35" x2="30.3" y2="453.35" stroke="#333" stroke-width="0.7"/>
<line x1="28.900000000000002" y1="449.22" x2="30.3" y2="449.22" stroke="#333" stroke-width="0.7"/>
<line x1="28.900000000000002" y1="445.09" x2="30.3" y2="445.09" stroke="#333" stroke-width="0.7"/>
<line x1="28.900000000000002" y1="440.96" x2="30.3" y2="440.96" stroke="#333" stroke-width="0.7"/>
<line x1="28.900000000000002" y1="436.83" x2="30.3" y2="436.83" stroke="#333" stroke-width="0.7"/>
<line x1="27.5" y1="432.70" x2="30.3" y2="432.70" stroke="#333" stroke-width="0.7"/>
<text x="25.9" y="476.30" font-family="'Liberation Sans', sans-serif" font-weight="bold" font-size="6.4" text-anchor="end" fill="#1a1a1a">0.0</text>
<text x="25.9" y="455.65" font-family="'Liberation Sans', sans-serif" font-weight="bold" font-size="6.4" text-anchor="end" fill="#1a1a1a">0.5</text>
<text x="25.9" y="435.00" font-family="'Liberation Sans', sans-serif" font-weight="bold" font-size="6.4" text-anchor="end" fill="#1a1a1a">1.0</text>
<text transform="translate(15.0,453.9) rotate(-90)" font-family="'Liberation Sans', sans-serif" font-size="7.5" text-anchor="middle" fill="#111">bits</text>
<text transform="translate(30.81,466.03) scale(0.1193,0.3814)" font-family="'Liberation Sans', sans-serif" font-weight="bold" font-size="100" fill="#2222cc">C</text>
<text transform="translate(31.01,469.80) scale(0.1163,0.0465)" font-family="'Liberation Sans', sans-serif" font-weight="bold" font-size="100" fill="#1f9a2a">A</text>
<text transform="translate(31.15,472.80) scale(0.1325,0.0407)" font-family="'Liberation Sans', sans-serif" font-weight="bold" font-size="100" fill="#e02020">T</text>
<text transform="translate(30.83,473.99) scale(0.1156,0.0141)" font-family="'Liberation Sans', sans-serif" font-weight="bold" font-size="100" fill="#f0a020">G</text>
<line x1="35.20" y1="474.0" x2="35.20" y2="475.5" stroke="#333" stroke-width="0.6"/>
<text x="35.20" y="483.00" font-family="'Liberation Sans', sans-serif" font-size="6.9" text-anchor="middle" fill="#111">-6</text>
<text transform="translate(39.26,473.45) scale(0.1193,0.5593)" font-family="'Liberation Sans', sans-serif" font-weight="bold" font-size="100" fill="#2222cc">C</text>
<line x1="43.65" y1="474.0" x2="43.65" y2="475.5" stroke="#333" stroke-width="0.6"/>
<text x="43.65" y="483.00" font-family="'Liberation Sans', sans-serif" font-size="6.9" text-anchor="middle" fill="#111">-5</text>
<text transform="translate(47.91,464.40) scale(0.1163,0.3052)" font-family="'Liberation Sans', sans-serif" font-weight="bold" font-size="100" fill="#1f9a2a">A</text>
<text transform="translate(48.05,470.30) scale(0.1325,0.0828)" font-family="'Liberation Sans', sans-serif" font-weight="bold" font-size="100" fill="#e02020">T</text>
<text transform="translate(47.73,473.95) scale(0.1156,0.0494)" font-family="'Liberation Sans', sans-serif" font-weight="bold" font-size="100" fill="#f0a020">G</text>
<line x1="52.10" y1="474.0" x2="52.10" y2="475.5" stroke="#333" stroke-width="0.6"/>
<text x="52.10" y="483.00" font-family="'Liberation Sans', sans-serif" font-size="6.9" text-anchor="middle" fill="#111">-4</text>
<text transform="translate(56.16,460.56) scale(0.1193,0.2486)" font-family="'Liberation Sans', sans-serif" font-weight="bold" font-size="100" fill="#2222cc">C</text>
<text transform="translate(56.18,469.68) scale(0.1156,0.1243)" font-family="'Liberation Sans', sans-serif" font-weight="bold" font-size="100" fill="#f0a020">G</text>
<text transform="translate(56.36,473.00) scale(0.1163,0.0436)" font-family="'Liberation Sans', sans-serif" font-weight="bold" font-size="100" fill="#1f9a2a">A</text>
<text transform="translate(56.50,474.00) scale(0.1325,0.0131)" font-family="'Liberation Sans', sans-serif" font-weight="bold" font-size="100" fill="#e02020">T</text>
<line x1="60.55" y1="474.0" x2="60.55" y2="475.5" stroke="#333" stroke-width="0.6"/>
<text x="60.55" y="483.00" font-family="'Liberation Sans', sans-serif" font-size="6.9" text-anchor="middle" fill="#111">-3</text>
<text transform="translate(64.95,455.60) scale(0.1325,0.1759)" font-family="'Liberation Sans', sans-serif" font-weight="bold" font-size="100" fill="#e02020">T</text>
<text transform="translate(64.61,467.63) scale(0.1193,0.1695)" font-family="'Liberation Sans', sans-serif" font-weight="bold" font-size="100" fill="#2222cc">C</text>
<text transform="translate(64.81,474.00) scale(0.1163,0.0872)" font-family="'Liberation Sans', sans-serif" font-weight="bold" font-size="100" fill="#1f9a2a">A</text>
<line x1="69.00" y1="474.0" x2="69.00" y2="475.5" stroke="#333" stroke-width="0.6"/>
<text x="69.00" y="483.00" font-family="'Liberation Sans', sans-serif" font-size="6.9" text-anchor="middle" fill="#111">-2</text>
<text transform="translate(73.26,469.40) scale(0.1163,0.4666)" font-family="'Liberation Sans', sans-serif" font-weight="bold" font-size="100" fill="#1f9a2a">A</text>
<text transform="translate(73.40,472.80) scale(0.1325,0.0465)" font-family="'Liberation Sans', sans-serif" font-weight="bold" font-size="100" fill="#e02020">T</text>
<text transform="translate(73.06,473.99) scale(0.1193,0.0141)" font-family="'Liberation Sans', sans-serif" font-weight="bold" font-size="100" fill="#2222cc">C</text>
<line x1="77.45" y1="474.0" x2="77.45" y2="475.5" stroke="#333" stroke-width="0.6"/>
<text x="77.45" y="483.00" font-family="'Liberation Sans', sans-serif" font-size="6.9" text-anchor="middle" fill="#111">-1</text>
<text transform="translate(81.53,473.45) scale(0.1156,0.5621)" font-family="'Liberation Sans', sans-serif" font-weight="bold" font-size="100" fill="#f0a020">G</text>
<line x1="85.90" y1="474.0" x2="85.90" y2="475.5" stroke="#333" stroke-width="0.6"/>
<text x="85.90" y="483.00" font-family="'Liberation Sans', sans-serif" font-size="6.9" text-anchor="middle" fill="#111">0</text>
<text transform="translate(89.98,459.93) scale(0.1156,0.2797)" font-family="'Liberation Sans', sans-serif" font-weight="bold" font-size="100" fill="#f0a020">G</text>
<text transform="translate(90.16,474.00) scale(0.1163,0.1977)" font-family="'Liberation Sans', sans-serif" font-weight="bold" font-size="100" fill="#1f9a2a">A</text>
<line x1="94.35" y1="474.0" x2="94.35" y2="475.5" stroke="#333" stroke-width="0.6"/>
<text x="94.35" y="483.00" font-family="'Liberation Sans', sans-serif" font-size="6.9" text-anchor="middle" fill="#111">1</text>
<text transform="translate(98.43,456.13) scale(0.1156,0.1709)" font-family="'Liberation Sans', sans-serif" font-weight="bold" font-size="100" fill="#f0a020">G</text>
<text transform="translate(98.75,467.80) scale(0.1325,0.1642)" font-family="'Liberation Sans', sans-serif" font-weight="bold" font-size="100" fill="#e02020">T</text>
<text transform="translate(98.61,474.00) scale(0.1163,0.0872)" font-family="'Liberation Sans', sans-serif" font-weight="bold" font-size="100" fill="#1f9a2a">A</text>
<line x1="102.80" y1="474.0" x2="102.80" y2="475.5" stroke="#333" stroke-width="0.6"/>
<text x="102.80" y="483.00" font-family="'Liberation Sans', sans-serif" font-size="6.9" text-anchor="middle" fill="#111">2</text>
<text transform="translate(106.88,473.46) scale(0.1156,0.5508)" font-family="'Liberation Sans', sans-serif" font-weight="bold" font-size="100" fill="#f0a020">G</text>
<line x1="111.25" y1="474.0" x2="111.25" y2="475.5" stroke="#333" stroke-width="0.6"/>
<text x="111.25" y="483.00" font-family="'Liberation Sans', sans-serif" font-size="6.9" text-anchor="middle" fill="#111">3</text>
<text transform="translate(115.33,465.93) scale(0.1156,0.3771)" font-family="'Liberation Sans', sans-serif" font-weight="bold" font-size="100" fill="#f0a020">G</text>
<text transform="translate(115.65,470.80) scale(0.1325,0.0625)" font-family="'Liberation Sans', sans-serif" font-weight="bold" font-size="100" fill="#e02020">T</text>
<text transform="translate(115.51,474.00) scale(0.1163,0.0436)" font-family="'Liberation Sans', sans-serif" font-weight="bold" font-size="100" fill="#1f9a2a">A</text>
<line x1="119.70" y1="474.0" x2="119.70" y2="475.5" stroke="#333" stroke-width="0.6"/>
<text x="119.70" y="483.00" font-family="'Liberation Sans', sans-serif" font-size="6.9" text-anchor="middle" fill="#111">4</text>
<text transform="translate(123.76,461.50) scale(0.1193,0.3023)" font-family="'Liberation Sans', sans-serif" font-weight="bold" font-size="100" fill="#2222cc">C</text>
<text transform="translate(123.96,469.40) scale(0.1163,0.1076)" font-family="'Liberation Sans', sans-serif" font-weight="bold" font-size="100" fill="#1f9a2a">A</text>
<text transform="translate(124.10,472.80) scale(0.1325,0.0465)" font-family="'Liberation Sans', sans-serif" font-weight="bold" font-size="100" fill="#e02020">T</text>
<text transform="translate(123.78,473.99) scale(0.1156,0.0141)" font-family="'Liberation Sans', sans-serif" font-weight="bold" font-size="100" fill="#f0a020">G</text>
<line x1="128.15" y1="474.0" x2="128.15" y2="475.5" stroke="#333" stroke-width="0.6"/>
<text x="128.15" y="483.00" font-family="'Liberation Sans', sans-serif" font-size="6.9" text-anchor="middle" fill="#111">5</text>
<text x="28.8" y="495.0" font-family="'Liberation Sans', sans-serif" font-weight="bold" font-size="8.7" fill="#111" textLength="101.3" lengthAdjust="spacingAndGlyphs">CTCF DNA binding motif</text>
</svg></body></html>
